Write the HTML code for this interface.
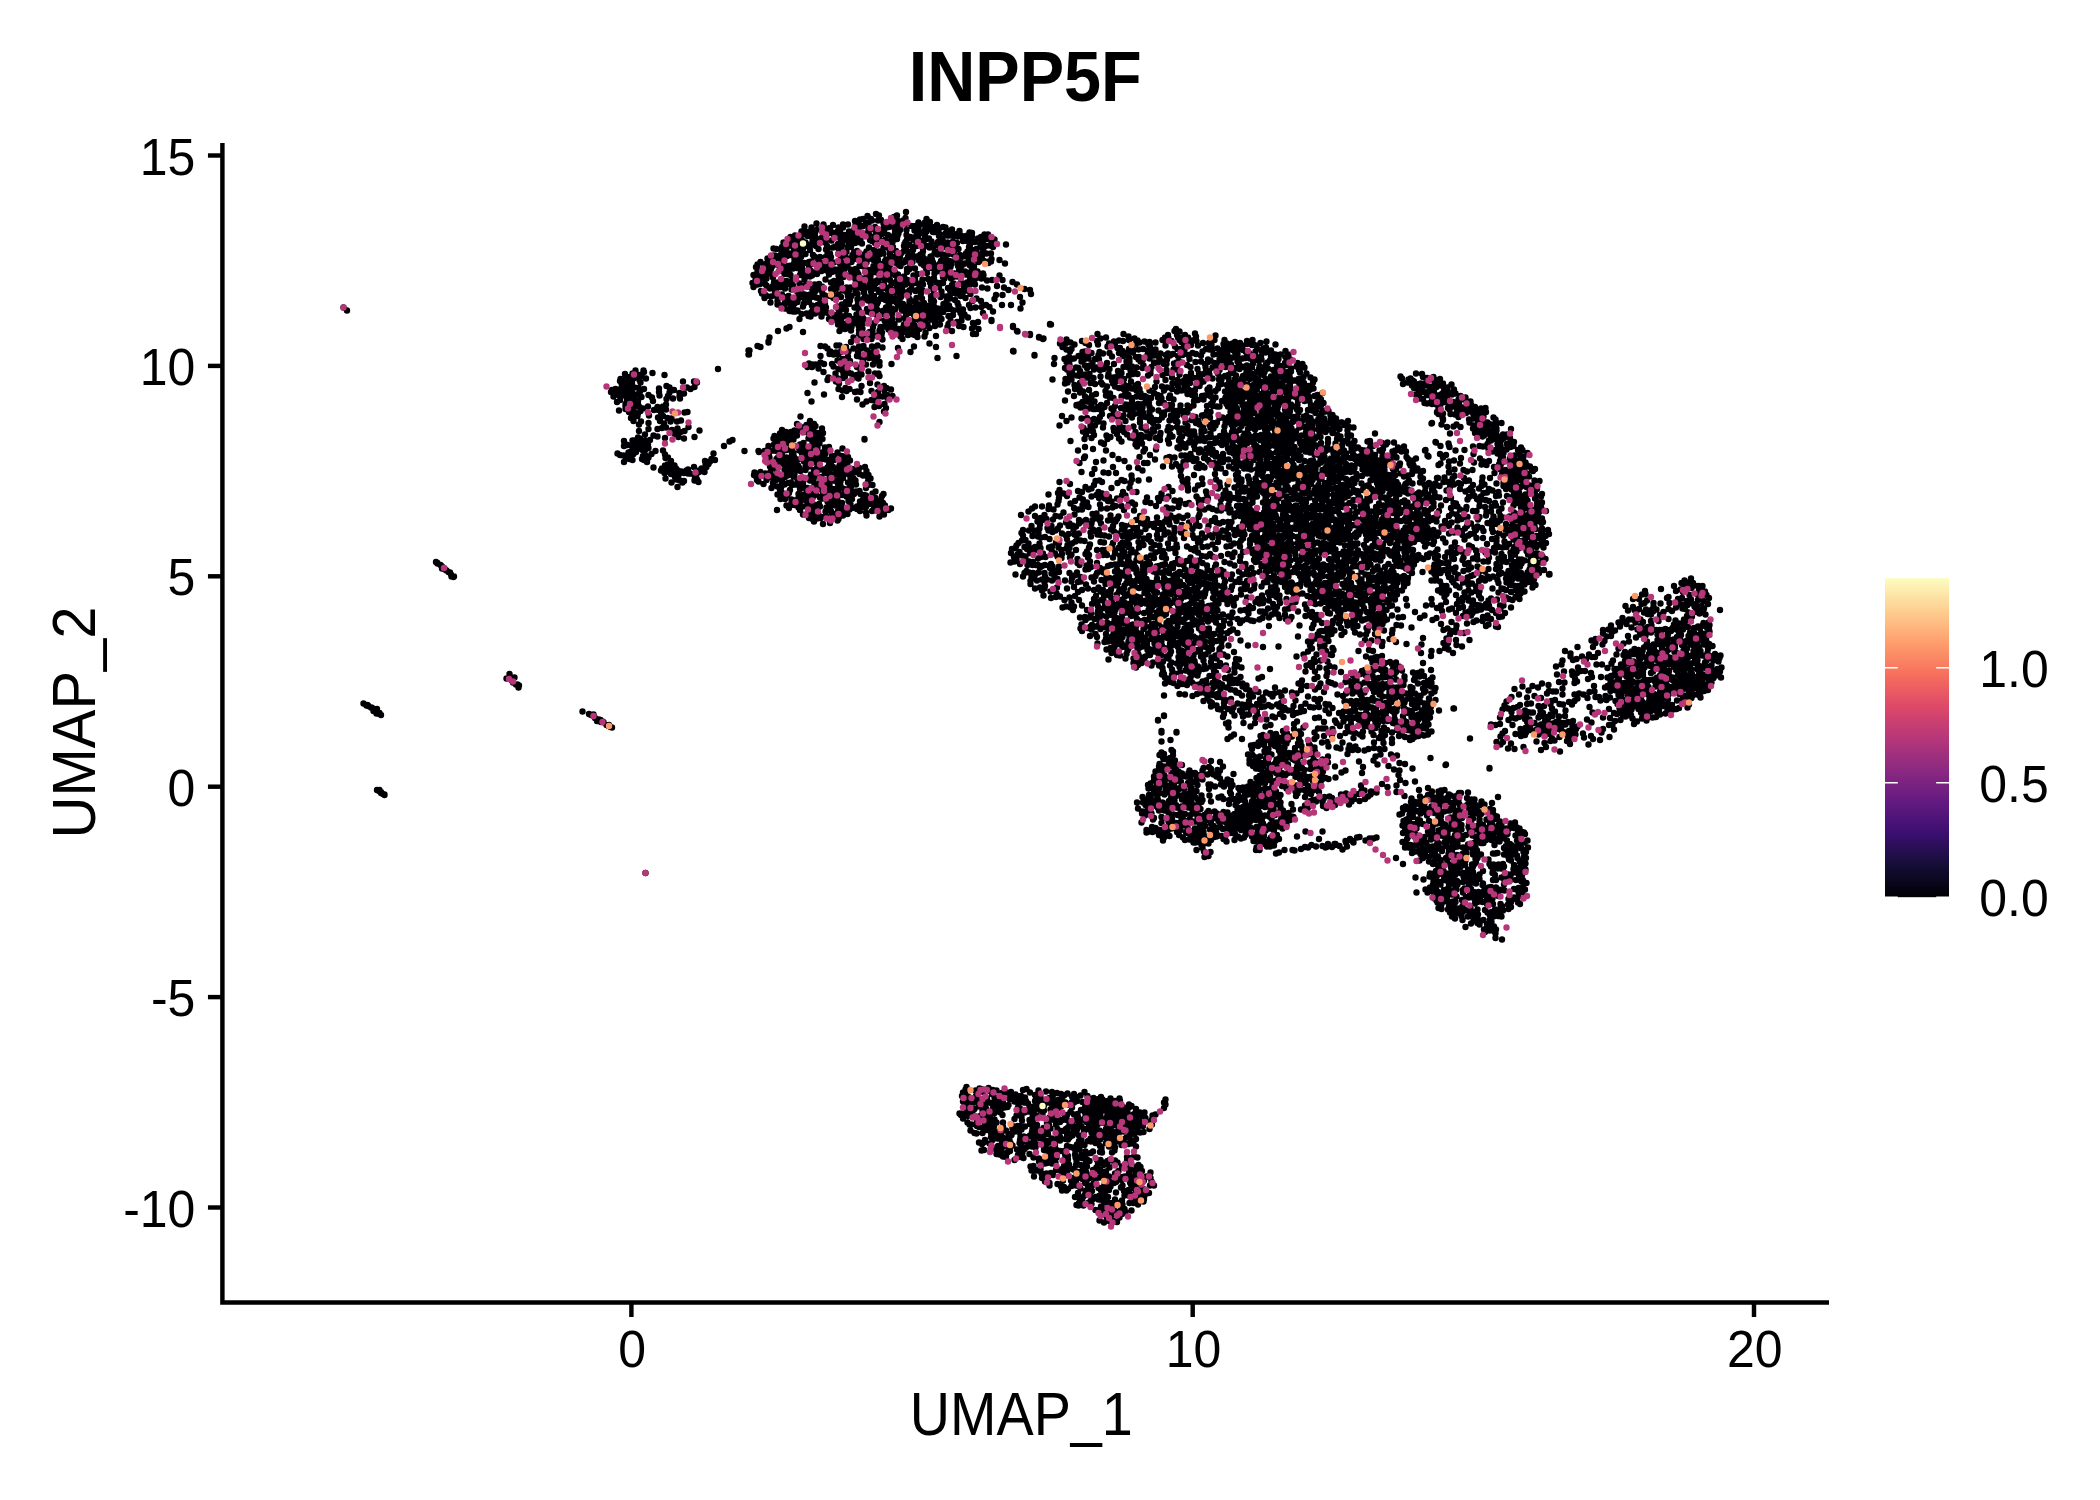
<!DOCTYPE html>
<html lang="en"><head><meta charset="utf-8"><title>INPP5F UMAP feature plot</title>
<style>html,body{margin:0;padding:0;background:#fff}svg{display:block}text{font-family:"Liberation Sans", Arial, Helvetica, sans-serif;fill:#000}</style></head><body>
<svg width="2100" height="1500" viewBox="0 0 2100 1500">
<rect width="2100" height="1500" fill="#fff"/>
<path transform="scale(.5)" fill="none" stroke="#000004" stroke-width="12.8" stroke-linecap="round" d="M687 615h0m7 6h0m72 967h0m-4-2h0m0-2h0m-4-2h0m1-2h0m-5 0h0m8-150h0m-3-2h0m-6-1h0m6-1h0m-8-4h0m-4 0h0m1-1h0m6-3h0m-8-1h0m-4-2h0m1 0h0m-7-3h0m0-1h0m-3 0h0m2-1h0m-8-3h0m42 182h0m0 1h0m103-466h0m2 1h0m1 2h0m6 3h0m2 2h0m2 2h0m4 3h0m-5 0h0m6 2h0m3 2h0m4 3h0m3 1h0m2 4h0m1 4h0m5 0h0m-1 1h0m130 221h0m1-4h0m-3-2h0m-3 0h0m-6-4h0m-2-4h0m-1-1h0m-3-2h0m-7-1h0m4 0h0m12-2h0m-10-7h0m146 75h0m13 5h0m9 1h0m-5 1h0m6 3h0m2 3h0m7 3h0m-3 3h0m30 13h0m-3-1h0m-4-2h0m-4-2h0m5 0h0m-11-6h0m-5 0h0m3-1h0m-4-3h0m46-529h0m-7-1h0m-5-3h0m13-15h0m0-10h0m-10-61h0m-4-17h0m6-4h0m1-7h0m-14 0h0m19-3h0m-9 0h0m9-3h0m-16-1h0m9 0h0m-17-2h0m8-1h0m6-2h0m-12-1h0m7-2h0m15-2h0m-3-1h0m0-9h0m-3-4h0m1-4h0m46-17h0m-16 0h0m17 3h0m-16 3h0m-7 0h0m-15 1h0m33 1h0m-4 2h0m2 2h0m-22 1h0m10 1h0m23 2h0m-25 0h0m-18 2h0m30 1h0m-23 1h0m-8 3h0m33 1h0m-17 1h0m-8 1h0m7 6h0m-13 1h0m19 1h0m8 1h0m-21 1h0m32 1h0m-24 1h0m16 4h0m-23 2h0m3 0h0m-7 1h0m12 2h0m-4 1h0m12 0h0m-21 1h0m12 2h0m4 0h0m-11 2h0m26 0h0m-30 0h0m16 1h0m-15 5h0m9 0h0m13 2h0m-10 2h0m-2 4h0m12 0h0m-25 0h0m19 2h0m-4 1h0m-15 1h0m45 1h0m-37 1h0m20 0h0m-15 2h0m22 1h0m-19 1h0m-16 0h0m9 2h0m21 2h0m-23 2h0m11 1h0m7 2h0m-11 3h0m10 2h0m-7 2h0m-6 2h0m5 6h0m15 1h0m-4 6h0m0 13h0m12 7h0m-14 6h0m4 2h0m-15 4h0m25 0h0m-14 0h0m-8 0h0m13 4h0m-5 0h0m-3 0h0m13 1h0m-37 1h0m47 1h0m-41 2h0m37 0h0m-27 2h0m8 0h0m5 1h0m12 2h0m-25 1h0m26 3h0m-18 1h0m12 0h0m4 2h0m-17 2h0m-6 0h0m-6 0h0m-3 1h0m10 3h0m-6 0h0m-5 2h0m8 0h0m27 1h0m-5 1h0m-35 1h0m38 3h0m-35 0h0m8 1h0m22 1h0m-25 0h0m6 2h0m23 0h0m6 2h0m0 2h0m-46 0h0m43 822h0m52-781h0m-12-8h0m11-9h0m-13-2h0m12-2h0m-6-1h0m-13-2h0m2-4h0m14-1h0m-31-1h0m23-4h0m12-2h0m-7 0h0m7-7h0m-11-6h0m-34-1h0m39 0h0m-6-6h0m-27-1h0m8-6h0m15-1h0m-29-5h0m3-16h0m30-4h0m-15-3h0m-8-2h0m37-11h0m-47-2h0m18 0h0m9-2h0m8-1h0m-4-8h0m-31-1h0m44-3h0m-21-1h0m23-5h0m-8-1h0m-19-1h0m10-3h0m-28-1h0m24-7h0m-5-4h0m-9 0h0m24-1h0m-17-5h0m11-1h0m6-4h0m-26-7h0m27-4h0m-29-3h0m32-3h0m-17-1h0m-22-1h0m42-5h0m-21-1h0m0-7h0m21-2h0m-6-3h0m-4-22h0m-24-4h0m61 17h0m22 0h0m1 11h0m-15 1h0m7 3h0m-33 2h0m11 6h0m9 1h0m-9 6h0m1 4h0m-14 0h0m29 27h0m-6 1h0m-7 16h0m-8 2h0m23 11h0m-22 3h0m14 5h0m-8 2h0m-11 4h0m39 6h0m-32 0h0m11 3h0m-19 54h0m39 3h0m-43 0h0m7 3h0m24 2h0m-3 2h0m-17 0h0m-9 1h0m16 1h0m-11 2h0m16 1h0m8 1h0m4 0h0m8 2h0m-31 1h0m-7 4h0m40 2h0m-37 3h0m7 2h0m29 0h0m-21 1h0m-3 3h0m-10 9h0m42-10h0m-3-5h0m-2-7h0m1-4h0m16-4h0m-11 0h0m0-3h0m11-1h0m-6-3h0m10-3h0m4-6h0m-6-1h0m9-4h0m-10-1h0m20-2h0m-7-2h0m4-11h0m-28-46h0m-5-96h0m42-27h0m29 142h0m-6 3h0m-11 9h0m79 76h0m-10-5h0m-3-3h0m19 0h0m-21-7h0m17-2h0m-21-1h0m17-2h0m6-1h0m-22-2h0m12-1h0m-3-40h0m-29-2h0m40 0h0m-12 0h0m19-3h0m-39-190h0m1 0h0m-1-8h0m2 0h0m22-7h0m0 0h0m-6-2h0m0 0h0m14-96h0m4-4h0m-3-3h0m-6-2h0m-2-5h0m14-7h0m-29-1h0m26-3h0m-18-2h0m5-1h0m10 0h0m-25-2h0m18-4h0m10-5h0m-22-1h0m8-1h0m10-3h0m-22-2h0m22-2h0m-11-1h0m4 0h0m-7-4h0m4 0h0m-3-3h0m19 0h0m-2-3h0m-21-3h0m3-5h0m13 0h0m7-4h0m-14-1h0m14-7h0m46-43h0m-4 7h0m-10 4h0m16 1h0m-2 5h0m-17 3h0m5 0h0m-22 3h0m6 1h0m20 3h0m-9 1h0m4 1h0m-6 6h0m19 1h0m-33 1h0m26 1h0m-22 0h0m-8 4h0m22 0h0m-10 2h0m0 5h0m-15 5h0m8 1h0m14 0h0m19 2h0m-6 1h0m-31 0h0m14 1h0m8 0h0m-25 5h0m35 0h0m-10 5h0m-28 0h0m38 1h0m-5 0h0m-32 3h0m29 1h0m6 0h0m6 2h0m-35 5h0m38 6h0m-11 1h0m-6 0h0m-12 3h0m-7 0h0m11 1h0m17 2h0m-10 2h0m-20 2h0m16 2h0m-4 0h0m-18 3h0m30 0h0m-18 2h0m31 0h0m-33 5h0m14 5h0m-15 2h0m28 1h0m-35 1h0m30 1h0m-12 0h0m8 1h0m12 4h0m-25 3h0m19 2h0m-33 1h0m29 0h0m10 1h0m-25 3h0m14 1h0m-7 1h0m20 4h0m-12 2h0m12 3h0m-3 2h0m0 32h0m-6 3h0m-17 5h0m-17 13h0m-2 8h0m0 2h0m27 175h0m3 4h0m15 0h0m-10 0h0m-12 3h0m23 1h0m-13 3h0m-21 1h0m29 3h0m-17 1h0m-14 1h0m7 0h0m21 4h0m-5 1h0m11 0h0m-4 4h0m5 1h0m-25 1h0m-9 1h0m5 0h0m30 2h0m-22 1h0m-24 0h0m25 4h0m17 3h0m-17 1h0m11 0h0m-26 1h0m21 0h0m-15 1h0m-15 5h0m26 3h0m-5 4h0m-20 1h0m17 0h0m17 0h0m-8 1h0m16 0h0m-28 2h0m23 1h0m-17 0h0m9 2h0m13 1h0m-40 1h0m15 2h0m27 1h0m-16 2h0m4 2h0m-31 3h0m10 1h0m24 0h0m-30 2h0m25 3h0m14 1h0m-29 1h0m23 2h0m-7 0h0m-29 1h0m38 5h0m-4 2h0m-31 1h0m9 0h0m6 2h0m11 0h0m-7 1h0m-20 0h0m9 5h0m12 4h0m18 1h0m-6 1h0m-30 0h0m23 3h0m15 1h0m-29 3h0m7 2h0m-19 1h0m17 3h0m20 1h0m-17 4h0m15 2h0m-23 3h0m20 1h0m-11 3h0m6 5h0m-9 0h0m22 1h0m0 6h0m-1 5h0m-9 1h0m5 5h0m-24 4h0m74 23h0m-3-5h0m-7-2h0m1-7h0m-13 0h0m21-1h0m-10-3h0m8-1h0m-25-4h0m30 0h0m-2-4h0m-31-1h0m5-1h0m4-1h0m20 0h0m-12-1h0m-25-2h0m5 0h0m6-1h0m26-1h0m-11-4h0m-29-2h0m18-2h0m-10-1h0m4 0h0m18-1h0m9-2h0m-20-3h0m16 0h0m7-2h0m-10-1h0m-12 0h0m26-1h0m-35-1h0m24-5h0m-8-3h0m-13-2h0m15-2h0m-5 0h0m-4-1h0m22-1h0m1-5h0m-38 0h0m5 0h0m4-1h0m6 0h0m21-6h0m-25 0h0m5-1h0m13 0h0m-25-2h0m32-1h0m-8-3h0m12-2h0m-44 0h0m35-4h0m-33-1h0m12-6h0m27-2h0m-33 0h0m16 0h0m-20-4h0m7-1h0m13-1h0m7-1h0m-33 0h0m11-2h0m-7 0h0m29-2h0m9-5h0m-6 0h0m-13-1h0m3 0h0m20-3h0m-36-1h0m11 0h0m-15 0h0m30-1h0m-33-4h0m26 0h0m-7-1h0m14-1h0m6-1h0m-13-2h0m-30-1h0m20-1h0m-17-1h0m28-1h0m10-4h0m-26 0h0m5-1h0m14-2h0m-17 0h0m-17-2h0m24 0h0m-12-2h0m31-2h0m3-3h0m-30 0h0m7-3h0m18-1h0m1-5h0m-39-1h0m30-2h0m-33-1h0m47-5h0m-37 0h0m21-6h0m-29 0h0m42-2h0m-6-1h0m-33-1h0m8 0h0m30-2h0m-22-4h0m26-3h0m-13-1h0m7 0h0m-12-1h0m15-2h0m-34 0h0m27 0h0m-1-6h0m-19-9h0m22-30h0m-8-17h0m14-21h0m-5-31h0m-9 0h0m10-5h0m6 0h0m-13-2h0m-12-63h0m-7-26h0m22-5h0m-4-1h0m-14-4h0m27-1h0m-17 0h0m10-3h0m-37-1h0m5 0h0m39-2h0m-35 0h0m-8-4h0m39-1h0m-20-3h0m25 0h0m-7-2h0m-35-4h0m19 0h0m10-3h0m-23 0h0m-8-4h0m23-1h0m6-2h0m-18-1h0m34-1h0m-9-1h0m-9-1h0m-2-3h0m-14 0h0m22-1h0m-12 0h0m-4-2h0m22-1h0m-31-2h0m35-1h0m-28-2h0m22-4h0m8-4h0m-15-1h0m-31-1h0m25-1h0m18-1h0m-30-2h0m10-8h0m11-6h0m-11-2h0m15 0h0m-24-1h0m5-1h0m5-3h0m20-1h0m-28-1h0m8-1h0m11-2h0m-17-1h0m-18-3h0m8-1h0m24-1h0m-14 0h0m19-7h0m-24 0h0m-11-1h0m21-1h0m-5 0h0m14-2h0m5-1h0m-24-1h0m-10-3h0m8-3h0m5-2h0m27-1h0m-3-3h0m-15-2h0m-13-1h0m-13-1h0m7-1h0m11-4h0m17-1h0m-14-2h0m-19-3h0m11-2h0m-4 0h0m15 0h0m11-1h0m-4-3h0m-5-4h0m15 0h0m-31-3h0m34 0h0m-25-1h0m-19-1h0m40-1h0m-33-1h0m10-2h0m29-1h0m-16-3h0m-25-1h0m30-1h0m-14-2h0m24-1h0m-4 0h0m-18-3h0m8 0h0m-13-1h0m20-2h0m0-6h0m-14-2h0m24-6h0m14 2h0m19 1h0m11 5h0m-27 1h0m10 0h0m-25 3h0m20 3h0m6 0h0m19 0h0m-5 1h0m-11 2h0m-5 1h0m20 0h0m-11 4h0m-24 5h0m36 1h0m-32 1h0m-14 1h0m4 1h0m14 2h0m11 0h0m-21 2h0m4 1h0m34 3h0m-4 1h0m-22 4h0m-22 0h0m48 1h0m-10 0h0m-4 2h0m11 2h0m-22 0h0m-18 1h0m15 1h0m26 5h0m-18 3h0m-5 1h0m-15 6h0m11 0h0m11 0h0m-8 3h0m3 5h0m-21 2h0m31 1h0m12 1h0m-36 0h0m-9 2h0m18 2h0m8 3h0m-5 0h0m-13 2h0m5 3h0m15 1h0m8 0h0m-4 0h0m-15 1h0m-12 0h0m16 0h0m25 1h0m-37 1h0m30 1h0m-16 1h0m7 0h0m-30 4h0m24 1h0m19 2h0m-26 8h0m25 2h0m-8 1h0m-6 3h0m9 1h0m6 2h0m-39 0h0m35 2h0m4 2h0m-33 1h0m23 0h0m5 4h0m-10 1h0m-23 1h0m28 0h0m-2 5h0m-20 3h0m32 2h0m-27 2h0m15 1h0m-5 0h0m7 4h0m-29 1h0m3 11h0m9 0h0m-5 0h0m-10 2h0m40 3h0m-23 2h0m-6 2h0m31 2h0m-37 6h0m16 1h0m-10 0h0m33 1h0m-10 3h0m-26 3h0m37 1h0m-22 4h0m9 0h0m5 2h0m-10 0h0m15 4h0m-1 5h0m3 13h0m-6 29h0m6 0h0m-38 1h0m9 1h0m5 4h0m6 6h0m11 2h0m-13 3h0m18 1h0m-10 0h0m-26 3h0m34 9h0m-34 4h0m7 3h0m16 0h0m3 5h0m-30 4h0m40 1h0m-30 6h0m24 3h0m-14 8h0m17 1h0m-19 4h0m17 3h0m6 4h0m-1 11h0m-29 11h0m-4 68h0m-9 9h0m11 0h0m-7 3h0m-4 3h0m-2 6h0m12 0h0m-7 4h0m1 5h0m19 7h0m-23 1h0m15 0h0m-15 3h0m20 3h0m-3 1h0m-5 2h0m28 1h0m-35 1h0m11 1h0m-7 2h0m25 3h0m-5 0h0m-27 2h0m11 4h0m4 1h0m5 1h0m11 0h0m-30 3h0m24 1h0m-28 2h0m24 4h0m21 1h0m-17 3h0m4 0h0m-11 1h0m-21 1h0m5 1h0m31 0h0m-24 2h0m-10 2h0m44 2h0m-31 0h0m10 0h0m-6 3h0m20 2h0m-6 1h0m-8 1h0m20 2h0m-14 1h0m-22 1h0m15 5h0m12 2h0m-5 0h0m-10 3h0m-15 1h0m35 0h0m-27 3h0m-13 1h0m24 1h0m-19 3h0m36 1h0m-16 2h0m4 2h0m6 0h0m-14 0h0m-14 1h0m35 1h0m-7 6h0m-12 1h0m6 0h0m-18 1h0m22 2h0m-24 2h0m7 0h0m-11 3h0m19 1h0m-14 1h0m24 1h0m6 2h0m-20 3h0m13 1h0m5 0h0m-14 3h0m18 1h0m-39 0h0m33 3h0m-38 0h0m7 2h0m20 1h0m-7 1h0m-17 2h0m43 1h0m-3 4h0m-14 0h0m-11 1h0m13 3h0m-27 3h0m28 1h0m-13 2h0m21 1h0m-30 1h0m-2 2h0m-7 1h0m43 1h0m-2 3h0m-15 5h0m-14 2h0m40-17h0m9-3h0m-4-4h0m-4-1h0m-3 0h0m36-1h0m-21-3h0m15-1h0m6-1h0m-16-1h0m-7-1h0m27-1h0m-10-1h0m-31-1h0m18-1h0m0-3h0m-17-2h0m36-3h0m-23-1h0m29-1h0m-22-3h0m-6-3h0m29 0h0m-34-2h0m4-1h0m3-1h0m-16-1h0m24-2h0m13 0h0m-29 0h0m-2-3h0m22-2h0m7-1h0m-16 0h0m-15-4h0m10-1h0m-17-5h0m22-1h0m9-2h0m-5-2h0m-11-2h0m-15-2h0m30-2h0m-29-2h0m25-2h0m-21-1h0m15 0h0m25-5h0m-41-3h0m34 0h0m-23 0h0m4-1h0m8-2h0m-24-3h0m30-1h0m-16-1h0m7-2h0m-25-2h0m39 0h0m-30-2h0m6-2h0m-4-4h0m-10-3h0m4-1h0m15-3h0m-11-1h0m1-5h0m6-1h0m-9-1h0m-4-1h0m2-15h0m40-88h0m-11-10h0m-30-5h0m26-10h0m11 0h0m-6-1h0m-22-1h0m-8-1h0m14-3h0m-8-2h0m32-4h0m-6-15h0m-31-1h0m22-1h0m-18-2h0m23-3h0m10-1h0m-36-1h0m15-1h0m-5-2h0m24-1h0m-36-3h0m3-7h0m26 0h0m-14-12h0m26-2h0m-40-2h0m10-5h0m24 0h0m-6-1h0m2-7h0m-35-1h0m16-1h0m10-6h0m15 0h0m-30-3h0m26-1h0m9-1h0m-25-8h0m25-6h0m-20-3h0m14-4h0m-3-4h0m-16-6h0m16-1h0m-28-2h0m8-1h0m27 0h0m-22-3h0m-6-2h0m-15 0h0m35-1h0m5 0h0m-36-1h0m15-1h0m4-1h0m-12-1h0m35-1h0m-47 0h0m34-1h0m-33-3h0m35-3h0m-12-1h0m18 0h0m3-2h0m-39-3h0m11-1h0m-6-1h0m28 0h0m-7-2h0m6-6h0m-27-3h0m-11-1h0m36-1h0m-8-3h0m-24 0h0m-4-1h0m8-2h0m-5-3h0m14-1h0m18-1h0m-24-3h0m8-3h0m23-2h0m-8 0h0m-33-5h0m14-1h0m7-1h0m12-4h0m-20-1h0m33-2h0m-17-1h0m-25-3h0m12 0h0m27-4h0m-14 0h0m-10-2h0m-20 0h0m36 0h0m-24 0h0m30-1h0m4-5h0m-45-3h0m36-1h0m-5-2h0m4-3h0m-6-1h0m15-2h0m-46-2h0m7-1h0m19-1h0m-4-4h0m-16 0h0m31 0h0m-2-4h0m-7-2h0m5-1h0m-25-2h0m13-1h0m10-1h0m-30-3h0m6-1h0m40-1h0m-32 0h0m24-1h0m-37-3h0m5-3h0m39 0h0m-30-2h0m7 0h0m-22-3h0m28-3h0m19 0h0m-13 0h0m-12-2h0m-12-4h0m-10-1h0m44-1h0m-20 0h0m9-2h0m-6-3h0m-15-2h0m21-1h0m-30-1h0m18-7h0m-6-1h0m-12-2h0m18-1h0m22-3h0m-14-1h0m-12-1h0m18-1h0m-32-1h0m5-2h0m25-1h0m7-1h0m-34-1h0m15-1h0m15-3h0m-25 0h0m17 0h0m-26-4h0m5 0h0m22-2h0m-7-1h0m-5-4h0m20-2h0m-11 0h0m8-3h0m-29-3h0m40-3h0m-15-2h0m-25-1h0m10 0h0m22-1h0m-1-5h0m-7-1h0m10-3h0m6-1h0m26-10h0m6 3h0m-23 1h0m7 6h0m20 2h0m-18 1h0m12 0h0m-24 4h0m5 0h0m30 2h0m5 4h0m-35 0h0m13 3h0m23 1h0m-7 3h0m-21 0h0m-8 2h0m31 2h0m-16 0h0m8 3h0m8 1h0m-16 0h0m12 2h0m-35 0h0m9 1h0m38 1h0m-26 2h0m8 6h0m12 2h0m-30 0h0m4 2h0m6 0h0m20 2h0m-20 2h0m17 9h0m7 0h0m-36 0h0m10 5h0m16 2h0m-31 1h0m25 0h0m-7 2h0m16 2h0m-8 2h0m-16 0h0m-14 0h0m19 3h0m4 0h0m-11 5h0m-7 1h0m38 1h0m-25 1h0m9 0h0m-4 2h0m18 0h0m-37 3h0m40 1h0m-11 2h0m-7 2h0m-8 2h0m25 2h0m-11 3h0m-10 0h0m-5 0h0m-8 3h0m10 4h0m18 1h0m-10 1h0m-23 0h0m38 3h0m-30 3h0m-6 2h0m24 2h0m-20 1h0m31 3h0m-16 1h0m-7 2h0m10 1h0m-17 2h0m11 1h0m17 2h0m-25 4h0m-10 2h0m39 1h0m-30 1h0m23 0h0m-16 0h0m11 2h0m-18 4h0m16 1h0m8 6h0m-18 2h0m-18 0h0m11 2h0m33 0h0m-12 2h0m-34 1h0m39 1h0m-14 2h0m18 0h0m-35 1h0m10 1h0m10 2h0m-2 4h0m-7 1h0m-4 1h0m29 5h0m-38 3h0m4 1h0m16 0h0m-8 2h0m25 0h0m-6 1h0m-32 1h0m40 2h0m-33 0h0m26 3h0m-14 1h0m5 8h0m-28 3h0m45 1h0m-5 0h0m-20 5h0m19 7h0m-7 1h0m-15 0h0m13 7h0m-14 1h0m-6 2h0m25 1h0m-5 0h0m-15 5h0m-8 0h0m12 1h0m15 0h0m-30 5h0m4 1h0m6 1h0m22 1h0m-10 12h0m-11 2h0m21 2h0m-17 4h0m-14 2h0m10 4h0m-10 5h0m21 3h0m-17 3h0m10 1h0m2 6h0m9 1h0m-27 5h0m14 0h0m13 2h0m-22 12h0m20 4h0m-7 0h0m9 5h0m-19 14h0m15 3h0m13 3h0m5 4h0m-4 5h0m-26 1h0m13 2h0m18 6h0m-17 2h0m8 1h0m10 3h0m-32 4h0m5 1h0m-15 2h0m36 5h0m-11 4h0m-9 2h0m23 2h0m-4 7h0m-9 21h0m-30 34h0m0 1h0m1 55h0m3 8h0m4 8h0m-2 3h0m6 4h0m-5 6h0m9 7h0m-9 0h0m-4 6h0m19 7h0m-6 4h0m22 1h0m-38 2h0m3 1h0m32 1h0m-18 4h0m5 0h0m11 4h0m-28 2h0m16 1h0m-6 0h0m-14 3h0m36 0h0m-32 0h0m23 1h0m-19 1h0m28 2h0m-12 1h0m16 0h0m-10 1h0m-3 0h0m-9 1h0m-16 1h0m21 1h0m10 5h0m-15 1h0m-4 1h0m-12 3h0m29 1h0m7 3h0m-35 2h0m26 2h0m18-13h0m5-3h0m3-225h0m-3-13h0m1-51h0m38-24h0m-25-8h0m9-18h0m-4-5h0m15-3h0m-14-1h0m19-1h0m-31-3h0m15 0h0m-12-2h0m5-1h0m-21-3h0m31 0h0m14-1h0m-25 0h0m16 0h0m-27-1h0m34-3h0m-13-1h0m-29-1h0m30-3h0m11 0h0m-30-1h0m31-3h0m-36-3h0m14-3h0m13-1h0m-26 0h0m15-2h0m12-6h0m-28-2h0m34-2h0m-42-4h0m46-1h0m-18 0h0m12 0h0m-26-2h0m-6-2h0m19 0h0m5-3h0m10-3h0m-16 0h0m-25-1h0m19 0h0m10-2h0m-27-2h0m14-1h0m26-1h0m-20-1h0m23-1h0m-38 0h0m12-2h0m23-2h0m-40-2h0m11 0h0m12-2h0m-26-3h0m28-2h0m-24 0h0m20-2h0m18-1h0m-41-1h0m35 0h0m-22-1h0m13-3h0m16 0h0m-43-1h0m15-1h0m8-1h0m24-1h0m-19-1h0m-24-2h0m23-2h0m-9-3h0m13 0h0m4 0h0m4-3h0m-27 0h0m34-1h0m-39 0h0m14 0h0m5-1h0m-8-3h0m-14-1h0m35 0h0m-4-1h0m-3-6h0m-18-3h0m-11-1h0m17 0h0m-5-3h0m-7-1h0m30-1h0m-36 0h0m-1-4h0m41-1h0m-4-1h0m-34-2h0m21-4h0m20-2h0m-24 0h0m10-5h0m-18 0h0m27-2h0m-4-3h0m-32-1h0m15 0h0m3 0h0m-22 0h0m9-1h0m15-4h0m16-1h0m-25 0h0m-11-4h0m41 0h0m-18-3h0m15-2h0m-38-2h0m12 0h0m16 0h0m4-1h0m-26-7h0m22-2h0m-29-1h0m40-1h0m-10-2h0m2-4h0m-26 0h0m-3-3h0m32-2h0m-20-1h0m27-4h0m-36-1h0m10-1h0m18-2h0m-16-3h0m-7-1h0m23-6h0m-23 0h0m10 0h0m0-4h0m-11-1h0m-11-1h0m45-2h0m-41 0h0m29-4h0m-17 0h0m-5 0h0m12-2h0m5-5h0m-18 0h0m6-1h0m17-4h0m-23-2h0m6-3h0m18-7h0m41 14h0m7 6h0m-23 1h0m13 0h0m5 2h0m-8 2h0m-12 1h0m-5 2h0m39 2h0m-36 0h0m21 1h0m10 1h0m-27 1h0m24 1h0m-11 2h0m-21 1h0m24 2h0m18 1h0m-35 0h0m30 0h0m-24 1h0m-3 2h0m-5 1h0m16 4h0m-18 1h0m4 3h0m22 1h0m-32 2h0m25 0h0m-5 2h0m-16 0h0m33 2h0m-15 6h0m-9 0h0m18 3h0m-24 0h0m-6 2h0m39 1h0m-7 0h0m-13 3h0m-20 2h0m44 3h0m-24 0h0m23 4h0m-28 2h0m4 2h0m-20 0h0m9 2h0m27 0h0m-31 1h0m-6 3h0m35 1h0m-10 0h0m-9 0h0m24 1h0m-26 2h0m12 1h0m-25 2h0m31 0h0m10 1h0m-24 2h0m12 1h0m-6 3h0m21 0h0m-6 5h0m-33 1h0m22 0h0m20 6h0m-18 3h0m15 1h0m-34 1h0m-8 3h0m41 5h0m-12 2h0m-26 0h0m15 1h0m14 0h0m7 2h0m-36 1h0m30 3h0m-32 1h0m8 1h0m10 2h0m-6 1h0m22 3h0m-20 1h0m-6 5h0m31 2h0m-22 0h0m-14 1h0m11 5h0m20 5h0m-22 2h0m26 0h0m-33 2h0m11 1h0m18 3h0m6 3h0m-20 3h0m-16 1h0m6 2h0m25 1h0m-4 1h0m-28 2h0m37 0h0m-3 0h0m-18 1h0m-22 1h0m28 2h0m-11 1h0m22 0h0m-15 2h0m-17 0h0m7 0h0m8 5h0m15 0h0m-10 0h0m-18 4h0m37 0h0m-43 1h0m34 2h0m-23 3h0m17 1h0m14 1h0m-37 1h0m30 1h0m-25 1h0m9 1h0m-22 1h0m26 5h0m19 0h0m-15 2h0m-26 2h0m41 1h0m-23 2h0m-14 1h0m26 1h0m-32 2h0m12 0h0m-7 2h0m19 6h0m-17 1h0m-5 3h0m20 3h0m-14 1h0m24 13h0m-31 6h0m44 1h0m47 1533h0m-44-1511h0m38-4h0m-41-40h0m32-10h0m-9-8h0m23-2h0m-38-3h0m17-1h0m-21-1h0m38-3h0m-13-3h0m-18-3h0m-4-4h0m18-2h0m9-2h0m-28-4h0m8-2h0m21-3h0m-34 0h0m45-1h0m-37-2h0m13 0h0m7 0h0m-26-1h0m10 0h0m4 0h0m28-5h0m-19-1h0m-7-2h0m-4-1h0m28-2h0m-22-3h0m17-3h0m-10-3h0m-19-3h0m12-1h0m-10-4h0m18-1h0m11-1h0m-7-3h0m-22-1h0m37-1h0m-20-1h0m13-2h0m-4 0h0m-13-3h0m-18-2h0m26-4h0m3-3h0m-27-1h0m6 0h0m-13-1h0m16-8h0m13 0h0m-16-3h0m20 0h0m8-1h0m-25 0h0m12-1h0m-8-3h0m4-1h0m12-1h0m-30-5h0m12 0h0m27-1h0m-35-1h0m11-1h0m-18 0h0m21-2h0m4-3h0m-10 0h0m25-2h0m-13-4h0m13 0h0m-37 0h0m20-2h0m-7-1h0m25-2h0m-35-1h0m17 0h0m12-3h0m-19 0h0m-6-5h0m30-1h0m-9-4h0m-32 0h0m11 0h0m11-1h0m4-3h0m-21-4h0m29 0h0m8-3h0m-13-2h0m-19-1h0m11-1h0m15-1h0m-20-1h0m-18-2h0m7 0h0m19-3h0m-14-1h0m29 0h0m-19-1h0m-19-1h0m30-1h0m-25-4h0m4-1h0m31-5h0m-38-1h0m29 0h0m-12-1h0m4 0h0m15-3h0m-35 0h0m23 0h0m-11-1h0m3-5h0m25 0h0m-42-2h0m27-1h0m-13-4h0m-5-1h0m-12-4h0m65 15h0m5 1h0m-22 5h0m10 1h0m12 1h0m18 1h0m-24 2h0m-12 0h0m30 1h0m9 0h0m-4 1h0m-19 1h0m26 1h0m-34 2h0m-8 0h0m24 2h0m13 1h0m-24 1h0m22 4h0m-21 0h0m-2 4h0m24 1h0m5 1h0m-14 2h0m-9 2h0m-6 0h0m-3 3h0m31 2h0m-34 2h0m27 2h0m-39 1h0m44 2h0m-23 0h0m-15 1h0m9 0h0m14 1h0m-12 3h0m20 2h0m-5 1h0m16 2h0m-25 2h0m14 0h0m-36 1h0m9 2h0m8 0h0m-12 2h0m14 2h0m-18 2h0m26 0h0m-1 4h0m-25 3h0m22 1h0m11 2h0m-25 0h0m-8 1h0m12 1h0m32 2h0m-8 1h0m-19 1h0m-7 0h0m35 1h0m-27 4h0m18 1h0m5 2h0m-13 1h0m-9 2h0m5 1h0m-8 3h0m-4 1h0m-12 0h0m19 3h0m9 1h0m-23 2h0m37 4h0m-30 0h0m-1 6h0m-9 2h0m17 5h0m-16 1h0m-4 3h0m10 4h0m22 1h0m-8 5h0m17 0h0m-24 8h0m25 4h0m-12 1h0m-10 1h0m-15 3h0m40 7h0m-45 0h0m8 3h0m-5 4h0m12 2h0m-13 6h0m33 3h0m-10 2h0m2 6h0m-21 2h0m17 3h0m13 1h0m-5 10h0m-6 0h0m-13 1506h0m26 3h0m-28 2h0m34 0h0m-14 2h0m7 2h0m8 1h0m-40 1h0m5 4h0m-7 3h0m28 0h0m-16 1h0m11 3h0m-14 1h0m19 2h0m8 0h0m-1 4h0m-33 0h0m17 1h0m-9 1h0m14 0h0m9 2h0m-28 5h0m4 1h0m26 0h0m-10 5h0m-15 0h0m31 3h0m-24 1h0m-6 2h0m10 1h0m-20 2h0m-3 3h0m40 1h0m-26 1h0m-10 5h0m34 4h0m-6 1h0m-19 3h0m4 4h0m4 0h0m11 3h0m4 2h0m9 2h0m-26 5h0m24 5h0m-16 0h0m4 1h0m5 18h0m9 0h0m-3 3h0m4 12h0m-5 1h0m49 13h0m-6-1h0m-7-4h0m-6-1h0m22-3h0m-12-3h0m-15-5h0m12 0h0m-7-1h0m13-3h0m-10-1h0m6-1h0m-23-4h0m25-5h0m11 0h0m-45-2h0m15 0h0m28-3h0m-18 0h0m10-2h0m-23-1h0m16-3h0m-7-2h0m-9-3h0m5-1h0m16 0h0m-10-2h0m19-2h0m-43 0h0m8-1h0m4-4h0m25-3h0m-18-1h0m-18-2h0m15-2h0m8-3h0m13 0h0m-32 0h0m6-4h0m9-2h0m-20-5h0m11-3h0m25-1h0m-32-1h0m16-3h0m12-1h0m-29-2h0m0-6h0m25-1h0m12-1h0m-23 0h0m29-1h0m-23-2h0m13 0h0m-34-3h0m11-3h0m20 0h0m-14-1h0m18 0h0m-10-1h0m-21-1h0m28-5h0m-29-1h0m15-2h0m-5-7h0m20-2h0m9-1h0m-36-4h0m16 0h0m-8-1h0m-8-4h0m6-1534h0m0-2h0m3-17h0m-7-9h0m-7-4h0m32 0h0m-15-12h0m3-8h0m13 0h0m-30-13h0m33-2h0m-14-3h0m-20-11h0m10-1h0m21 0h0m-6-9h0m11-24h0m-33-1h0m5-3h0m-4 0h0m21-3h0m-16-2h0m-1-11h0m-9 0h0m13-13h0m-15-2h0m8-1h0m33-2h0m-25 0h0m2-5h0m-6-2h0m6-3h0m-16-1h0m5-4h0m-2-5h0m-7 0h0m56 95h0m9 5h0m15 9h0m-32 2h0m43 0h0m2 8h0m-22 6h0m5 11h0m-23 5h0m19 7h0m-15 35h0m0 2h0m8 8h0m1 1h0m25 5h0m0 2h0m-33 32h0m-1 0h0m1 1h0m37 314h0m-7 6h0m-15 7h0m21 22h0m-17 8h0m12 1h0m-15 5h0m3 5h0m5 9h0m-7 1h0m-7 5h0m20 1h0m-24 4h0m16 3h0m-18 2h0m33 1h0m-10 1h0m-30 0h0m15 6h0m-17 2h0m38 0h0m-25 3h0m9 2h0m7 2h0m-23 1h0m5 5h0m25 4h0m-29 0h0m-8 2h0m19 3h0m15 2h0m-2 12h0m5 3h0m-9 1h0m-18 3h0m15 4h0m17 2h0m-2 7h0m0 6h0m-8 1010h0m-7 2h0m-24 4h0m38 1h0m-29 4h0m3 3h0m8 0h0m-21 1h0m29 2h0m-20 1h0m-11 2h0m20 4h0m13 0h0m-23 1h0m14 1h0m5 1h0m8 2h0m-19 2h0m-20 1h0m42 3h0m-23 2h0m5 3h0m16 5h0m-16 0h0m8 2h0m-13 5h0m-3 1h0m10 3h0m-14 4h0m30 2h0m-15 1h0m16 7h0m-36 3h0m11 1h0m5 0h0m10 1h0m-25 4h0m18 2h0m-8 1h0m-9 1h0m4 2h0m34 0h0m-26 1h0m-21 4h0m6 2h0m37 1h0m-12 2h0m-7 0h0m14 1h0m-36 5h0m21 1h0m6 1h0m6 2h0m-31 3h0m18 0h0m20 1h0m-3 2h0m-14 0h0m-17 2h0m34 1h0m5 1h0m-12 2h0m-35 1h0m32 2h0m-15 1h0m5 1h0m-19 2h0m21 3h0m4 0h0m14 3h0m-23 2h0m5 4h0m6 2h0m-18 4h0m32 13h0m2 8h0m36 30h0m0-5h0m-9-3h0m-6-7h0m-16-3h0m18-2h0m20-1h0m-23-3h0m10 0h0m9-1h0m-28-5h0m7-1h0m-13 0h0m13-5h0m-14-3h0m23-5h0m14 0h0m-10-1h0m17-1h0m-33-2h0m14 0h0m3-3h0m10-1h0m-15-1h0m-12-1h0m-11-2h0m31-5h0m11 0h0m-14-2h0m10-4h0m-17-4h0m9-1h0m6-1h0m-32-3h0m17 0h0m-20-3h0m42-1h0m-35-2h0m12-2h0m7 0h0m5-2h0m-30 0h0m43-3h0m-17 0h0m13-1h0m-22-3h0m-19-1h0m36 0h0m-24-1h0m-15-3h0m23-1h0m9-4h0m-21 0h0m7-1h0m10-3h0m-6-4h0m-10 0h0m-11-2h0m36-1h0m-14-1h0m-17-2h0m4-4h0m24 0h0m-32-1h0m28-3h0m18-1h0m-46-3h0m39-3h0m-9-1h0m3-3h0m-34-1h0m8-3h0m37-2h0m-25-1h0m-20-2h0m23-5h0m-7-1h0m20-1h0m-31 0h0m39-1h0m-5-2h0m-26-2h0m-13 0h0m8 0h0m9-3h0m6 0h0m14-4h0m9 0h0m-21 0h0m-18 0h0m12-1h0m11-4h0m-25 0h0m19-1h0m-11-1h0m-6-2h0m33-1h0m-6-1h0m-18-2h0m-3-3h0m-8-1h0m36 0h0m-2-6h0m-12-1h0m-15-2h0m25-985h0m-15-5h0m14-8h0m-17-2h0m-14-4h0m19 0h0m-9-2h0m10-3h0m-1-8h0m15-3h0m-30 0h0m20-2h0m-10 0h0m-16-3h0m22-3h0m19-2h0m-38-3h0m32-1h0m-37-1h0m23 0h0m-12-1h0m33-4h0m-10-5h0m-20-1h0m25-2h0m-21-1h0m6-2h0m-14 0h0m-11 0h0m6 0h0m31-2h0m-36-4h0m10-7h0m6-3h0m9 0h0m19-7h0m-24 0h0m-16-7h0m33-1h0m-22-3h0m17-1h0m-28-1h0m34-1h0m-25-6h0m33-2h0m-13-7h0m-17-3h0m8-1h0m-14-1h0m-11-1h0m12-7h0m28-1h0m-36-3h0m28 0h0m14 0h0m-32-4h0m16-1h0m8-4h0m-23-3h0m-5-6h0m11-3h0m20-1h0m-13-1h0m-12-2h0m-11-4h0m41 0h0m-22-2h0m18-11h0m-10-1h0m-27-5h0m14 0h0m14-2h0m-1-22h0m8-230h0m3-31h0m1-12h0m-40-5h0m0-1h0m0 0h0m17-32h0m1-1h0m-9-2h0m0-1h0m24-25h0m-2 0h0m0-1h0m33 31h0m8 6h0m-9 1h0m-12 1h0m29 2h0m-24 5h0m18 4h0m-10 1h0m7 4h0m17 9h0m-19 2h0m-4 3h0m14 0h0m-19 1h0m11 2h0m-7 4h0m6 6h0m13 5h0m5 1h0m-27 0h0m4 3h0m26 3h0m-16 1h0m-5 3h0m6 4h0m9 1h0m-14 0h0m-9 7h0m12 1h0m-8 6h0m25 1h0m-30 1h0m19 3h0m10 6h0m-9 2h0m-14 5h0m24 2h0m-12 7h0m-18 9h0m28 8h0m-5 1h0m0 1h0m-29 21h0m19 3h0m-10 7h0m-14 9h0m22 31h0m15 19h0m3 25h0m-40 38h0m21 4h0m-21 12h0m37 2h0m-40 4h0m11 1h0m7 5h0m25 3h0m-41 1h0m-1 6h0m33 0h0m-9 5h0m-26 2h0m33 7h0m9 3h0m-30 6h0m22 4h0m-29 4h0m38 7h0m-26 5h0m26 2h0m-19 0h0m6 4h0m-25 0h0m17 1h0m15 1h0m-36 4h0m31 2h0m-23 8h0m34 0h0m-21 1h0m12 1h0m-17 2h0m21 1h0m-19 6h0m17 5h0m-33 3h0m26 1h0m-9 3h0m-18 5h0m22 1h0m-6 1h0m19 3h0m-29 0h0m14 5h0m-13 3h0m19 1h0m-28 4h0m25 2h0m-17 1h0m32 2h0m0 8h0m4 4h0m-41 3h0m0 11h0m36 1h0m-15 1h0m10 5h0m-5 5h0m-29 2h0m15 3h0m13 2h0m13 1h0m-8 10h0m-34 1h0m20 2h0m22 7h0m-43 3h0m37 5h0m-30 1h0m-8 1h0m27 1h0m-10 5h0m29 0h0m-15 5h0m5 8h0m-16 0h0m-7 2h0m16 0h0m5 5h0m14 15h0m-46 951h0m21 1h0m-13 1h0m26 0h0m-20 3h0m16 2h0m9 1h0m-5 1h0m-24 2h0m-8 3h0m33 0h0m5 2h0m-10 2h0m4 1h0m-17 0h0m-8 1h0m4 0h0m9 3h0m-14 4h0m-8 1h0m30 1h0m-26 1h0m23 8h0m14 4h0m-7 1h0m-19 1h0m5 0h0m22 4h0m-40 3h0m18 3h0m-9 0h0m28 0h0m-14 2h0m19 1h0m-38 1h0m-4 1h0m28 3h0m-5 1h0m-27 0h0m43 3h0m-19 3h0m-21 3h0m17 0h0m16 1h0m6 0h0m-30 3h0m-7 4h0m34 0h0m-11 1h0m-6 2h0m24 2h0m-13 0h0m-25 3h0m-5 1h0m24 0h0m-8 3h0m5 1h0m-16 2h0m38 1h0m0 6h0m-4 1h0m-20 3h0m6 2h0m16 1h0m-10 0h0m3 3h0m10 0h0m-5 1h0m-41 1h0m15 2h0m-8 0h0m10 6h0m20 1h0m-14 3h0m-4 1h0m-19 2h0m46 0h0m-8 0h0m-21 2h0m6 2h0m17 3h0m-23 3h0m8 4h0m14 1h0m-24 2h0m9 1h0m4 4h0m6 2h0m-19 0h0m-7 0h0m-9 1h0m39 2h0m8 2h0m-36 0h0m11 1h0m-4 6h0m30 0h0m-11 4h0m5 2h0m-12 4h0m-16 0h0m26 3h0m-37 4h0m32 1h0m5 2h0m-9 1h0m-21 1h0m6 1h0m8 4h0m-3 3h0m-9 0h0m32 5h0m-6 8h0m9 2h0m-1 10h0m-5 4h0m4 1h0m51 34h0m-9-4h0m5-17h0m-5-4h0m-8 0h0m16-3h0m-5-4h0m-35-2h0m16-3h0m-7-2h0m5-4h0m-17-2h0m40 0h0m-7-1h0m-11-1h0m10-3h0m-30-1h0m25 0h0m7-2h0m-29-1h0m11-3h0m-9-2h0m13-4h0m18-1h0m-29 0h0m3-3h0m-15-1h0m36-1h0m5 0h0m-26-3h0m8-2h0m3-4h0m-17-1h0m3-3h0m18-4h0m-26-1h0m14-2h0m20-1h0m5-3h0m-22-2h0m26-2h0m-41-3h0m5-1h0m31-1h0m-7-1h0m4-2h0m-14 0h0m7-5h0m-28-2h0m9 0h0m33-3h0m-46 0h0m35-2h0m10-3h0m-34-1h0m7-2h0m15-2h0m-19 0h0m26 0h0m-37-4h0m3-2h0m-4-5h0m6-1h0m6-1h0m7-1h0m22-1h0m-4-1h0m-29-1h0m15 0h0m17-3h0m0-5h0m-3-3h0m-31-2h0m22-4h0m5-3h0m-14 0h0m-6-1h0m-13-2h0m37-1h0m-19-2h0m10-1h0m5-2h0m-8-1h0m19-2h0m-12-2h0m9 0h0m-13-3h0m8 0h0m-16-1h0m21 0h0m-36-1h0m25-2h0m-9-1h0m15 0h0m-12-3h0m-11 0h0m-9-1h0m15-1h0m-4-2h0m4-1h0m-20-1h0m26 0h0m6-2h0m-16-1h0m23-3h0m-28-2h0m11 0h0m9-2h0m-4-2h0m-26 0h0m20 0h0m24-1h0m-39-1h0m24 0h0m1-3h0m5-1h0m-18 0h0m21-2h0m-5-1h0m-6 0h0m-19-1h0m29-2h0m-6 0h0m-7-1h0m-14-2h0m28 0h0m-23-1h0m-9-1h0m15 0h0m13-2h0m-22 0h0m-13-1h0m6-1h0m40-1h0m-12-2h0m-8-1h0m4 0h0m-22 0h0m7-1h0m22-4h0m-19-1h0m-5-1h0m9 0h0m3-1h0m20-2h0m-15 0h0m-11-1h0m-16 0h0m35-1h0m-15-2h0m20-2h0m-14 0h0m6-1h0m-10-2h0m15-2h0m-27-2h0m-14-1h0m8-7h0m26-897h0m-1-13h0m-14-2h0m11-4h0m-27-6h0m19-3h0m18-1h0m-40-1h0m14-1h0m5-2h0m12-1h0m13 0h0m-7-3h0m-14 0h0m-21-1h0m36-7h0m-28-2h0m18-2h0m8-1h0m-19-2h0m-8-1h0m29-2h0m5-1h0m-22-4h0m13 0h0m1-5h0m4-1h0m-26-1h0m22-7h0m-32-2h0m20-3h0m11-4h0m12-3h0m-4-1h0m-15-2h0m4-6h0m9-9h0m-37-3h0m24 0h0m18 0h0m-7-1h0m-23-2h0m21-2h0m-25-6h0m16-6h0m-27 0h0m42-3h0m-20-5h0m-22-1h0m30-2h0m3-6h0m13-1h0m-4-2h0m-32-4h0m37 0h0m-31-1h0m23-2h0m-18-2h0m-9-3h0m21-5h0m-14-3h0m-4-8h0m30-5h0m-28 0h0m-7-2h0m3-5h0m31-3h0m-11 0h0m-16-5h0m2-6h0m21-5h0m-32-2h0m-8-1h0m21-8h0m20-3h0m-7-1h0m-14-4h0m11-2h0m6-3h0m-12-1h0m-5-6h0m2-6h0m19 0h0m-39-4h0m36-3h0m-14 0h0m-13 0h0m19-4h0m10-1h0m-16-7h0m8-1h0m-29-8h0m38-2h0m-25-3h0m-6-2h0m-6-2h0m35-1h0m-26-4h0m-8-6h0m32-3h0m-15-3h0m10-3h0m11-3h0m-7-3h0m-33 0h0m13-5h0m6-2h0m-12-3h0m17-4h0m16-6h0m-13-2h0m8-1h0m-15-13h0m23-3h0m-44-1h0m26-6h0m3-14h0m15-3h0m-39-5h0m2-3h0m16-15h0m-16-4h0m38-6h0m-6-3h0m-33-7h0m14-2h0m5-6h0m-16-1h0m14-6h0m-20 0h0m12-2h0m-11-5h0m39-1h0m-16-4h0m-9 0h0m26-4h0m-10-4h0m-16-2h0m7-3h0m-25-1h0m11-1h0m26-2h0m4-6h0m-1-8h0m-17-2h0m11 0h0m-6 0h0m-13-1h0m-8-1h0m-9-1h0m35-1h0m-31-2h0m37-2h0m-19 0h0m-18-6h0m24-1h0m-8 0h0m-7 0h0m1-6h0m-5-4h0m14-2h0m8-3h0m-26-5h0m12-3h0m27-11h0m-15-1h0m-9-2h0m21-1h0m-15-9h0m-17-1h0m5 0h0m-13-2h0m39 0h0m-35-4h0m6 0h0m7-1h0m21-8h0m-12-1h0m19-1h0m-33-2h0m19-1h0m-7-1h0m-6-3h0m-10 0h0m15-5h0m-22-3h0m35-4h0m-29-1h0m21 0h0m-13-1h0m-14-4h0m10-3h0m24 0h0m9-3h0m-23-1h0m-18-2h0m34 0h0m-29-1h0m8-13h0m18-1h0m-25-3h0m-7-4h0m30 0h0m7-5h0m-6-9h0m52 0h0m-35 7h0m26 6h0m8 1h0m-18 1h0m-10 4h0m12 3h0m-15 3h0m25 3h0m-5 0h0m10 6h0m-7 4h0m-19 0h0m33 0h0m-6 6h0m-22 1h0m29 10h0m-39 3h0m14 2h0m26 2h0m-45 3h0m38 1h0m8 0h0m-36 4h0m17 4h0m7 4h0m-26 2h0m23 3h0m-6 2h0m-18 0h0m11 2h0m13 1h0m8 2h0m-24 3h0m9 1h0m-7 5h0m22 2h0m-34 4h0m16 0h0m8 3h0m16 2h0m-7 0h0m-36 4h0m9 5h0m30 1h0m-38 3h0m31 2h0m11 0h0m-34 2h0m7 1h0m-13 10h0m37 3h0m5 1h0m-26 2h0m-21 2h0m33 2h0m-19 1h0m27 2h0m-23 2h0m20 10h0m-27 1h0m6 1h0m17 1h0m-7 0h0m15 8h0m-12 7h0m-12 7h0m20 0h0m-8 1h0m5 3h0m-8 1h0m-8 1h0m20 2h0m-14 4h0m20 1h0m-41 2h0m8 3h0m17 3h0m-23 1h0m28 5h0m-31 18h0m13 9h0m12 8h0m12 4h0m-23 12h0m-9 12h0m15 0h0m11 14h0m6 2h0m-14 4h0m-12 10h0m23 8h0m5 7h0m-7 0h0m-26 3h0m16 3h0m-24 0h0m6 5h0m7 1h0m8 9h0m12 0h0m-18 3h0m-11 2h0m34 3h0m-27 11h0m16 2h0m-3 5h0m-10 2h0m-8 1h0m15 2h0m13 7h0m7 2h0m-25 0h0m18 7h0m-22 0h0m6 4h0m23 1h0m-16 3h0m-26 4h0m36 1h0m-27 1h0m35 0h0m2 9h0m-10 3h0m-37 0h0m18 1h0m15 3h0m10 1h0m-27 2h0m13 4h0m-25 4h0m33 1h0m-15 0h0m19 4h0m-19 2h0m-16 3h0m26 1h0m6 2h0m-20 2h0m15 4h0m15 2h0m-11 7h0m-15 1h0m5 0h0m-13 1h0m-6 2h0m38 1h0m-20 6h0m18 1h0m-22 3h0m4 0h0m7 2h0m8 1h0m-4 1h0m-7 3h0m9 1h0m-34 3h0m17 2h0m-11 0h0m36 1h0m-42 2h0m25 0h0m-14 1h0m-16 1h0m9 3h0m10 1h0m9 1h0m17 0h0m-21 1h0m-21 1h0m16 3h0m22 0h0m-15 0h0m14 6h0m-6 2h0m-20 0h0m16 4h0m-20 1h0m29 1h0m-34 0h0m8 2h0m13 2h0m19 2h0m-33 1h0m-12 0h0m42 1h0m-27 4h0m22 2h0m-7 2h0m-14 3h0m18 2h0m8 0h0m-40 1h0m21 3h0m-5 1h0m-7 0h0m23 3h0m-13 1h0m-21 1h0m45 0h0m-30 2h0m8 1h0m-15 3h0m37 3h0m-24 0h0m15 1h0m4 0h0m-20 4h0m-5 0h0m-10 3h0m31 1h0m-11 2h0m8 4h0m-12 1h0m8 1h0m8 2h0m-31 1h0m36 2h0m5 1h0m-31 0h0m15 1h0m-29 0h0m26 3h0m-24 3h0m6 2h0m26 2h0m7 1h0m-23 0h0m9 1h0m5 5h0m13 0h0m-5 0h0m-23 2h0m-15 0h0m24 1h0m-12 4h0m8 1h0m13 0h0m-18 2h0m-15 1h0m29 2h0m-8 2h0m-17 2h0m-7 1h0m18 0h0m16 2h0m-7 2h0m15 3h0m-22 2h0m16 1h0m-24 2h0m-8 3h0m16 2h0m26 0h0m-32 5h0m30 2h0m-19 2h0m6 1h0m11 6h0m-34 2h0m22 878h0m-18 0h0m19 4h0m-10 1h0m-15 0h0m18 2h0m-7 2h0m-7 1h0m-4 4h0m21 1h0m-13 1h0m-14 0h0m37 1h0m-34 0h0m22 1h0m-18 3h0m36 1h0m-10 0h0m-12 0h0m-20 2h0m10 0h0m18 1h0m10 2h0m-7 0h0m14 1h0m-36 1h0m14 0h0m-6 1h0m-12 3h0m11 0h0m18 1h0m-7 1h0m-13 2h0m-10 0h0m19 0h0m17 1h0m6 1h0m-15 1h0m4 1h0m7 1h0m-16 2h0m-12 0h0m24 1h0m6 0h0m-23 1h0m-17 2h0m11 0h0m-16 1h0m26 2h0m-8 1h0m21 1h0m-27 0h0m11 1h0m12 2h0m-22 1h0m24 2h0m-34 2h0m27 0h0m5 2h0m-30 1h0m41 0h0m-34 2h0m26 0h0m-31 0h0m-6 0h0m24 1h0m-8 0h0m-14 2h0m25 1h0m-9 1h0m5 0h0m-4 4h0m-15 1h0m5 1h0m34 1h0m-41 1h0m23 1h0m-6 1h0m14 0h0m4 1h0m-33 0h0m25 3h0m-8 2h0m-6 1h0m-13 1h0m37 1h0m-22 3h0m16 0h0m-25 3h0m12 2h0m-1 6h0m-5 4h0m30 9h0m-35 6h0m35 1h0m-24 0h0m-15 1h0m20 3h0m-6 2h0m-14 1h0m38 3h0m-9 2h0m-25 2h0m18 7h0m-25 1h0m18 4h0m25 5h0m-6 1h0m-31 0h0m23 1h0m-4 4h0m-26 1h0m21 1h0m11 0h0m-23 4h0m12 0h0m-4 2h0m-19 2h0m10 1h0m26 2h0m-29 1h0m5 1h0m-10 0h0m31 2h0m-31 4h0m7 1h0m30 2h0m6 1h0m-22 2h0m-23 2h0m40 4h0m-33 3h0m-8 4h0m22 1h0m14 2h0m-36 3h0m33 1h0m-13 0h0m-9 1h0m-4 0h0m30 3h0m-24 0h0m22 3h0m-18 1h0m24 5h0m-7 0h0m-23 1h0m9 2h0m-20 3h0m43 0h0m-17 0h0m-10 2h0m20 2h0m-17 0h0m-10 1h0m5 1h0m-9 3h0m26 2h0m-13 6h0m-8 1h0m16 2h0m29-23h0m13-12h0m0-2h0m-9-1h0m-8 0h0m28-3h0m1-4h0m-14-2h0m-8-4h0m11 0h0m-20-2h0m32 0h0m-4-2h0m-25-1h0m32-1h0m-14-1h0m20 0h0m-26 0h0m17-1h0m-32-5h0m32-1h0m-6-2h0m-18-1h0m35-5h0m-26-1h0m-7 0h0m-5-1h0m-2-4h0m43-2h0m-33-1h0m18-1h0m-6 0h0m-22-3h0m41-2h0m-23 0h0m15-3h0m-25-1h0m5 0h0m3-2h0m-18-4h0m43-1h0m-27-1h0m10-2h0m-14-1h0m10-1h0m-19-1h0m20-5h0m-8-1h0m4-3h0m-19-7h0m5-7h0m12-1h0m-7-2h0m4-20h0m-15-5h0m5-1h0m5-1h0m-3-5h0m8-3h0m-13-2h0m1-7h0m9-1h0m11-3h0m7-1h0m-24-1h0m36-5h0m-37 0h0m13-1h0m-18 0h0m10-2h0m-8-1h0m27-2h0m-10-1h0m3-2h0m-8 0h0m15-2h0m-20 0h0m34-3h0m-40-1h0m14 0h0m-9-3h0m-6-1h0m19-1h0m13-2h0m-22 0h0m4-2h0m15-2h0m-21-3h0m10-1h0m3-3h0m9 0h0m-18 0h0m1-7h0m-14-3h0m5-3h0m-5-3h0m35-544h0m8-2h0m-8-3h0m-10-15h0m7-14h0m-6-4h0m19 0h0m-19-4h0m6 0h0m6-1h0m4-1h0m-24-4h0m20-3h0m-5-4h0m7-4h0m-12-1h0m-12 0h0m19-6h0m4 0h0m-12-5h0m16-1h0m-3-3h0m-1-13h0m-1-7h0m5-3h0m-29-232h0m31-4h0m-27-1h0m-9-4h0m16 0h0m6-3h0m-11-2h0m-11-4h0m15-2h0m9-2h0m9-3h0m-23-1h0m21-4h0m-23-3h0m20-2h0m4-1h0m-42-2h0m21-1h0m17-1h0m-10-2h0m-12-1h0m4 0h0m-19-2h0m36-3h0m-6-1h0m-21-3h0m7 0h0m-17 0h0m36-2h0m-10-1h0m-9-1h0m29-1h0m-13-3h0m-31 0h0m17-1h0m28-3h0m-33-2h0m-6-1h0m31-1h0m-14 0h0m-9-3h0m-13-4h0m43 0h0m-32-1h0m16-1h0m-19-3h0m21 0h0m11-1h0m-28-1h0m-12-3h0m6-1h0m23-1h0m-9-6h0m9-2h0m8-1h0m-23-1h0m-12-6h0m9 0h0m29-2h0m-29-2h0m17-2h0m-23-1h0m11-1h0m-6-3h0m27-1h0m6 0h0m-47 0h0m43-5h0m-38 0h0m13-5h0m26 0h0m-19-2h0m11-1h0m-31 0h0m40-3h0m-34-1h0m25-2h0m-11-2h0m-6-2h0m-6 0h0m-5 0h0m16-2h0m19-1h0m-26-1h0m-6-3h0m29 0h0m-37-3h0m30-1h0m-28-6h0m36-1h0m-5 0h0m-26 0h0m12-3h0m22-1h0m-17 0h0m-12-1h0m-6-2h0m30-1h0m-11-3h0m-21-1h0m40-1h0m-35 0h0m28-2h0m-33-2h0m16 0h0m5-1h0m-11 0h0m15-2h0m5-1h0m-17-4h0m-18-1h0m30-2h0m-10-3h0m-5-2h0m16 0h0m-3-6h0m-13-1h0m21-1h0m-28-1h0m5-2h0m-13-1h0m38-1h0m-10-1h0m14-3h0m-32-1h0m-11 0h0m6 0h0m30-1h0m5-3h0m-39 0h0m22-2h0m-8-2h0m20-5h0m-36-1h0m45-3h0m-27 0h0m-13-6h0m9 0h0m-8-6h0m40-2h0m-25-2h0m-21-1h0m30-4h0m-29-1h0m26-4h0m18-1h0m-25 0h0m20-5h0m-9-2h0m-28-2h0m38-3h0m-31 0h0m10 0h0m4-7h0m-7 0h0m-13-1h0m30-6h0m-24-2h0m7 0h0m22-5h0m-34-2h0m26-1h0m13 0h0m-19-2h0m4-6h0m-14 0h0m22-2h0m-14-6h0m-12-11h0m2-12h0m-12-2h0m43-1h0m-37-1h0m27-1h0m3-9h0m-21-11h0m-14-8h0m2-10h0m16-5h0m21-2h0m-34 0h0m-1-8h0m22-10h0m-9-5h0m-18-1h0m37-9h0m-7 0h0m-9-12h0m21-4h0m-13-7h0m3-5h0m-16-5h0m-3-4h0m13-2h0m-7-3h0m5-5h0m-14-2h0m31-1h0m-39-1h0m31-2h0m-17-1h0m8-2h0m19-2h0m-30-4h0m22-4h0m-5-4h0m-5-1h0m-16-2h0m13-8h0m20-3h0m-20-4h0m22-3h0m-38 0h0m28-1h0m-5-1h0m-27-2h0m39-3h0m-31 0h0m10-1h0m-17-2h0m25 0h0m13-2h0m5-4h0m-48-3h0m21 0h0m-9 0h0m17-1h0m14-2h0m-33-3h0m15-1h0m-5-1h0m12-1h0m10-3h0m-34-2h0m28-1h0m10-5h0m-39 0h0m32-1h0m-13-1h0m-9-1h0m16-1h0m-32-2h0m24-4h0m-8-5h0m26 0h0m-20-3h0m-11-1h0m-5 0h0m-5-5h0m13-1h0m5-3h0m-14-5h0m-4-12h0m38 0h0m-30-3h0m9 0h0m26-1h0m-31-1h0m31-5h0m-40-1h0m24-4h0m-12-1h0m30-1h0m-39-1h0m23-2h0m-6-8h0m-22 0h0m18-4h0m9 0h0m-27-2h0m40 0h0m-21-3h0m-6 0h0m30-2h0m-46-1h0m39-1h0m-29-5h0m-8-2h0m44-2h0m-7 0h0m-18-2h0m9-1h0m-28 0h0m7-1h0m35-4h0m-3-4h0m-25-2h0m7-2h0m20-1h0m-10-1h0m-14-2h0m-17-1h0m11-3h0m-12-4h0m95-15h0m-3 4h0m-13 8h0m-6 5h0m7 1h0m-12 4h0m5 2h0m13 0h0m-32 3h0m20 6h0m19 2h0m-39 6h0m25 8h0m-15 0h0m25 1h0m-14 2h0m8 1h0m-27 0h0m-6 0h0m12 6h0m15 2h0m-9 4h0m-8 1h0m-9 1h0m5 1h0m35 1h0m-15 1h0m-5 0h0m19 11h0m-14 1h0m1 6h0m-9 4h0m19 5h0m-13 5h0m-18 3h0m32 4h0m-21 6h0m-14 1h0m24 1h0m10 3h0m-16 3h0m-20 5h0m7 4h0m25 1h0m-19 1h0m-5 3h0m22 1h0m-15 1h0m24 2h0m-23 6h0m4 1h0m-10 0h0m26 4h0m-5 0h0m-3 8h0m11 3h0m-30 0h0m11 4h0m23 2h0m-27 0h0m4 3h0m14 1h0m-18 4h0m23 3h0m-36 2h0m7 0h0m21 1h0m12 1h0m-45 4h0m10 7h0m21 1h0m5 2h0m-36 2h0m29 3h0m-27 2h0m13 3h0m19 2h0m-20 3h0m25 2h0m-6 1h0m-27 2h0m8 4h0m16 0h0m2 7h0m-26 12h0m27 15h0m10 1h0m-16 1h0m-23 3h0m29 3h0m-13 11h0m18 0h0m-7 41h0m8 8h0m-22 5h0m14 6h0m-21 3h0m10 0h0m23 5h0m-31 1h0m-6 10h0m21 3h0m12 2h0m-7 0h0m3 14h0m-7 4h0m-20 0h0m36 1h0m-12 6h0m-8 1h0m-11 3h0m-9 1h0m29 2h0m-15 3h0m-16 2h0m41 2h0m-22 3h0m-11 1h0m33 3h0m-13 2h0m-7 4h0m18 0h0m-33 1h0m27 7h0m-26 0h0m34 1h0m-28 0h0m15 9h0m-27 3h0m10 1h0m29 6h0m-10 0h0m-12 5h0m-7 0h0m-8 3h0m40 1h0m-22 3h0m-5 5h0m-16 2h0m24 1h0m18 9h0m-6 2h0m-14 0h0m-6 2h0m-6 2h0m-5 1h0m27 1h0m6 2h0m-32 1h0m17 4h0m-24 2h0m14 2h0m17 1h0m-12 0h0m-13 0h0m38 3h0m-4 3h0m4 3h0m-23 1h0m-14 1h0m16 2h0m15 2h0m-6 1h0m-28 3h0m19 0h0m-9 1h0m30 1h0m-10 0h0m-24 0h0m-7 2h0m19 3h0m22 2h0m-10 1h0m-12 1h0m-19 1h0m21 4h0m-23 2h0m33 1h0m7 0h0m-34 1h0m24 1h0m4 2h0m-16 1h0m5 3h0m-21 0h0m15 2h0m-20 2h0m23 1h0m21 2h0m-13 1h0m-20 0h0m12 3h0m-7 2h0m30 0h0m-9 1h0m-29 0h0m18 0h0m-25 0h0m3 4h0m24 0h0m-28 3h0m16 1h0m4 0h0m14 4h0m-21 3h0m9 2h0m5 1h0m-9 1h0m-9 0h0m35 1h0m-17 2h0m19 1h0m-23 2h0m-18 2h0m7 0h0m-11 1h0m46 1h0m-6 0h0m-30 6h0m21 1h0m8 1h0m-12 3h0m-23 1h0m7 0h0m-13 2h0m35 1h0m-32 3h0m27 0h0m-10 2h0m18 1h0m-31 2h0m28 1h0m7 1h0m-30 2h0m26 0h0m-14 4h0m24 1h0m-16 3h0m-5 2h0m-4 1h0m16 1h0m-28 0h0m-7 1h0m39 1h0m-12 0h0m-19 5h0m-7 0h0m14 1h0m19 1h0m5 3h0m-38 1h0m31 0h0m-16 4h0m20 0h0m-6 4h0m-10 1h0m-17 0h0m12 3h0m-17 0h0m8 1h0m28 3h0m-33 0h0m7 3h0m24 2h0m-18 2h0m11 3h0m4 4h0m-11 6h0m-9 0h0m26 2h0m-37 0h0m17 3h0m-5 3h0m22 0h0m-15 5h0m19 3h0m-18 4h0m23 4h0m-21 1h0m16 1h0m-20 0h0m6 6h0m8 2h0m3 7h0m6 2h0m-17 1h0m-2 24h0m0 0h0m0 40h0m0 1h0m-12 8h0m0 1h0m7 21h0m0 3h0m18 15h0m-18 3h0m20 17h0m3 3h0m-23 2h0m5 3h0m-9 2h0m27 0h0m-20 5h0m14 1h0m-9 2h0m-4 0h0m9 2h0m8 1h0m6 0h0m-11 4h0m-20 3h0m18 2h0m5 2h0m-16 1h0m-8 0h0m12 1h0m22 3h0m-25 2h0m23 1h0m-39 3h0m7 0h0m34 1h0m-27 1h0m18 1h0m-22 0h0m8 5h0m16 2h0m-37 0h0m43 1h0m-32 2h0m17 1h0m-11 0h0m-11 2h0m29 1h0m-35 0h0m18 3h0m25 0h0m-6 2h0m-31 1h0m15 1h0m16 2h0m-24 1h0m17 1h0m-24 0h0m35 3h0m-17 1h0m-14 1h0m-11 1h0m31 3h0m14 0h0m-21 0h0m-23 0h0m34 3h0m-4 2h0m-19 1h0m33 0h0m-45 1h0m22 2h0m19 1h0m-33 2h0m28 0h0m7 2h0m-35 2h0m27 0h0m3 2h0m-29 2h0m-4 0h0m37 1h0m-43 1h0m32 0h0m-13 3h0m-13 0h0m23 2h0m-8 2h0m25 1h0m-14 1h0m-32 1h0m40 0h0m-5 2h0m-16 0h0m7 0h0m-16 2h0m4 1h0m6 2h0m3 2h0m-11 0h0m19 4h0m10 4h0m-8 0h0m-16 5h0m-15 2h0m17 1h0m19 1h0m-38 1h0m31 4h0m-14 3h0m29 0h0m-6 0h0m-9 6h0m-33 2h0m35 1h0m-28 1h0m32 1h0m-29 2h0m11 1h0m-6 0h0m11 0h0m5 2h0m-20 1h0m-10 1h0m27 3h0m-7 2h0m-7 1h0m21 2h0m-10 2h0m-4 0h0m1 7h0m5 518h0m-3 6h0m3 4h0m-3 7h0m-17 13h0m-6 2h0m-1 8h0m0 10h0m4 122h0m85-671h0m7-15h0m-9 0h0m-4 0h0m8-2h0m-25-3h0m9-1h0m15-3h0m-28-1h0m16 0h0m6-1h0m-5-3h0m-25-1h0m19-3h0m21-2h0m-12 0h0m-14-1h0m-18 0h0m28-2h0m-21-2h0m29-3h0m8-1h0m-23-1h0m-15-3h0m15-2h0m-6 0h0m-12-4h0m29-3h0m5 0h0m-24-3h0m-4-1h0m16 0h0m16-6h0m3-2h0m-37-1h0m-6 0h0m26 0h0m-11-2h0m15-1h0m7-3h0m-6-1h0m-25-4h0m22-2h0m-30-2h0m23 0h0m13 0h0m-26-2h0m31-3h0m-23-1h0m27-2h0m-22-1h0m7-2h0m-19-5h0m32 0h0m-16-1h0m-7 0h0m17-4h0m-16-1h0m5-1h0m-20-1h0m8-1h0m7-1h0m6-3h0m7-2h0m6-2h0m-12-2h0m-13-2h0m-10 0h0m-4-1h0m29-1h0m-17-1h0m-4-1h0m33-4h0m-16 0h0m-3-4h0m9-2h0m-23 0h0m31-2h0m-33-3h0m33-3h0m-13-1h0m-8-2h0m-14 0h0m11-1h0m26-2h0m-31-3h0m22 0h0m4-1h0m-13 0h0m-20-3h0m22-2h0m-27-9h0m12-2h0m-11-65h0m0-1h0m32-72h0m-15-3h0m24-1h0m-35 0h0m-4-16h0m19-2h0m24-1h0m-9 0h0m-24-1h0m19-3h0m-24-2h0m16-3h0m5-5h0m14-4h0m-11-1h0m-24-5h0m19-1h0m18 0h0m-10-3h0m-16 0h0m26-2h0m-38-5h0m15 0h0m22-1h0m-34-5h0m28-1h0m-36 0h0m16-2h0m12-2h0m7-1h0m-14-1h0m-17-1h0m22 0h0m5-2h0m-12-3h0m-16-1h0m8 0h0m-4-2h0m26-1h0m-17 0h0m-6-3h0m31-5h0m-37 0h0m15 0h0m-10-2h0m28-1h0m-12-1h0m-3-5h0m-20 0h0m28 0h0m-10-2h0m-17-2h0m12-2h0m16-1h0m-29-1h0m34-1h0m-27-1h0m33-5h0m-21 0h0m-9-1h0m12 0h0m13-2h0m-33-3h0m29 0h0m-11-2h0m-5-1h0m-11-4h0m4-2h0m10-1h0m8-1h0m-15 0h0m-14 0h0m45-5h0m-29 0h0m11-1h0m-7 0h0m-18-3h0m44-3h0m-24 0h0m7-1h0m6 0h0m4-2h0m-34-3h0m9 0h0m31-1h0m-45 0h0m11-2h0m26 0h0m-31 0h0m26-3h0m-14-2h0m3-2h0m9-1h0m-26 0h0m41-3h0m-19-1h0m-8-3h0m21-1h0m5 0h0m-37 0h0m26-1h0m-18 0h0m-15-1h0m28-3h0m9-1h0m-21-3h0m-10 0h0m34-1h0m6-1h0m-34 0h0m-9-3h0m17 0h0m19-1h0m-30 0h0m18-2h0m4-6h0m-30-1h0m8-3h0m27-1h0m4 0h0m-23-4h0m10 0h0m19-1h0m-46-4h0m39 0h0m-31 0h0m8 0h0m8-4h0m-12 0h0m25-1h0m-6-2h0m-4-1h0m14-1h0m-37-1h0m32-3h0m-16 0h0m24-2h0m-41-2h0m10-1h0m-8-4h0m21 0h0m19-1h0m-13-1h0m-25-1h0m34-1h0m-18-2h0m22-1h0m-11-1h0m-33 0h0m40-2h0m-25-4h0m4 0h0m15 0h0m-11-3h0m7 0h0m-24-1h0m-5-1h0m23-2h0m-19-1h0m37-1h0m-26-4h0m13-1h0m10-6h0m-9 0h0m-17-2h0m-9-2h0m24-5h0m-9-1h0m25-1h0m-42-3h0m25-3h0m15-10h0m-7-4h0m-7-3h0m9-2h0m-37-1h0m20-2h0m-21-4h0m43-4h0m1-8h0m-9-1h0m-20 0h0m17-6h0m-23-5h0m7-2h0m16-5h0m14-6h0m-20 0h0m13-1h0m-28-1h0m14-5h0m14-1h0m-39-2h0m13-6h0m31-2h0m-39-1h0m17-2h0m24-2h0m0-11h0m-42-4h0m1-6h0m13 0h0m27-2h0m-20 0h0m-18-5h0m37-2h0m-4-6h0m-17-12h0m14-2h0m-14-4h0m20-4h0m-29-3h0m8-1h0m-10-6h0m10-3h0m-13-6h0m26-2h0m-27-9h0m2-5h0m35 0h0m-5-1h0m-35-2h0m9-4h0m-15-1h0m46 0h0m-31-4h0m20-2h0m-14-2h0m20-2h0m-14 0h0m5-3h0m-7-2h0m-7-2h0m-7 0h0m18-3h0m17-3h0m2-6h0m-10-1h0m-31-1h0m12-2h0m-16 0h0m6-4h0m27 0h0m-21-3h0m11-3h0m6 0h0m7-1h0m-29 0h0m-4-3h0m23-3h0m13-1h0m-34 0h0m4-4h0m25-4h0m-11-1h0m-5-2h0m-14-1h0m29-2h0m-6 0h0m-11-2h0m-13-2h0m6-2h0m-10-3h0m21-2h0m24-3h0m-7-3h0m-21-1h0m-16-1h0m42-2h0m-14-2h0m8-6h0m-37-2h0m13-2h0m8-5h0m-13-3h0m8 0h0m-13-1h0m22-5h0m-18-5h0m26 0h0m-12 0h0m13-9h0m8-2h0m-6-10h0m-6 0h0m-9-2h0m-21-5h0m30 0h0m-21-2h0m8 0h0m7-1h0m12 0h0m-16-4h0m-5-4h0m-13 0h0m43 0h0m-6-1h0m-38-3h0m25-2h0m-6 0h0m-14-2h0m8-3h0m26 0h0m-39-1h0m23-3h0m11-1h0m11-1h0m-28-1h0m-13-5h0m39-2h0m-16-1h0m-28-7h0m41-1h0m-14-4h0m-7-4h0m-21-5h0m38-1h0m-33-2h0m21-4h0m-23-6h0m21-2h0m-12 0h0m27-2h0m-7-2h0m-16-6h0m-9-2h0m-5 0h0m13-6h0m28-1h0m-14-1h0m-19-6h0m30-2h0m-16 0h0m8-1h0m-26-1h0m-3-5h0m9 0h0m11 0h0m16-2h0m-22-3h0m-16 0h0m36-3h0m-31-4h0m72 8h0m-2 9h0m-23 6h0m12 0h0m29 2h0m-24 2h0m-4 4h0m29 2h0m-13 1h0m-10 1h0m-13 0h0m7 1h0m25 2h0m-39 2h0m43 1h0m-11 5h0m-10 0h0m-25 2h0m43 3h0m-29 5h0m23 0h0m-18 2h0m23 0h0m-42 2h0m14 1h0m13 2h0m5 1h0m-24 1h0m27 6h0m-26 0h0m19 0h0m-5 1h0m14 5h0m-27 1h0m6 2h0m18 4h0m-28 1h0m11 2h0m20 4h0m-14 3h0m13 2h0m5 0h0m-36 4h0m-6 3h0m42 2h0m-5 2h0m-19 5h0m17 2h0m-21 2h0m16 3h0m-11 2h0m-5 6h0m-5 1h0m-6 1h0m18 1h0m9 2h0m-24 4h0m19 2h0m18 1h0m-22 6h0m-8 4h0m12 0h0m8 1h0m5 0h0m-25 10h0m7 1h0m-12 6h0m-5 1h0m41 4h0m-25 0h0m19 1h0m-29 2h0m24 7h0m-8 1h0m-7 4h0m12 1h0m-25 4h0m15 0h0m6 2h0m-24 4h0m6 1h0m-6 5h0m18 0h0m19 5h0m-18 2h0m-17 1h0m11 0h0m29 2h0m-13 0h0m-32 4h0m9 1h0m39 3h0m-8 1h0m-11 0h0m-9 2h0m24 2h0m-24 4h0m-7 3h0m12 2h0m-7 1h0m-15 3h0m15 2h0m14 1h0m14 2h0m-21 1h0m-15 1h0m21 3h0m10 1h0m5 0h0m-38 2h0m8 4h0m24 3h0m6 1h0m-27 0h0m9 2h0m9 1h0m-32 5h0m4 3h0m28 1h0m5 1h0m-10 0h0m-2 11h0m-26 9h0m28 2h0m7 6h0m-34 3h0m35 5h0m-4 4h0m-24 6h0m35 6h0m-33 0h0m2 8h0m26 2h0m-35 1h0m34 10h0m-23 5h0m7 3h0m-16 1h0m33 2h0m-8 0h0m-4 15h0m-7 6h0m23 2h0m-13 1h0m6 2h0m-22 5h0m28 9h0m-14 5h0m8 1h0m-35 0h0m15 3h0m-9 5h0m15 0h0m13 0h0m-37 7h0m35 2h0m-11 5h0m-10 4h0m-10 1h0m26 4h0m-11 10h0m22 4h0m-38 0h0m9 1h0m12 0h0m-20 13h0m27 3h0m-18 2h0m16 3h0m-15 6h0m27 0h0m-20 2h0m25 1h0m-45 2h0m7 3h0m-8 1h0m36 0h0m-12 2h0m23 3h0m-32 0h0m14 0h0m-20 1h0m11 1h0m9 6h0m-21 3h0m4 2h0m-10 1h0m17 1h0m15 2h0m-7 1h0m16 1h0m-31 2h0m5 0h0m13 3h0m-5 1h0m-15 3h0m16 2h0m21 2h0m-5 0h0m-6 1h0m-34 0h0m28 0h0m-21 1h0m29 4h0m-31 1h0m18 3h0m13 1h0m6 1h0m-14 4h0m-28 3h0m34 2h0m-14 4h0m-6 1h0m16 0h0m-27 1h0m19 2h0m-16 4h0m26 2h0m-11 1h0m-12 1h0m-8 1h0m5 2h0m19 0h0m18 3h0m-31 3h0m20 2h0m4 0h0m-14 1h0m-15 2h0m21 0h0m-12 1h0m-14 1h0m20 0h0m-9 4h0m16 2h0m-28 5h0m35 2h0m7 0h0m-28 5h0m-7 1h0m26 2h0m-34 2h0m15 1h0m-8 1h0m33 0h0m-15 4h0m-16 2h0m-4 0h0m32 1h0m-21 1h0m-16 2h0m38 3h0m7 0h0m-24 2h0m9 3h0m-29 0h0m17 1h0m22 0h0m-33 0h0m14 4h0m-17 1h0m0 4h0m36 1h0m-31 1h0m-11 3h0m17 0h0m21 1h0m-15 0h0m-7 5h0m22 1h0m-39 0h0m47 5h0m-36 0h0m-6 1h0m26 1h0m-29 2h0m21 2h0m10 2h0m-26 4h0m15 3h0m18 2h0m-31 5h0m31 1h0m-8 0h0m-10 1h0m-10 4h0m-5 1h0m21 3h0m4 4h0m-4 3h0m-9 4h0m11 6h0m-18 3h0m-7 2h0m32 2h0m-12 1h0m19 3h0m-31 1h0m23 1h0m-8 3h0m-21 2h0m34 3h0m-17 0h0m16 6h0m-38 0h0m17 1h0m-7 1h0m23 1h0m-9 2h0m8 4h0m6 0h0m-25 2h0m-8 6h0m13 1h0m4 3h0m9 5h0m-11 2h0m14 5h0m5 1h0m5 15h0m-24 88h0m18 2h0m6 9h0m-28 1h0m-11 2h0m15 2h0m13 2h0m5 1h0m-35 0h0m17 2h0m15 3h0m-33 2h0m23 1h0m-12 0h0m18 4h0m7 4h0m-35 2h0m12 10h0m25 0h0m-21 0h0m9 4h0m-12 5h0m1 13h0m-16 0h0m40 2h0m-6 2h0m10 3h0m-42 2h0m17 3h0m-19 1h0m-2 14h0m16 4h0m12 1h0m18 1h0m-15 2h0m-18 0h0m4 0h0m21 3h0m-30 1h0m25 2h0m-29 1h0m-4 1h0m37 2h0m-8 0h0m-16 0h0m9 3h0m-12 2h0m36 1h0m-10 0h0m-15 5h0m-14 1h0m-8 1h0m10 3h0m17 0h0m13 1h0m-36 2h0m30 1h0m-4 0h0m16 2h0m-26 1h0m10 1h0m-28 3h0m5 0h0m18 1h0m4 1h0m4 2h0m-29 1h0m-4 3h0m43 1h0m-31 1h0m21 0h0m-4 1h0m-4 1h0m22 3h0m-42 2h0m17 0h0m-3 1h0m-4 1h0m-4 3h0m-3 2h0m9 0h0m-14 3h0m2 6h0m3 7h0m13 1h0m-8 5h0m4 3h0m-8 2h0m44-31h0m16-3h0m13-3h0m-32-1h0m38-1h0m-12-2h0m15-3h0m-21-2h0m-9-2h0m32-4h0m-32-2h0m21 0h0m-12-1h0m-19-2h0m26-1h0m-13 0h0m30 0h0m-4-2h0m-35 0h0m39-2h0m-35-3h0m24-1h0m-10-1h0m-11 0h0m31-1h0m-42-2h0m27-1h0m14-1h0m-35-2h0m26-2h0m-6 0h0m11-1h0m-14-1h0m-7 0h0m-10-1h0m4-1h0m10-1h0m-6-2h0m-12-1h0m42 0h0m-18-2h0m-8 0h0m12 0h0m5-3h0m-31 0h0m38-6h0m-18 0h0m6-3h0m5-2h0m5-2h0m-20-2h0m-13-2h0m16-4h0m16-1h0m-31-3h0m20 0h0m-7-2h0m-6 0h0m14-3h0m9 0h0m-12-4h0m-15-3h0m28-1h0m-30-3h0m20-4h0m-3-4h0m9-1h0m5 0h0m-29-1h0m34-1h0m-48 0h0m17-3h0m-5-1h0m-11-4h0m13-3h0m-7-3h0m12-11h0m17-70h0m-29 0h0m7-5h0m6-4h0m-11-14h0m-5-8h0m35-1h0m-30-1h0m29-12h0m-17-2h0m24-2h0m-45-1h0m36-2h0m-20-3h0m16-2h0m-24-3h0m35-3h0m-24 0h0m-19-2h0m42-3h0m-6-1h0m-9-2h0m-27-1h0m8-5h0m6-3h0m-14 0h0m36-7h0m-6-5h0m-5-1h0m-3-4h0m-9-2h0m31-1h0m-39-3h0m32-2h0m8-2h0m-8-4h0m-25-1h0m7 0h0m8 0h0m0-7h0m-10 0h0m-8-1h0m-7-2h0m31-2h0m-21-1h0m9-8h0m-13-5h0m13-4h0m14-1h0m-8-3h0m-23-1h0m18-3h0m8-9h0m-6-1h0m-17-5h0m13-9h0m-11-13h0m24-10h0m-6-15h0m-20 0h0m5-4h0m6-3h0m-6-12h0m20-1h0m-32-4h0m37-1h0m-10-3h0m19 0h0m-31-3h0m-6-2h0m8-8h0m16-4h0m9-1h0m-22-9h0m-13-3h0m12-4h0m-14-4h0m10-2h0m9-2h0m22-1h0m-34-1h0m-8-4h0m30-1h0m-20-9h0m20-1h0m8-1h0m-41-2h0m15-3h0m-16-3h0m46 0h0m-5-2h0m-18-4h0m8 0h0m-29-1h0m44-1h0m-32-4h0m17 0h0m6-9h0m-21 0h0m30-1h0m-16-5h0m16-3h0m-4-6h0m-21-3h0m22-3h0m-31-1h0m-11-3h0m31-2h0m-15-8h0m16-1h0m-16-4h0m-9-1h0m13-3h0m17-1h0m-33-11h0m27 0h0m-19-1h0m7-5h0m11-1h0m3-5h0m-24-2h0m28-2h0m-37-2h0m21-5h0m-13 0h0m32-1h0m-9-1h0m-5-6h0m-23 0h0m35 0h0m-19-2h0m-11-5h0m21 0h0m10-4h0m-28-1h0m32-2h0m-6-1h0m-23-3h0m-7 0h0m32-3h0m-19-8h0m11-1h0m12-1h0m-21-4h0m17 0h0m-29-2h0m18-2h0m8-2h0m-24-2h0m-8-2h0m27-1h0m12 0h0m-3-3h0m-8-1h0m-7 0h0m-17-2h0m34-7h0m-32-2h0m19-2h0m9-1h0m-34-2h0m17 0h0m-7-1h0m14-3h0m-18-4h0m17-3h0m6-2h0m7 0h0m7-1h0m-45-1h0m33-1h0m7-4h0m-5-1h0m-17 0h0m8-4h0m-22-2h0m24-4h0m4-2h0m-4-2h0m-6-2h0m10 0h0m-6-4h0m19-2h0m-24-3h0m-21-4h0m25-1h0m18-8h0m-27 0h0m21 0h0m-16-2h0m-14-2h0m36 0h0m-10-1h0m-10 0h0m15-2h0m-8-3h0m5 0h0m4-2h0m-22-1h0m7-3h0m18-1h0m-36-1h0m14-6h0m6-1h0m12-4h0m-15-1h0m-7 0h0m-8-3h0m17-1h0m-9-1h0m26-1h0m-17-3h0m-20-1h0m29-2h0m-13 0h0m-5 0h0m22 0h0m-8-2h0m-16-4h0m-13-2h0m35 0h0m8-1h0m-15-2h0m-16-3h0m6-1h0m-12-1h0m34 0h0m-8-1h0m-31-3h0m38 0h0m-18-1h0m14-2h0m-26-1h0m4 0h0m4-1h0m-18 0h0m39-3h0m-22-1h0m-4-2h0m8 0h0m-24-1h0m31-3h0m17-2h0m-30-2h0m-17-3h0m34-1h0m-20-3h0m7 0h0m24-2h0m-13 0h0m-30-1h0m18-5h0m21-1h0m-12 0h0m-27 0h0m8-1h0m10-3h0m-12-2h0m28-2h0m-15-2h0m-4 0h0m16 0h0m13-1h0m-2-4h0m-6 0h0m-26-1h0m4-1h0m10-1h0m-1-4h0m20-2h0m-26 0h0m20 0h0m-16-1h0m-16-2h0m5-1h0m24-2h0m9 0h0m-4-1h0m-37-1h0m18-3h0m10-2h0m-25-1h0m19-1h0m-14 0h0m5-3h0m19-1h0m-34-2h0m27-1h0m14-1h0m-34-1h0m5 0h0m4-2h0m19-1h0m6-1h0m-19-1h0m-10-1h0m28-2h0m-41-1h0m31-1h0m-21-1h0m12-2h0m-16-1h0m11-6h0m-7 0h0m14 0h0m22-2h0m-42 0h0m34-1h0m-30-4h0m10-1h0m8-2h0m13-4h0m-19 0h0m14-1h0m-27-1h0m-7-4h0m36 0h0m-14-1h0m-15-1h0m38 0h0m-28-4h0m26-2h0m-31-3h0m5-1h0m12-2h0m-8-2h0m17-2h0m-37 0h0m32-1h0m-24-1h0m35-1h0m-32-2h0m16-1h0m-25-3h0m22-2h0m-20-5h0m5 0h0m25-1h0m6-1h0m-26-1h0m8 0h0m-24-3h0m47-1h0m-41-1h0m20-2h0m17-4h0m-22 0h0m-15-4h0m10 0h0m21 0h0m-9-1h0m-5 0h0m-14-4h0m15-1h0m12-3h0m9-3h0m-40-1h0m20 0h0m-9 0h0m15-1h0m-10-2h0m24-2h0m-45-2h0m56 0h0m28 3h0m-28 2h0m16 1h0m-17 4h0m8 1h0m20 4h0m-18 2h0m12 1h0m16 3h0m-8 1h0m-23 1h0m13 0h0m7 2h0m-33 1h0m46 1h0m-34 1h0m32 4h0m-20 1h0m-6 3h0m26 0h0m-42 1h0m7 0h0m16 2h0m-4 1h0m-5 0h0m26 1h0m-5 4h0m-29 2h0m26 2h0m-13 3h0m13 2h0m-28 1h0m19 0h0m13 2h0m-18 1h0m-19 1h0m20 4h0m10 1h0m-15 0h0m7 4h0m-13 0h0m19 2h0m-26 1h0m41 2h0m-32 3h0m21 2h0m-32 0h0m18 2h0m25 3h0m-16 1h0m12 0h0m-27 0h0m19 2h0m5 1h0m-22 1h0m-5 1h0m33 2h0m-20 0h0m13 5h0m-20 2h0m-11 0h0m-4 3h0m29 1h0m-22 0h0m-6 2h0m33 3h0m-10 1h0m-24 0h0m13 2h0m19 3h0m12 0h0m-35 2h0m12 0h0m-21 0h0m14 1h0m16 1h0m6 0h0m-35 3h0m10 1h0m8 1h0m25 1h0m-44 3h0m22 0h0m9 2h0m7 1h0m-29 1h0m20 2h0m-20 3h0m-8 2h0m23 0h0m15 2h0m-5 2h0m-10 1h0m5 0h0m-19 4h0m14 1h0m15 1h0m5 0h0m-42 0h0m27 4h0m-6 1h0m-6 1h0m20 2h0m-9 2h0m15 1h0m-28 0h0m-11 0h0m-5 1h0m9 2h0m31 1h0m-17 0h0m23 3h0m-43 0h0m7 2h0m22 1h0m-14 0h0m6 3h0m-15 1h0m11 1h0m-16 1h0m36 1h0m-4 0h0m-4 3h0m-20 0h0m24 3h0m-2 3h0m4 4h0m-39 0h0m25 1h0m-11 1h0m7 1h0m10 1h0m12 2h0m-36 0h0m9 1h0m19 2h0m-32 0h0m20 2h0m-13 0h0m31 2h0m-40 1h0m7 1h0m3 3h0m20 0h0m-15 5h0m26 0h0m-9 1h0m-8 3h0m-15 1h0m27 1h0m-19 3h0m-6 0h0m17 2h0m-24 1h0m36 0h0m-30 2h0m35 2h0m-13 1h0m-15 0h0m6 5h0m21 0h0m-46 1h0m14 1h0m24 2h0m-13 1h0m-14 1h0m27 3h0m-14 1h0m2 3h0m12 1h0m9 0h0m-42 0h0m16 1h0m21 2h0m-14 1h0m6 1h0m12 2h0m-7 1h0m-21 2h0m-12 1h0m16 0h0m8 4h0m-4 2h0m-7 4h0m10 3h0m11 2h0m6 1h0m-31 2h0m-13 2h0m42 1h0m-28 1h0m16 1h0m7 1h0m-17 3h0m-19 0h0m10 1h0m18 0h0m-6 3h0m15 0h0m8 2h0m-39 2h0m21 2h0m-10 1h0m21 0h0m-26 2h0m20 2h0m-16 1h0m-16 2h0m27 1h0m15 0h0m-34 1h0m22 2h0m7 1h0m-28 2h0m25 2h0m-34 0h0m15 0h0m-10 1h0m27 4h0m-26 2h0m33 4h0m-33 1h0m21 0h0m6 4h0m-33 1h0m37 1h0m4 0h0m-41 5h0m31 0h0m2 4h0m8 0h0m-39 1h0m10 1h0m17 3h0m9 2h0m-41 0h0m11 2h0m11 1h0m7 4h0m-24 1h0m-4 1h0m11 1h0m34 0h0m-10 0h0m-5 1h0m12 0h0m-41 3h0m18 1h0m5 0h0m-17 1h0m36 1h0m-26 3h0m-8 0h0m12 0h0m11 0h0m9 2h0m-36 3h0m29 1h0m-25 1h0m37 0h0m-34 2h0m16 2h0m-25 0h0m5 1h0m10 3h0m21 1h0m-24 2h0m30 2h0m-11 0h0m5 2h0m-22 2h0m16 0h0m-26 1h0m5 2h0m16 2h0m-11 0h0m28 0h0m-42 4h0m39 0h0m-28 0h0m19 1h0m-6 0h0m-5 1h0m-4 4h0m-15 2h0m24 1h0m6 2h0m12 1h0m-6 2h0m-37 4h0m27 0h0m-17 1h0m27 1h0m-29 3h0m16 2h0m-18 1h0m33 1h0m-22 0h0m0 6h0m-6 0h0m29 1h0m-16 0h0m10 3h0m8 1h0m-33 2h0m7 3h0m-4 1h0m19 3h0m-5 1h0m12 1h0m-4 3h0m-10 1h0m14 1h0m-34 2h0m38 5h0m-5 1h0m-4 1h0m-13 1h0m-12 2h0m-7 4h0m34 4h0m-30 0h0m38 2h0m-7 8h0m-7 1h0m-19 4h0m14 4h0m19 2h0m-34 2h0m-7 4h0m35 4h0m3 6h0m-15 0h0m-8 7h0m10 0h0m12 3h0m-27 3h0m15 2h0m-7 1h0m-21 5h0m8 4h0m30 1h0m-39 4h0m23 2h0m5 0h0m6 3h0m-34 1h0m41 8h0m-13 1h0m-6 3h0m-17 2h0m5 1h0m31 10h0m-42 39h0m30 3h0m14 44h0m-16 16h0m-7 3h0m-18 24h0m18 3h0m15 1h0m-27 1h0m35 2h0m-42 3h0m8 2h0m19 2h0m-5 4h0m7 1h0m-29 2h0m16 6h0m5 1h0m18 1h0m-36 2h0m42 1h0m-14 0h0m-6 1h0m-13 0h0m-8 6h0m12 4h0m-16 5h0m18 4h0m-5 2h0m22 4h0m-23 7h0m31 4h0m-10 3h0m-30 0h0m40 13h0m-15 4h0m17 1h0m-4 1h0m-18 0h0m4 7h0m10 1h0m6 1h0m-20 1h0m-4 3h0m25 3h0m-14 2h0m-20 0h0m-6 1h0m14 1h0m-12 6h0m33 0h0m-8 4h0m1 3h0m8 2h0m5 2h0m-47 0h0m9 1h0m15 3h0m-8 2h0m20 2h0m4 3h0m-37 0h0m17 1h0m15 3h0m-28 0h0m10 0h0m23 2h0m-14 0h0m-23 1h0m15 5h0m13 0h0m-21 0h0m34 1h0m-28 4h0m7 1h0m17 3h0m-11 3h0m13 2h0m-7 5h0m-12 1h0m21 1h0m-27 3h0m23 1h0m-10 2h0m13 1h0m-18 0h0m-20 4h0m22 1h0m7 1h0m-16 1h0m-8 1h0m10 4h0m28 3h0m-33 0h0m7 3h0m11 0h0m5 0h0m-29 0h0m5 2h0m-12 2h0m34 1h0m-27 0h0m13 3h0m13 1h0m-29 1h0m41 0h0m-47 1h0m14 1h0m19 3h0m-9 2h0m8 3h0m-21 0h0m25 0h0m10 1h0m-23 3h0m-15 1h0m5 1h0m31 2h0m-10 2h0m-10 0h0m-4 1h0m-20 2h0m27 1h0m-23 1h0m34 0h0m-29 1h0m25 0h0m-18 3h0m-8 2h0m38 1h0m-26 1h0m-6 1h0m-6 3h0m15 1h0m21 0h0m-41 2h0m6 3h0m25 0h0m8 2h0m-13 0h0m-11 0h0m4 2h0m25 2h0m-46 0h0m27 1h0m-18 1h0m6 1h0m-11 2h0m22 4h0m3 1h0m15 2h0m-3 3h0m-18 0h0m-7 2h0m-13 0h0m34 1h0m5 2h0m-36 0h0m13 4h0m15 0h0m-35 4h0m10 4h0m22 2h0m-16 1h0m-8 1h0m14 0h0m24 2h0m-31 3h0m28 1h0m-18 1h0m6 1h0m-20 1h0m5 0h0m26 5h0m-9 1h0m-10 0h0m21 5h0m-6 0h0m-21 2h0m-1 5h0m7 0h0m33 7h0m6-2h0m31-4h0m-4-1h0m-16 0h0m-21-9h0m2-9h0m8-4h0m-6-2h0m-3-5h0m5-1h0m-6-9h0m17-4h0m-7-4h0m-9-1h0m16 0h0m8-2h0m-29 0h0m5-4h0m4-1h0m27-5h0m-4 0h0m-10-1h0m-4 0h0m11-4h0m-4 0h0m18-1h0m-4-1h0m-5-2h0m-28-1h0m12 0h0m8-3h0m7-1h0m-28 0h0m10-2h0m7-3h0m20-2h0m-39-1h0m14-4h0m-1-5h0m23-1h0m-28 0h0m-5-1h0m11-2h0m-15-6h0m12-4h0m-13-3h0m16-2h0m-8-1h0m-3-2h0m41-4h0m-39 0h0m-4-3h0m31-3h0m-6 0h0m-9-5h0m24-1h0m-43-1h0m24 0h0m14-1h0m-33-7h0m13-4h0m-6-2h0m34-2h0m-20-4h0m-19-4h0m34 0h0m-10 0h0m-12 0h0m-7-2h0m32-1h0m-44-1h0m44-2h0m-30-5h0m-13-5h0m30-1h0m-27-1h0m23 0h0m-20-4h0m14-1h0m-9-1h0m14 0h0m19-1h0m-37-2h0m32-1h0m-27-1h0m21-3h0m-17-1h0m5-2h0m-6-3h0m17-2h0m10-1h0m-21 0h0m-9-4h0m10 0h0m22-5h0m-26 0h0m5-1h0m-14-1h0m-5-2h0m1-5h0m22 0h0m-16 0h0m12-3h0m-9-2h0m16-2h0m-6-2h0m-25-1h0m6-2h0m6 0h0m27-2h0m-16-1h0m-16-4h0m22-1h0m-8-5h0m22-4h0m0-10h0m-38-13h0m17-1h0m-22-1h0m41-3h0m-26-2h0m24-7h0m-19 0h0m11 0h0m-7-5h0m-11-3h0m29-1h0m-33-3h0m8-3h0m29-5h0m-28-8h0m-18 0h0m3-6h0m11-2h0m25 0h0m-14-4h0m-20-6h0m7-82h0m23-54h0m-8-1h0m-13-2h0m24-2h0m-39-5h0m12 0h0m14 0h0m-19-6h0m19-4h0m8-2h0m-30-1h0m6-2h0m28-3h0m-36-3h0m14-2h0m31-2h0m-32-4h0m14-2h0m-20-4h0m35-2h0m-29-1h0m-13-1h0m44-2h0m-42-4h0m36 0h0m-9-1h0m-21-3h0m36-4h0m-20-2h0m15-1h0m-10 0h0m-24-2h0m20-2h0m14-1h0m-6-1h0m4-2h0m-20-1h0m5 0h0m-13-2h0m-7-1h0m23-2h0m-5-1h0m-10 0h0m21-5h0m-9 0h0m-20-2h0m26-2h0m-14-4h0m20 0h0m-15-1h0m21 0h0m-27-3h0m15-1h0m-21-1h0m-4-2h0m13-1h0m28 0h0m-33-1h0m13 0h0m-17-3h0m25-1h0m-33-5h0m28 0h0m-17-1h0m21-2h0m-27 0h0m31-2h0m-26 0h0m7 0h0m6 0h0m-23-2h0m10-3h0m23-4h0m13-2h0m-18-1h0m-14 0h0m-7-1h0m38-3h0m-45-1h0m9 0h0m8-1h0m18-1h0m-23-1h0m17-1h0m-7-1h0m24-1h0m-11-3h0m-30-1h0m13-1h0m14-1h0m-21-1h0m-6-1h0m-5-1h0m26 0h0m-5 0h0m17-1h0m-7-2h0m-14-2h0m-9-1h0m27-2h0m-16-3h0m-8-1h0m-4-1h0m16-1h0m5-3h0m-16 0h0m8 0h0m20 0h0m-17-2h0m5-2h0m-27 0h0m34 0h0m-9-3h0m-27-3h0m37-1h0m-6-1h0m-21-1h0m5 0h0m-9 0h0m13-1h0m8 0h0m11-2h0m6-1h0m-34 0h0m21-3h0m-5 0h0m-11-2h0m-13-2h0m28-2h0m-13-3h0m16-3h0m-21 0h0m5-1h0m24-1h0m-16-2h0m8 0h0m-29-1h0m4-2h0m21 0h0m14-1h0m-36-2h0m15-1h0m5 0h0m-24-1h0m21-3h0m6-4h0m17 0h0m-9 0h0m-32-1h0m11-2h0m16 0h0m-20-1h0m23-1h0m-30 0h0m15 0h0m21-2h0m-26 0h0m9-2h0m9-2h0m-25-3h0m-8-2h0m23 0h0m7-2h0m-29-4h0m36-1h0m4 0h0m-29-1h0m33-4h0m-17 0h0m-10-2h0m-14-1h0m40-3h0m-44 0h0m38-2h0m-18-1h0m-4-2h0m18-2h0m-9 0h0m1-4h0m-14-1h0m33 0h0m-39-1h0m24 0h0m-19-5h0m16-1h0m-6-3h0m-13 0h0m23-4h0m-13 0h0m5-1h0m16-3h0m3 0h0m-11-2h0m-18 0h0m27-2h0m-31-1h0m26 0h0m-5-1h0m-17-1h0m10-1h0m-22-1h0m7-4h0m32-1h0m-16-1h0m-24 0h0m13-1h0m21-1h0m5-2h0m-15-1h0m-17-1h0m17-4h0m-13 0h0m31-2h0m-39-1h0m17-1h0m3-2h0m-18-2h0m7-1h0m27-1h0m-15-2h0m-18-2h0m24 0h0m-10 0h0m23-2h0m-33 0h0m14-1h0m-12-7h0m21-1h0m-7-1h0m18 0h0m-27-1h0m-9-1h0m4-1h0m17-1h0m12-1h0m-9 0h0m-8-2h0m-5 0h0m-9 0h0m28-1h0m6-4h0m-21-2h0m4 0h0m-24-1h0m4-1h0m11-1h0m9-3h0m7 0h0m4-1h0m-33-2h0m7-2h0m4-2h0m5-1h0m14-1h0m9 0h0m-45-2h0m32 0h0m-24-2h0m5-2h0m-9 0h0m34-1h0m-18-3h0m7 0h0m17-2h0m-13-1h0m-16 0h0m33-1h0m-42-2h0m11 0h0m18-1h0m-10 0h0m14-3h0m-6-2h0m-33 0h0m14-2h0m7-1h0m-21-1h0m37-2h0m-28-2h0m20-2h0m12-1h0m-19 0h0m-19-1h0m13 0h0m12-3h0m-5-1h0m1-4h0m20-1h0m-28-1h0m-5 0h0m25-1h0m-12-2h0m-17-1h0m6-1h0m22-1h0m-25-2h0m20-1h0m6-2h0m-36-3h0m26 0h0m4-2h0m-19 0h0m-5-2h0m42-1h0m-7-1h0m-6-1h0m-22-1h0m25-2h0m-32 0h0m20-1h0m-12-2h0m-6-2h0m14-1h0m10-2h0m-14-1h0m-18-1h0m26-1h0m-11-1h0m18-1h0m-27 0h0m41-2h0m-8-2h0m4-2h0m-26-1h0m13-1h0m8-1h0m-38-1h0m6-3h0m-4-2h0m20 0h0m17-1h0m-7-1h0m-22-2h0m-8 0h0m26-1h0m-9-1h0m13-1h0m-16-1h0m20 0h0m-29-4h0m14-1h0m15 0h0m-19-1h0m-5-1h0m26-3h0m-5-1h0m-28 0h0m4-1h0m36 0h0m-22-1h0m14-2h0m-34-3h0m27-1h0m-15-1h0m7-1h0m13 0h0m-29-4h0m20-1h0m6-3h0m6-1h0m-36-3h0m19-1h0m-9-1h0m26-1h0m-28-4h0m6-1h0m13-2h0m-3-4h0m-15-3h0m-7-1h0m29-1h0m4-2h0m-24-1h0m14-4h0m-18 0h0m24-5h0m-16 0h0m-10 0h0m20-7h0m-20-13h0m44 37h0m10 2h0m-12 5h0m11 1h0m5 1h0m-11 5h0m2 5h0m13 2h0m-6 7h0m14 1h0m-24 3h0m8 0h0m24 1h0m-32 5h0m29 1h0m-18 1h0m9 6h0m-18 1h0m7 2h0m21 2h0m-7 2h0m-9 2h0m6 1h0m-18 2h0m14 1h0m-9 1h0m-9 1h0m40 3h0m-6 2h0m8 1h0m-19 1h0m-7 1h0m-9 0h0m37 0h0m-2 6h0m-18 1h0m-10 0h0m-13 0h0m38 4h0m-12 4h0m-27 0h0m36 3h0m7 0h0m-12 0h0m4 4h0m-36 2h0m22 1h0m-16 0h0m32 0h0m-8 1h0m4 0h0m-31 4h0m34 1h0m-18 5h0m-5 2h0m-13 1h0m26 2h0m-26 2h0m14 0h0m28 0h0m-15 2h0m-27 2h0m9 0h0m29 1h0m-16 3h0m20 4h0m-13 1h0m-9 3h0m23 0h0m-29 0h0m-10 1h0m27 4h0m12 1h0m-19 1h0m-7 3h0m27 1h0m-14 5h0m-7 1h0m-15 0h0m34 2h0m-24 1h0m-17 1h0m29 2h0m5 0h0m-31 1h0m24 5h0m-16 1h0m6 0h0m-13 1h0m27 2h0m-25 1h0m18 1h0m18 2h0m-7 0h0m-21 1h0m12 2h0m-18 1h0m33 0h0m-23 1h0m-15 5h0m25 0h0m-13 2h0m5 0h0m4 2h0m-27 4h0m36 0h0m8 1h0m-36 3h0m-9 2h0m6 5h0m28 1h0m-5 1h0m-12 0h0m10 4h0m13 1h0m4 2h0m-12 1h0m-21 3h0m12 2h0m10 1h0m-32 1h0m38 1h0m-22 2h0m4 0h0m-10 0h0m24 1h0m-5 2h0m-20 1h0m-9 2h0m38 1h0m-21 1h0m-5 1h0m30 0h0m-14 4h0m6 3h0m-12 0h0m-20 1h0m13 0h0m31 2h0m-14 1h0m-10 5h0m-18 1h0m9 1h0m16 1h0m-12 1h0m27 1h0m-34 1h0m-4 2h0m33 2h0m-16 0h0m-22 2h0m39 2h0m4 0h0m-8 1h0m-17 1h0m-7 2h0m11 0h0m18 0h0m-24 3h0m18 1h0m-8 0h0m-24 4h0m39 3h0m-16 1h0m-18 0h0m-5 3h0m13 1h0m-9 0h0m30 2h0m-27 3h0m9 1h0m20 5h0m-40 1h0m17 0h0m16 1h0m11 3h0m-23 0h0m-10 1h0m-5 0h0m23 0h0m-9 4h0m17 1h0m-34 0h0m4 2h0m2 4h0m13 1h0m8 0h0m4 2h0m6 1h0m-29 1h0m37 0h0m-44 0h0m19 1h0m5 2h0m10 0h0m8 2h0m-24 0h0m-17 2h0m15 4h0m-6 0h0m28 0h0m-3 3h0m-5 1h0m-33 0h0m11 0h0m9 1h0m24 1h0m-39 1h0m25 1h0m-8 0h0m-11 1h0m19 3h0m-23 1h0m14 1h0m16 0h0m-21 1h0m-17 0h0m45 1h0m-7 3h0m-25 0h0m10 1h0m6 2h0m-15 2h0m32 0h0m-36 0h0m24 0h0m-2 3h0m-5 1h0m18 0h0m-22 2h0m-21 1h0m18 4h0m-14 0h0m26 1h0m-9 0h0m-8 1h0m-8 3h0m36 2h0m-40 1h0m31 4h0m-28 1h0m6 1h0m8 1h0m3 1h0m-18 2h0m13 1h0m24 4h0m-8 1h0m-5 2h0m9 3h0m-6 1h0m-8 1h0m-12 2h0m20 3h0m-9 0h0m23 3h0m-30 0h0m-16 1h0m34 2h0m-25 0h0m17 1h0m5 1h0m-8 2h0m20 2h0m-40 4h0m37 0h0m-21 1h0m28 2h0m-37 0h0m24 0h0m-28 1h0m32 0h0m-14 3h0m24 0h0m-32 3h0m19 5h0m-31 1h0m16 1h0m-6 1h0m11 0h0m12 2h0m4 1h0m-33 1h0m39 5h0m-24 0h0m18 1h0m-30 1h0m4 1h0m29 1h0m-20 1h0m16 2h0m-2 3h0m-29 1h0m38 0h0m-18 1h0m-7 0h0m21 0h0m-38 1h0m3 3h0m25 6h0m-4 1h0m18 1h0m-11 2h0m6 2h0m-29 2h0m-9 2h0m36 0h0m-17 3h0m19 1h0m-11 1h0m5 5h0m-6 3h0m4 4h0m5 2h0m-21 1h0m3 9h0m-17 5h0m28 1h0m10 6h0m-16 0h0m-7 2h0m13 2h0m13 5h0m-7 1h0m-3 9h0m-28 2h0m25 5h0m15 7h0m-4 6h0m-39 4h0m43 2h0m-7 2h0m-9 6h0m-7 0h0m24 7h0m-20 1h0m4 6h0m-8 6h0m-9 6h0m26 0h0m-40 4h0m35 5h0m2 6h0m-9 2h0m-8 5h0m11 3h0m15 1h0m-28 8h0m19 0h0m5 11h0m-6 4h0m-25 3h0m-7 6h0m6 4h0m11 1h0m24 2h0m-8 5h0m-28 1h0m-9 7h0m23 6h0m13 5h0m7 6h0m-25 3h0m9 7h0m-18 0h0m36 0h0m-11 1h0m-19 7h0m-8 2h0m-7 2h0m45 9h0m-8 1h0m-36 7h0m13 12h0m29 2h0m-38 6h0m31 2h0m-27 3h0m31 5h0m-35 4h0m31 1h0m-28 6h0m-5 3h0m22 1h0m-20 2h0m22 1h0m-17 1h0m26 3h0m-24 6h0m25 2h0m-37 3h0m32 3h0m-10 0h0m-13 3h0m25 7h0m-32 1h0m39 4h0m-14 1h0m-25 0h0m27 3h0m17 2h0m-37 1h0m-8 3h0m10 2h0m29 1h0m-36 0h0m24 1h0m-12 2h0m-14 2h0m44 1h0m-32 6h0m-9 1h0m37 2h0m-6 0h0m-6 1h0m-9 1h0m-16 0h0m30 2h0m-28 2h0m23 0h0m-11 2h0m-4 2h0m18 0h0m-23 2h0m8 2h0m-9 2h0m37 1h0m-45 2h0m22 1h0m20 3h0m-42 2h0m21 1h0m16 1h0m-22 1h0m-10 0h0m27 1h0m-4 1h0m16 2h0m-25 3h0m-18 0h0m27 1h0m-30 4h0m18 2h0m23 5h0m-7 1h0m-5 2h0m11 1h0m-6 1h0m-16 7h0m6 4h0m-14 4h0m12 0h0m-3 44h0m-17 10h0m44 5h0m-15 12h0m9 3h0m-22 1h0m6 1h0m-14 3h0m83 1h0m-34-4h0m2-1h0m11 0h0m-19-2h0m34 0h0m-9-2h0m-1-2h0m-13 0h0m15 0h0m-26-25h0m8-47h0m-7-4h0m24-2h0m-6-4h0m-19-2h0m19-4h0m19 0h0m3-2h0m-39 0h0m17-2h0m-15-2h0m10-1h0m23-4h0m-41-23h0m3-7h0m13-1h0m-6-2h0m20-1h0m-27-4h0m39-6h0m-37-2h0m-6-7h0m3-3h0m27 0h0m-14-8h0m-11-6h0m11-6h0m25-16h0m-8-2h0m-16-2h0m28-8h0m-41 0h0m11-1h0m-7-12h0m32 0h0m-16-1h0m1-13h0m-14-1h0m-7 0h0m36-5h0m-7-6h0m-25-2h0m39-1h0m-17-2h0m15-8h0m-27-6h0m20-1h0m9-3h0m-36-3h0m14-4h0m-7-7h0m-7-1h0m-11-10h0m46-6h0m-11-3h0m-27-5h0m22-15h0m-29-2h0m22-1h0m-6-2h0m-4-12h0m2-7h0m27-1h0m-29-7h0m16-2h0m-10-3h0m-4-9h0m-14-2h0m23-11h0m-4-1h0m-9-2h0m1-5h0m15-2h0m-26-3h0m24-1h0m-16-5h0m8-9h0m-7-5h0m-5 0h0m9-1h0m2-5h0m27-1h0m-20-2h0m-6-3h0m-9-3h0m-5 0h0m26-1h0m-4-2h0m-11-2h0m5 0h0m23-1h0m-17-9h0m13 0h0m-34-1h0m36-3h0m-14-1h0m16-4h0m-4-1h0m-5-2h0m7-3h0m-20-5h0m-4-1h0m25-1h0m-5-2h0m-21-1h0m-4-4h0m27 0h0m-9-1h0m8-4h0m-19-1h0m-1-3h0m12-1h0m-28-1h0m46-2h0m-9 0h0m-19-1h0m-12 0h0m20-3h0m-14-1h0m-5-1h0m13 0h0m17-1h0m-34-2h0m13-1h0m22-1h0m-31-1h0m37-1h0m-11-3h0m-8-1h0m19 0h0m-32-1h0m-11-1h0m36-3h0m-20-1h0m13-1h0m-17-6h0m-10 0h0m5-1h0m8-1h0m8-1h0m20-4h0m-30-2h0m-5 0h0m11-2h0m9-3h0m4-1h0m-5-3h0m-7-1h0m-5-3h0m26 0h0m-37-1h0m21-1h0m8-2h0m11 0h0m-44 0h0m35-3h0m-14 0h0m-21-2h0m5-3h0m37 0h0m-25 0h0m4-3h0m-14-2h0m23-1h0m-5-1h0m-11-2h0m22 0h0m-31-3h0m37 0h0m-21-3h0m14-1h0m11-3h0m-13-1h0m-13-1h0m-4-2h0m16-1h0m-6 0h0m5-3h0m-4-2h0m12-4h0m-8-1h0m-24-2h0m-6 0h0m11-1h0m10-1h0m23 0h0m-35-3h0m19-1h0m-12-1h0m-16-4h0m10-1h0m13 0h0m-9-3h0m8-1h0m-24-1h0m9-1h0m-4-1h0m34-1h0m-8-1h0m-9 0h0m6-4h0m15-1h0m-24-2h0m14-1h0m-10-2h0m-15 0h0m-7-1h0m30-1h0m8-3h0m-32 0h0m9-1h0m9 0h0m18-2h0m-34-4h0m23-1h0m-13-2h0m4-2h0m-16-1h0m21-1h0m-17 0h0m30-1h0m-25-3h0m20 0h0m-26 0h0m-4-2h0m35-1h0m-4-1h0m-6-2h0m13-1h0m-9-1h0m-27-3h0m4 0h0m9 0h0m7-1h0m-26-1h0m43-1h0m-5-3h0m-18-1h0m-12-3h0m28-2h0m-23-1h0m5-1h0m15-3h0m-10 0h0m-8-2h0m-18-2h0m9 0h0m24-1h0m-28-1h0m40-3h0m-29-1h0m5 0h0m17-1h0m5-4h0m-39 0h0m27-2h0m-7-2h0m-5 0h0m24-2h0m-29-1h0m22-1h0m-34-1h0m26-2h0m14-1h0m-6-2h0m-36-1h0m8-2h0m7-1h0m12-1h0m15 0h0m5-1h0m-35-2h0m-6-2h0m30 0h0m-17-6h0m22-1h0m6 0h0m-23 0h0m13-1h0m-34 0h0m10 0h0m18 0h0m11-4h0m-24-2h0m28 0h0m-36-3h0m4-1h0m13-2h0m9-1h0m-4-2h0m3-2h0m-16 0h0m-16-1h0m23-2h0m17-1h0m-12-2h0m-8 0h0m18-3h0m-26-2h0m9-1h0m-16 0h0m31-5h0m-27-1h0m19-1h0m-10 0h0m-16 0h0m36-4h0m-30 0h0m24-2h0m-11-1h0m-10-1h0m25-4h0m-18-2h0m-19-1h0m40-1h0m-16 0h0m21-1h0m-10-1h0m-30-1h0m25 0h0m-18 0h0m-13-1h0m28-2h0m17-1h0m-24 0h0m-13-3h0m25-1h0m13-3h0m-16-2h0m-30-1h0m26-1h0m-17-3h0m31 0h0m-24-4h0m11-2h0m-21 0h0m8-3h0m29-3h0m-13-4h0m-29-1h0m14-1h0m29-3h0m-11-4h0m-18 0h0m-15-4h0m40-1h0m-7-4h0m-9-3h0m-14-2h0m7-5h0m9 0h0m-20-1h0m32 0h0m-27-7h0m18-1h0m-4-1h0m-24-1h0m34-1h0m-25-1h0m10 0h0m23-1h0m-2 0h0m-17-6h0m-4 0h0m11-2h0m-24 0h0m-7-5h0m20-1h0m4-1h0m-21-5h0m8-2h0m5-1h0m-11-1h0m-3-12h0m4-3h0m-5-7h0m3-13h0m51 56h0m-7 8h0m9 4h0m9 1h0m-12 6h0m0 9h0m7 1h0m-7 8h0m14 3h0m-19 0h0m45 1h0m-28 3h0m-10 1h0m19 8h0m-13 0h0m7 2h0m13 3h0m6 1h0m-41 0h0m15 1h0m-11 5h0m14 1h0m19 2h0m7 0h0m-23 2h0m10 1h0m-7 1h0m13 0h0m-35 2h0m11 0h0m30 2h0m-21 0h0m5 0h0m8 1h0m12 3h0m-21 5h0m-22 1h0m37 2h0m-5 0h0m-21 1h0m30 3h0m-34 1h0m10 1h0m20 2h0m-39 0h0m4 0h0m31 1h0m-24 1h0m5 2h0m-10 1h0m5 1h0m-13 1h0m42 0h0m4 2h0m-21 1h0m11 4h0m-32 6h0m21 0h0m-7 0h0m-10 3h0m13 5h0m-13 0h0m27 1h0m-19 3h0m31 1h0m-38 0h0m30 2h0m-20 7h0m18 0h0m-31 1h0m20 1h0m-4 2h0m5 2h0m-15 1h0m-9 2h0m26 2h0m-21 1h0m-6 3h0m30 0h0m15 0h0m-28 5h0m25 2h0m-8 1h0m4 2h0m-29 1h0m34 3h0m-41 2h0m29 1h0m-13 1h0m16 2h0m10 1h0m-1 5h0m-34 1h0m14 1h0m7 0h0m-9 4h0m-13 1h0m-8 3h0m9 2h0m36 1h0m-39 1h0m30 0h0m-17 1h0m-17 1h0m23 2h0m20 1h0m-8 0h0m-29 0h0m-2 7h0m33 2h0m-21 1h0m9 1h0m-13 0h0m9 0h0m12 3h0m-30 1h0m25 0h0m-21 2h0m35 1h0m-6 1h0m-39 1h0m5 0h0m42 2h0m-19 1h0m3 0h0m-7 2h0m-17 0h0m-4 2h0m18 1h0m22 1h0m-15 0h0m-13 3h0m32 0h0m-47 1h0m23 1h0m-16 2h0m-6 2h0m10 1h0m33 1h0m-32 5h0m14 2h0m-5 0h0m-8 2h0m26 1h0m-17 1h0m-21 0h0m9 2h0m5 1h0m27 2h0m-15 5h0m-21 3h0m5 1h0m3 1h0m30 0h0m-25 1h0m9 0h0m5 1h0m-23 1h0m34 4h0m-20 1h0m14 0h0m-38 0h0m23 4h0m-4 1h0m-11 1h0m32 0h0m-26 2h0m31 2h0m-41 1h0m16 0h0m13 3h0m-30 2h0m20 2h0m9 0h0m-4 1h0m-11 0h0m28 2h0m-40 3h0m5 1h0m-10 2h0m34 2h0m-24 3h0m5 1h0m27 2h0m-16 3h0m-15 1h0m16 6h0m7 0h0m-26 0h0m-4 2h0m26 3h0m-17 2h0m24 2h0m-36 0h0m43 1h0m-14 5h0m13 0h0m-6 0h0m-20 1h0m-17 0h0m8 1h0m15 1h0m-9 1h0m-1 6h0m15 0h0m-19 0h0m27 2h0m8 0h0m-36 2h0m9 1h0m8 1h0m-23 1h0m30 3h0m9 1h0m-33 1h0m5 2h0m26 0h0m6 2h0m-43 3h0m27 2h0m-8 0h0m-10 1h0m25 3h0m-33 0h0m21 5h0m-10 0h0m4 1h0m21 1h0m-28 1h0m-10 1h0m17 3h0m9 2h0m-6 1h0m24 0h0m-13 0h0m-2 10h0m-6 2h0m-21 1h0m43 0h0m-28 0h0m22 2h0m-5 2h0m-14 0h0m-16 3h0m14 0h0m-8 2h0m-5 5h0m20 1h0m-8 4h0m26 0h0m2 6h0m-46 2h0m21 1h0m10 4h0m12 0h0m-2 11h0m-13 22h0m15 11h0m-2 27h0m-6 2h0m-3 6h0m-16 2h0m27 1h0m-23 3h0m4 6h0m-15 2h0m-7 2h0m16 0h0m-5 1h0m27 0h0m-8 4h0m-18 0h0m0 6h0m16 3h0m-19 2h0m7 3h0m7 0h0m15 2h0m-5 1h0m-19 1h0m-13 0h0m29 2h0m3 8h0m10 3h0m-21 2h0m-11 0h0m-9 1h0m-4 0h0m7 4h0m30 0h0m-20 1h0m12 1h0m-10 3h0m19 2h0m-5 1h0m11 4h0m-23 1h0m-6 2h0m-7 1h0m5 2h0m30 1h0m-17 3h0m21 1h0m-14 0h0m-21 3h0m6 3h0m-12 0h0m22 3h0m-15 1h0m26 1h0m6 3h0m-13 0h0m-19 4h0m27 4h0m-34 2h0m7 9h0m24 0h0m-35 3h0m19 0h0m10 3h0m5 4h0m-18 3h0m-8 15h0m12 2h0m-14 5h0m19 2h0m-11 0h0m24 1h0m-34 7h0m23 15h0m8 11h0m-35 7h0m33 5h0m-2 25h0m7 10h0m-6 1h0m-31 5h0m25 1h0m-8 0h0m-19 5h0m11 2h0m7 3h0m22 0h0m-11 4h0m-16 1h0m-5 6h0m21 65h0m-5 1h0m-14 3h0m1 2h0m30 1h0m-40 1h0m14 0h0m2 3h0m-15 0h0m2 8h0m45-16h0m8 0h0m-4 0h0m10-2h0m-17-82h0m5-4h0m12-4h0m-6-1h0m-5-1h0m33-9h0m-11-6h0m13-36h0m-22-3h0m-8-8h0m4-8h0m10-4h0m21 0h0m-13-11h0m-32 0h0m22 0h0m-11-2h0m36-10h0m-17 0h0m-19-1h0m17-8h0m-7-1h0m4-4h0m8-2h0m-23 0h0m37-5h0m-41-2h0m20-1h0m7-1h0m4-1h0m-23-4h0m17-1h0m-31-2h0m18-2h0m-4-5h0m5 0h0m11-4h0m8 0h0m-25-2h0m7-1h0m-18-2h0m7-3h0m26-1h0m-17-1h0m13 0h0m-8-6h0m-12 0h0m24-1h0m-7-2h0m19-1h0m-37-3h0m5-2h0m28 0h0m-36-2h0m26-2h0m-34-1h0m41-1h0m-16-3h0m15-2h0m-5 0h0m12-2h0m-23-1h0m-8-1h0m-6-1h0m-5-1h0m38-4h0m-34 0h0m20-3h0m11 0h0m-17-4h0m20-4h0m-18-1h0m-13 0h0m7-1h0m5-3h0m4-2h0m-14-1h0m-5 0h0m30-2h0m-34-3h0m17-3h0m17-1h0m-10 0h0m-26 0h0m9-1h0m1-6h0m31-3h0m-23-2h0m-10 0h0m18-1h0m6-1h0m-26-3h0m34-2h0m-13-2h0m-18-7h0m23 0h0m-9 0h0m-21-2h0m17 0h0m9-2h0m17-8h0m-14-2h0m-25-1h0m10-1h0m25 0h0m-38-7h0m8-2h0m4-1h0m10-2h0m-18-10h0m-8-2h0m26-8h0m1-8h0m-22-3h0m36-3h0m-23-2h0m-6-8h0m18-7h0m-32-5h0m14 0h0m6-2h0m-10-3h0m19-3h0m-8-1h0m-7 0h0m12-3h0m-17-1h0m23-1h0m6-3h0m-22 0h0m15-1h0m-20-2h0m-7-1h0m18-2h0m10-1h0m-23 0h0m39-1h0m-38-3h0m11-1h0m-18-1h0m25-3h0m9-3h0m-6-1h0m-21-1h0m-3-4h0m10-1h0m26-1h0m5-1h0m-19 0h0m-18-3h0m10 0h0m-15-1h0m33-3h0m-16-2h0m20-3h0m-32 0h0m-5-1h0m26 0h0m-10-1h0m-8-6h0m30-2h0m-27-1h0m12 0h0m-24-3h0m27-2h0m-12-1h0m17-2h0m-37-1h0m28 0h0m7-3h0m-16 0h0m27 0h0m-15-1h0m-23-2h0m25-5h0m-14-2h0m-17-2h0m26-1h0m-10-1h0m16-1h0m10 0h0m-36-1h0m31-2h0m-37-1h0m20-1h0m24 0h0m-36-1h0m22 0h0m-11-3h0m16-1h0m-36-1h0m28-1h0m13-1h0m-5-3h0m-27-3h0m37-1h0m-23 0h0m-7-2h0m-4-2h0m21-3h0m-15-1h0m-14-4h0m36-1h0m-16-7h0m-23-1h0m13-1h0m-4-3h0m18-3h0m-13 0h0m-7-1h0m37-1h0m-27-2h0m10-1h0m14 0h0m-19 0h0m-11-1h0m14-3h0m21-1h0m-41 0h0m27-1h0m5-2h0m-7-1h0m-29-2h0m17-3h0m-7-2h0m-4 0h0m21-3h0m-8 0h0m-4-2h0m26-1h0m-30-1h0m4-3h0m19-2h0m9-1h0m-30 0h0m25 0h0m-36-3h0m39-2h0m-12 0h0m-25-3h0m32 0h0m-27-1h0m17-2h0m-15-2h0m6 0h0m-14-1h0m23-2h0m-4-1h0m-21-2h0m38-2h0m-6-1h0m-6 0h0m-8-3h0m-9 0h0m31 0h0m-8-3h0m12-1h0m-27-1h0m-5 0h0m-11 0h0m20-2h0m-25-1h0m40-1h0m7-3h0m-14 0h0m-28-1h0m10-2h0m13 0h0m-21-3h0m24-1h0m9-2h0m-24-1h0m19-4h0m-32-2h0m14-1h0m6-1h0m-16-1h0m25-1h0m4-1h0m-20-7h0m27-2h0m5-1h0m-24 0h0m7 0h0m-9-4h0m18-3h0m3-3h0m-39 0h0m34-2h0m-12-4h0m6 0h0m-22-3h0m33-3h0m-19-3h0m-13-1h0m18-3h0m16-1h0m-29 0h0m4-1h0m-13-2h0m34-1h0m-17-2h0m11-1h0m-6-1h0m-27 0h0m18-2h0m13-1h0m-15-4h0m22-1h0m-12-1h0m17 0h0m-21-3h0m-19 0h0m29-2h0m-25 0h0m33 0h0m-26-1h0m-1-5h0m21-2h0m-11-1h0m16 0h0m-33-1h0m12-1h0m-11-5h0m7-1h0m17-1h0m-3 0h0m-30-2h0m23-3h0m-10-1h0m20-1h0m-29-3h0m20 0h0m-15-1h0m19-2h0m-13-2h0m19 0h0m-6-3h0m18 0h0m-40 0h0m14-2h0m-10-1h0m27-2h0m-34-2h0m26-3h0m-15-3h0m-6 0h0m-3-6h0m23 0h0m-5-3h0m7-3h0m-27 0h0m2-5h0m5-1h0m26-3h0m-8-3h0m11-1h0m-35-3h0m10-15h0m51-114h0m3 4h0m17 0h0m-4 2h0m8 2h0m3 2h0m-13 2h0m7 1h0m-16 2h0m22 1h0m-4 2h0m4 5h0m4 13h0m-44 96h0m20 8h0m-12 2h0m-2 5h0m-4 1h0m22 2h0m-27 0h0m18 0h0m-14 8h0m-4 0h0m28 3h0m-20 1h0m23 3h0m10 3h0m-7 6h0m-19 0h0m-12 3h0m39 1h0m-6 0h0m-22 0h0m28 4h0m-35 3h0m-6 0h0m39 4h0m-23 5h0m22 1h0m-37 0h0m4 2h0m25 1h0m-8 2h0m-21 5h0m31 3h0m-25 3h0m-8 0h0m29 2h0m11 1h0m-14 1h0m-15 1h0m13 3h0m-17 0h0m-7 3h0m6 1h0m13 1h0m12 2h0m-21 1h0m9 1h0m7 3h0m5 3h0m-28 0h0m11 1h0m-7 2h0m35 2h0m-35 5h0m17 4h0m-24 2h0m46 0h0m-27 1h0m11 1h0m-22 0h0m-2 5h0m21 2h0m13 1h0m4 1h0m-36 0h0m4 1h0m22 2h0m-12 3h0m6 0h0m-22 2h0m30 4h0m-21 0h0m-14 0h0m39 3h0m-12 2h0m-19 0h0m37 0h0m-8 1h0m5 3h0m-18 3h0m6 0h0m-22 1h0m8 3h0m10 0h0m-24 0h0m30 1h0m-27 1h0m31 6h0m4 1h0m5 1h0m-13 2h0m-32 0h0m25 1h0m-18 3h0m25 0h0m-11 3h0m11 1h0m4 1h0m-34 2h0m39 1h0m-25 0h0m8 1h0m-25 2h0m10 2h0m33 2h0m-23 0h0m-4 1h0m-15 1h0m28 0h0m-17 2h0m5 3h0m12 2h0m-18 1h0m32 1h0m-7 2h0m-12 0h0m-14 1h0m17 0h0m-20 2h0m24 2h0m-4 2h0m-17 1h0m13 2h0m-10 1h0m-8 1h0m31 1h0m5 1h0m-12 3h0m-20 1h0m15 0h0m3 4h0m14 2h0m-35 0h0m5 3h0m13 1h0m12 1h0m-25 3h0m-6 2h0m24 0h0m16 1h0m-29 1h0m22 4h0m-30 0h0m23 1h0m-16 0h0m28 2h0m-19 2h0m-12 1h0m25 0h0m-17 1h0m-19 1h0m34 2h0m4 0h0m-12 1h0m6 4h0m-31 4h0m37 1h0m-31 6h0m15 0h0m-6 3h0m-14 1h0m28 0h0m-4 2h0m-19 0h0m14 2h0m-20 1h0m28 0h0m-5 3h0m-15 1h0m20 1h0m-24 1h0m17 1h0m-21 3h0m5 1h0m16 1h0m-13 8h0m9 0h0m-18 4h0m8 4h0m-8 2h0m26 7h0m-22 1h0m24 12h0m-19 8h0m35 5h0m-24 10h0m-9 1h0m-4 15h0m9 1h0m21 4h0m-38 5h0m-1 7h0m8 17h0m21 4h0m-21 37h0m6 8h0m-11 0h0m-2 7h0m19 1h0m-12 3h0m34 1h0m-37 3h0m20 5h0m21 3h0m-38 3h0m17 1h0m19 0h0m-21 10h0m-7 4h0m21 0h0m-35 1h0m8 0h0m31 1h0m-3 4h0m-27 0h0m35 7h0m-18 0h0m-9 0h0m-9 0h0m27 3h0m-36 0h0m17 4h0m15 3h0m-27 1h0m35 2h0m-15 1h0m-1 4h0m22 1h0m-27 0h0m20 2h0m6 4h0m-35 2h0m13 2h0m23 0h0m-40 1h0m20 2h0m6 2h0m6 1h0m-30 0h0m24 4h0m-28 1h0m36 1h0m-19 4h0m17 2h0m-34 3h0m41 0h0m-22 4h0m-12 3h0m17 0h0m-27 2h0m4 1h0m41 1h0m-37 0h0m11 2h0m19 3h0m-10 1h0m13 6h0m-13 0h0m-20 0h0m27 1h0m-17 5h0m23 1h0m-29 5h0m12 2h0m19 0h0m-8 1h0m-37 3h0m41 0h0m-5 2h0m-26 31h0m5 15h0m11 2h0m15 9h0m-37 2h0m11 2h0m-2 9h0m3 10h0m30 3h0m-19 3h0m-18 5h0m0 13h0m16 8h0m14 5h0m-1 7h0m8 0h0m-2 6h0m-6 3h0m-11 0h0m16 2h0m-21 1h0m9 2h0m-4 0h0m-4 2h0m16 4h0m5 0h0m-24 3h0m-5 2h0m20 1h0m7 4h0m-9 3h0m-4 2h0m-6 3h0m11 1h0m-5 1h0m17 4h0m-8 0h0m-6 0h0m-11 3h0m10 2h0m-5 3h0m12 5h0m-10 1h0m-6 4h0m10 2h0m15 1h0m-1 5h0m-14 0h0m-2 4h0m-9 6h0m26 6h0m-10 0h0m-5 0h0m-6 5h0m7 0h0m9 6h0m5 2h0m-7 3h0m-32 10h0m14 12h0m25 27h0m46 61h0m-2-11h0m2-3h0m-4-1h0m-4-4h0m9-6h0m-10-5h0m-35-1h0m22 0h0m21-1h0m-12-2h0m-13-3h0m21-2h0m-12-2h0m5-2h0m1-4h0m8-1h0m-2-6h0m-5 0h0m-20-3h0m25-2h0m-13-4h0m11 0h0m5-3h0m-15-3h0m8 0h0m4-5h0m4-11h0m-10-3h0m-8-5h0m-19-2h0m31-1h0m3-2h0m-27-2h0m12-2h0m18-1h0m-6-1h0m-6-3h0m-23-1h0m9 0h0m-5-1h0m1-4h0m4-1h0m20 0h0m-31-2h0m19 0h0m-14-1h0m10 0h0m-4-2h0m29 0h0m-15-1h0m6-2h0m-5-1h0m-10-1h0m18-2h0m-39-1h0m8-2h0m35 0h0m-25-2h0m23-1h0m-40-1h0m9 0h0m18-4h0m-16 0h0m20-3h0m-27 0h0m10-2h0m12-4h0m11 0h0m-6-1h0m-4-4h0m18 0h0m-24-2h0m21-2h0m-13-1h0m-31-3h0m32-3h0m-30-5h0m11-1h0m28-1h0m-36 0h0m28-1h0m-8-4h0m-18-1h0m38 0h0m-42-2h0m41-4h0m-23-4h0m23-2h0m-36-2h0m28-1h0m-17-1h0m-5-3h0m-12 0h0m27-1h0m-20 0h0m36-1h0m-27-3h0m-8-3h0m20-1h0m-16-1h0m32 0h0m-41-4h0m11-1h0m24-2h0m5 0h0m-32-1h0m-5-4h0m37 0h0m-15-1h0m-16-1h0m6-2h0m20-1h0m-5 0h0m-28-2h0m21-2h0m-5-1h0m21-7h0m-13 0h0m-26-3h0m18-4h0m5-60h0m-24-44h0m11-1h0m8-2h0m-14 0h0m21-6h0m-11-6h0m-6-1h0m-5-1h0m-5-3h0m12-2h0m9-1h0m-21-9h0m19-1h0m-6 0h0m-10-4h0m21 0h0m-9-1h0m-8-3h0m-6-2h0m17-4h0m8-1h0m-18-3h0m34 0h0m-25 0h0m-4-4h0m6-1h0m-20-2h0m27-1h0m-1-6h0m-12 0h0m5 0h0m-13-3h0m30-4h0m-36-1h0m23-2h0m-17-5h0m-6-1h0m28-4h0m-15-2h0m21-2h0m-18-1h0m-5-5h0m25-1h0m-9-3h0m-9-3h0m-17-3h0m22 0h0m5-1h0m-15 0h0m8-4h0m6-3h0m3-4h0m-26-2h0m9-1h0m-12-6h0m7-3h0m19-3h0m-16-14h0m16-14h0m-20-6h0m21-4h0m16 0h0m-36-13h0m3-13h0m19-36h0m-25-4h0m33 0h0m-24-5h0m25-15h0m-22-5h0m12-2h0m-1-11h0m13-17h0m4-18h0m-17-2h0m7 0h0m2-7h0m-3-6h0m6-3h0m-30-1h0m19-1h0m-1 0h0m14-6h0m-10-2h0m9-4h0m-7-2h0m8-5h0m-44-4h0m14-2h0m-5-2h0m28 0h0m-14-2h0m20-2h0m-39-2h0m17 0h0m6-3h0m11-2h0m4-6h0m-25-6h0m16-5h0m-12-1h0m14-4h0m-21-1h0m-5-4h0m-7 0h0m22-2h0m-8-1h0m-14-2h0m8-1h0m31 0h0m-15 0h0m6-1h0m-32-2h0m14 0h0m-7-1h0m37-3h0m-20 0h0m10-5h0m-19-1h0m-5-1h0m12-2h0m-20-2h0m12-1h0m4 0h0m-18-7h0m11 0h0m13-3h0m16 0h0m-25-1h0m-7-2h0m21 0h0m-25-2h0m30-2h0m-27-4h0m35 0h0m-19 0h0m-18-4h0m12-1h0m-16-3h0m22-2h0m22 0h0m-29-2h0m14-3h0m-27 0h0m4-4h0m27 0h0m-26-5h0m26-2h0m-24-2h0m15-2h0m-9-1h0m6-4h0m9-1h0m15-1h0m-6-1h0m-35 0h0m15-1h0m4 0h0m-17-3h0m16-1h0m-4 0h0m-18-1h0m35-3h0m-31 0h0m12-2h0m14-4h0m3-4h0m-16-1h0m28-2h0m-30-3h0m13 0h0m9-2h0m-13-1h0m-18-1h0m6-8h0m30-1h0m-2 0h0m-33-3h0m0-9h0m5-2h0m-14-1h0m3-4h0m42-7h0m-45-13h0m25-4h0m-2-2h0m25-3h0m-30-7h0m1-1h0m21-15h0m-1-1h0m-8-37h0m1-1h0m13-18h0m-3-3h0m0-1h0m3-8h0m-1-6h0m-6-2h0m-6 0h0m-10-1h0m6-1h0m-11 0h0m19-2h0m-4-3h0m13-1h0m-3-2h0m-28 0h0m18 0h0m-24-1h0m21-6h0m14 0h0m-37-1h0m16 0h0m14-3h0m-31-2h0m25 0h0m-14-1h0m-8 0h0m18-1h0m10-2h0m-9-1h0m5-1h0m-19-3h0m-13-2h0m41 0h0m-36 0h0m27-1h0m15-3h0m-26 0h0m-21-2h0m18-1h0m20 0h0m-29 0h0m38-5h0m-6-2h0m-8-1h0m-11-3h0m-8-2h0m21 0h0m-23-6h0m-12-1h0m48 11h0m6 9h0m17 2h0m-21 2h0m13 4h0m-7 1h0m20 3h0m-4 6h0m-18 1h0m10 0h0m11 1h0m4 0h0m-18 1h0m-11 1h0m22 0h0m17 3h0m-33 2h0m-6 1h0m12 2h0m34 2h0m-11 0h0m3 1h0m-26 1h0m-5 3h0m17 0h0m12 4h0m-37 1h0m17 1h0m4 1h0m5 2h0m8 1h0m11 1h0m-30 1h0m3 3h0m22 2h0m-7 2h0m1 4h0m-29 0h0m35 0h0m-20 1h0m9 1h0m7 5h0m-32 1h0m1 3h0m0 2h0m27 9h0m-30 0h0m24 4h0m-13 1h0m27 0h0m-21 13h0m-3 20h0m1 4h0m-17 1h0m18 2h0m12 7h0m-19 9h0m-6 5h0m36 1h0m-14 5h0m-10 2h0m-17 4h0m39 0h0m-23 6h0m12 6h0m18 1h0m-29 4h0m0 1h0m11 7h0m-20 3h0m16 2h0m-1 5h0m-8 2h0m-9 0h0m30 2h0m5 2h0m-14 1h0m-8 5h0m20 4h0m-27 3h0m9 15h0m-10 4h0m15 6h0m5 1h0m-30 4h0m27 1h0m6 1h0m-13 3h0m18 3h0m-16 8h0m9 2h0m-15 3h0m18 1h0m12 1h0m-5 4h0m-8 3h0m-25 1h0m13 3h0m-9 3h0m4 4h0m-15 1h0m32 2h0m-1 5h0m10 2h0m-16 3h0m-10 2h0m27 3h0m-39 7h0m24 8h0m-19 0h0m12 10h0m12 1h0m7 7h0m-27 2h0m33 0h0m-24 0h0m8 1h0m-22 8h0m14 0h0m23 1h0m-19 3h0m17 2h0m-28 5h0m-15 1h0m9 0h0m6 9h0m14 0h0m-8 3h0m-15 2h0m39 2h0m-18 2h0m-28 2h0m15 2h0m20 2h0m-18 4h0m5 2h0m13 0h0m-12 5h0m22 4h0m-19 0h0m-23 6h0m28 0h0m-19 1h0m26 3h0m-37 4h0m16 2h0m-10 2h0m-5 2h0m10 3h0m19 2h0m-23 4h0m36 2h0m-7 5h0m6 2h0m-32 1h0m22 4h0m-32 3h0m44 3h0m-8 2h0m-14 1h0m-6 2h0m-14 3h0m28 4h0m14 6h0m-23 12h0m-21 4h0m31 3h0m-18 6h0m17 2h0m-25 1h0m15 2h0m9 2h0m-11 5h0m-7 8h0m19 3h0m-25 6h0m9 0h0m17 4h0m-20 1h0m31 2h0m-34 3h0m7 3h0m9 7h0m2 111h0m0 0h0m-1 0h0m-15 112h0m-1 1h0m-2 50h0m-7 1h0m0 4h0m36 1h0m4 0h0m-24 3h0m18 1h0m-15 1h0m8 2h0m-13 1h0m-14 1h0m10 2h0m-8 2h0m28 1h0m5 1h0m-29 0h0m-5 2h0m15 1h0m10 1h0m11 4h0m-13 4h0m-5 4h0m20 0h0m-27 4h0m25 0h0m-20 0h0m12 0h0m-23 2h0m-7 0h0m36 5h0m-6 0h0m-29 4h0m33 3h0m-14 0h0m10 0h0m13 1h0m-7 6h0m-35 0h0m27 2h0m-6 2h0m10 1h0m-29 0h0m34 0h0m-28 2h0m33 1h0m-9 2h0m8 2h0m-25 2h0m6 1h0m-12 0h0m-7 1h0m26 1h0m13 0h0m-26 1h0m18 6h0m-30 3h0m10 0h0m15 1h0m-30 1h0m42 1h0m-34 1h0m30 1h0m-4 1h0m-18 1h0m10 1h0m19 1h0m-25 0h0m14 3h0m-16 1h0m6 0h0m-15 3h0m17 1h0m9 1h0m-23 5h0m23 1h0m-5 1h0m-10 1h0m26 0h0m-43 2h0m15 3h0m4 0h0m-18 2h0m20 1h0m21 5h0m-28 0h0m10 2h0m7 0h0m-17 5h0m-5 1h0m30 3h0m-41 1h0m39 3h0m-25 2h0m13 3h0m13 0h0m-36 1h0m16 1h0m9 2h0m-29 0h0m40 2h0m-19 1h0m15 0h0m-36 2h0m24 2h0m9 2h0m-27 1h0m16 1h0m11 3h0m13 0h0m-34 1h0m30 0h0m-37 2h0m25 0h0m-8 1h0m-15 2h0m39 1h0m-20 2h0m-10 3h0m-9 2h0m5 1h0m21 1h0m-4 1h0m16 1h0m-22 0h0m-24 0h0m28 4h0m7 1h0m-34 0h0m17 1h0m13 1h0m0 4h0m-16 3h0m18 1h0m13 1h0m-38 0h0m13 1h0m25 4h0m-22 4h0m-7 0h0m-13 1h0m7 2h0m22 1h0m-27 1h0m8 3h0m30 3h0m-36 3h0m18 0h0m5 1h0m-14 0h0m11 3h0m-25 1h0m42 4h0m-27 1h0m18 4h0m-9 1h0m-24 0h0m13 1h0m18 1h0m12 3h0m-15 2h0m-11 0h0m16 1h0m7 6h0m-19 1h0m6 4h0m15 3h0m45 24h0m-2-5h0m6-2h0m-43-3h0m28-5h0m15-1h0m-32-1h0m13-1h0m5-3h0m-13-2h0m5 0h0m15-1h0m-11-1h0m-10-6h0m-10 0h0m7-4h0m13 0h0m-16-2h0m6-1h0m29-1h0m-23-2h0m-19-3h0m37 0h0m-15-1h0m-14-2h0m33-9h0m-24-1h0m15-3h0m-10 0h0m19 0h0m-22-1h0m22-4h0m-25-1h0m3-2h0m-14-1h0m10-1h0m-16 0h0m29-1h0m7-3h0m-13-1h0m5-2h0m-20-1h0m5-1h0m3-1h0m9 0h0m15-1h0m-4-1h0m-26-4h0m27-1h0m-40 0h0m9-5h0m27-2h0m-13-3h0m14 0h0m-19-2h0m-11-1h0m4-3h0m-10-1h0m17-2h0m12 0h0m-22-1h0m5-1h0m9-3h0m8-4h0m-17-2h0m-5-1h0m9-2h0m-7-2h0m27 0h0m-23-1h0m-7-2h0m10-6h0m-16-3h0m14-1h0m5-1h0m3-3h0m-21-4h0m20-3h0m4-2h0m-5-5h0m12-2h0m-16 0h0m9-2h0m-22-1h0m13-2h0m-16-1h0m24-2h0m-7-5h0m-16-1h0m10 0h0m10-1h0m-11-3h0m-4-2h0m31-3h0m-5 0h0m-14 0h0m7-4h0m8-1h0m9-1h0m-19-2h0m1-5h0m6 0h0m10-1h0m-25-1h0m-13-1h0m40-5h0m-13-1h0m-19-2h0m7-2h0m-8-2h0m20 0h0m-6 0h0m18-2h0m-34-2h0m24-1h0m-6-1h0m11-2h0m-28-4h0m4-3h0m17-1h0m14-3h0m-14-1h0m-13-1h0m-6 0h0m18-8h0m-12 0h0m16-1h0m-19-3h0m22 0h0m-29-1h0m20-1h0m-17-4h0m7-1h0m7 0h0m0-6h0m5-1h0m-25 0h0m33 0h0m3-2h0m-20-1h0m-4 0h0m-8-2h0m26-3h0m-20-4h0m6 0h0m-15-3h0m2-11h0m4-108h0m0 0h0m-1-197h0m-11-14h0m44-14h0m-38-5h0m13-3h0m18-2h0m-12-1h0m21-5h0m-8-2h0m-24-3h0m33 0h0m-30-5h0m-14-1h0m7-2h0m16-2h0m8-2h0m-19-3h0m29-1h0m-12-4h0m-6-1h0m-9-2h0m27 0h0m-35-7h0m9 0h0m16-4h0m-26-2h0m22-4h0m-15-6h0m-14 0h0m30-3h0m-7 0h0m-15-1h0m15-8h0m-15-3h0m7-3h0m14-5h0m12-1h0m-35-1h0m28-4h0m-28-1h0m40-2h0m-33-1h0m5-2h0m11-6h0m12-1h0m-33-4h0m23-2h0m-18-2h0m13-2h0m-25-5h0m7-2h0m30-3h0m9 0h0m-21-4h0m-9-2h0m8-7h0m17-5h0m-19-4h0m-8-7h0m-6-3h0m36-3h0m-45-9h0m37-3h0m-13 0h0m-16-5h0m4-3h0m7-1h0m19-5h0m-15-2h0m-22-3h0m19-1h0m15 0h0m-9-3h0m-21-1h0m8-5h0m33-1h0m-19-7h0m3-5h0m-24 0h0m37-3h0m1-7h0m-20-2h0m-7 0h0m-14-3h0m1-5h0m37 0h0m-11-2h0m0-9h0m12-3h0m-36-1h0m19-1h0m-16-4h0m24-1h0m-13-1h0m18-6h0m7-1h0m-43-2h0m14 0h0m-7-3h0m20-3h0m-16-1h0m21-4h0m-17-2h0m23-1h0m-5-6h0m-32-1h0m6-1h0m-10-5h0m37-1h0m-31-12h0m11-3h0m28-10h0m-10-1h0m-15-4h0m19-2h0m-7-6h0m-13-9h0m-18-8h0m17-7h0m20 0h0m-7-1h0m16-4h0m-10-15h0m3-2h0m6-4h0m-18-1h0m-6 0h0m15-2h0m-5-2h0m15-2h0m-25-1h0m11-1h0m-15-1h0m8-2h0m6-1h0m9 0h0m5-1h0m-27-2h0m28-2h0m-13-2h0m-6-2h0m-17 0h0m36 0h0m-6-1h0m-31-5h0m9-2h0m5-1h0m15-3h0m-7 0h0m-12-1h0m-1-3h0m13-1h0m-28-2h0m31 0h0m9-2h0m-43-1h0m27 0h0m-15 0h0m10-3h0m-6-2h0m-15 0h0m32-1h0m-25-1h0m34 0h0m-21-2h0m-16-2h0m8-3h0m-1-6h0m-10-8h0m56 40h0m4 4h0m1 5h0m11 2h0m-21 3h0m10 0h0m1 8h0m29 1h0m-35 1h0m6 2h0m-15 1h0m14 4h0m-8 2h0m30 1h0m-8 0h0m-19 1h0m22 2h0m-27 1h0m20 0h0m-9 1h0m8 2h0m7 0h0m12 0h0m-32 1h0m3 1h0m12 2h0m-21 1h0m-4 0h0m43 3h0m-22 1h0m15 3h0m-19 0h0m26 1h0m-20 2h0m20 3h0m-25 0h0m5 2h0m-24 2h0m36 1h0m-7 0h0m-15 1h0m-6 3h0m22 3h0m-9 0h0m-3 1h0m8 1h0m3 7h0m-4 0h0m18 2h0m-15 2h0m-5 3h0m-22 0h0m28 2h0m17 1h0m-4 0h0m-17 3h0m-4 1h0m25 2h0m-22 0h0m-13 3h0m36 2h0m-23 3h0m10 1h0m-3 2h0m13 1h0m-7 0h0m-25 3h0m20 1h0m-5 2h0m15 3h0m-39 4h0m43 4h0m-8 3h0m5 2h0m-13 1h0m6 1h0m-20 0h0m29 1h0m-8 4h0m-7 0h0m11 4h0m-6 2h0m-34 0h0m45 1h0m-38 2h0m12 3h0m1 7h0m16 1h0m-22 0h0m27 4h0m-41 6h0m28 3h0m-16 1h0m2 5h0m-9 3h0m20 3h0m-21 6h0m16 0h0m3 9h0m-14 1h0m32 0h0m-13 2h0m-15 6h0m-7 0h0m16 0h0m-12 7h0m6 0h0m18 0h0m-29 1h0m41 3h0m-40 6h0m26 0h0m7 1h0m-31 5h0m36 1h0m-6 1h0m-18 0h0m9 5h0m-14 5h0m-9 2h0m9 4h0m16 1h0m9 5h0m-25 1h0m20 5h0m-16 0h0m8 1h0m-17 1h0m-9 8h0m11 1h0m31 0h0m-18 3h0m19 2h0m-14 4h0m-30 1h0m19 2h0m25 1h0m-17 5h0m8 1h0m-20 4h0m7 6h0m-8 4h0m-15 0h0m40 4h0m-14 4h0m10 3h0m-15 0h0m24 1h0m-36 3h0m33 3h0m-40 1h0m33 0h0m-17 3h0m25 1h0m-7 4h0m-16 1h0m23 4h0m-17 7h0m-18 0h0m22 1h0m5 2h0m10 4h0m-25 1h0m15 10h0m-30 2h0m36 1h0m-24 1h0m-17 2h0m23 10h0m-22 0h0m29 0h0m15 4h0m-43 1h0m22 1h0m-17 3h0m8 6h0m18 0h0m-6 7h0m-5 1h0m-1 0h0m-16 4h0m-5 11h0m15 4h0m3 0h0m1 1h0m27 140h0m-10 9h0m-4 8h0m7 6h0m-11 2h0m18 5h0m-23 11h0m24 0h0m-7 5h0m-17 8h0m-18 1h0m9 1h0m19 12h0m-5 5h0m-4 6h0m5 11h0m-13 0h0m29 3h0m-21 2h0m15 8h0m-37 39h0m0 1h0m17 57h0m-12 12h0m-4 12h0m6 2h0m-6 8h0m7 1h0m7 4h0m-4 5h0m-7 0h0m17 5h0m-20 2h0m41 2h0m-23 2h0m-13 1h0m37 1h0m-19 0h0m-24 2h0m9 1h0m32 2h0m-7 1h0m-26 2h0m29 1h0m-18 0h0m5 1h0m-19 3h0m14 1h0m10 1h0m-4 2h0m11 0h0m-15 2h0m-13 0h0m-4 2h0m25 1h0m-29 0h0m25 4h0m-10 1h0m-11 2h0m31 1h0m-15 2h0m21 5h0m-31 2h0m35 1h0m-12 1h0m-4 4h0m14 2h0m-9 5h0m-18 3h0m-4 1h0m30 0h0m-35 0h0m22 2h0m9 5h0m4 1h0m-3 4h0m-41 0h0m45 2h0m-16 7h0m-27 0h0m8 1h0m10 0h0m11 4h0m-26 0h0m20 4h0m-7 0h0m11 0h0m-20 4h0m-1 5h0m32 3h0m-27 1h0m19 1h0m12 0h0m-18 4h0m10 2h0m9 2h0m-5 0h0m-31 1h0m6 0h0m17 1h0m-1 8h0m-26 5h0m10 1h0m-15 0h0m21 4h0m6 1h0m-12 1h0m17 0h0m-23 3h0m9 1h0m-11 4h0m-6 2h0m19 1h0m-12 5h0m32 1h0m4 2h0m-42 3h0m43 1h0m-21 4h0m-15 0h0m30 1h0m-12 3h0m18 2h0m-5 4h0m-19 1h0m-8 0h0m16 2h0m-10 2h0m-13 1h0m18 1h0m-10 1h0m-12 3h0m17 3h0m7 1h0m-16 0h0m-4 0h0m-3 6h0m3 5h0m-3 3h0m8 6h0m-8 2h0m12 4h0m-13 2h0m6 0h0m6 6h0m0 9h0m13 3h0m36-71h0m-4-3h0m-4-7h0m-4-3h0m8-1h0m9-9h0m-8-1h0m6-2h0m7-3h0m-22-1h0m5 0h0m4-2h0m10-6h0m6-4h0m-10-3h0m-11-3h0m14 0h0m-8-1h0m0-4h0m6-5h0m-9-4h0m-8-1h0m19-2h0m-15-4h0m20 0h0m-24-1h0m17-3h0m-5 0h0m3-4h0m-14-1h0m20 0h0m3-3h0m-11-3h0m5-2h0m-6-1h0m-4-5h0m17 0h0m-4-2h0m-14-3h0m-4-3h0m-5 0h0m22-4h0m5 0h0m-21-4h0m15-1h0m-3-2h0m13-2h0m-23 0h0m8-4h0m-5 0h0m3-4h0m10-2h0m-11-3h0m-4-1h0m21 0h0m-24-10h0m19-3h0m-9-1h0m7-2h0m-4-1h0m-8-2h0m4-1h0m-1-4h0m-11-1h0m6-1h0m-6-6h0m2-4h0m-1-147h0m18-4h0m-5-22h0m8-2h0m-19-2h0m21-3h0m-10-3h0m19-2h0m11 0h0m-22 0h0m-9-2h0m10-2h0m9-3h0m-35-3h0m31 0h0m13-4h0m-15-2h0m5-5h0m-9-1h0m-19-1h0m7-3h0m10-2h0m4-3h0m9-4h0m5 0h0m-20 0h0m9-1h0m-5-3h0m-23-5h0m8-2h0m5-4h0m14-2h0m8-1h0m-8-12h0m15-3h0m-31-3h0m19-8h0m-28-3h0m16-5h0m20-1h0m-40-172h0m14-2h0m-8-4h0m4-4h0m6-3h0m8-4h0m-17-3h0m10-2h0m23-3h0m-29-3h0m-9-1h0m44-1h0m-22-1h0m-4-3h0m19-2h0m-7 0h0m-9 0h0m3-1h0m-27-4h0m44 0h0m-32-2h0m24-1h0m-6-2h0m11 0h0m-24-1h0m-7-2h0m27 0h0m-14 0h0m23-3h0m-9-2h0m-19 0h0m13-1h0m9-1h0m-35-2h0m4-1h0m-6-2h0m32 0h0m-28-2h0m39-1h0m-30-3h0m-9-1h0m30-1h0m-37 0h0m43-3h0m-24-1h0m-15-3h0m12-1h0m20-1h0m11-1h0m-22 0h0m-6-2h0m19 0h0m-24 0h0m27-3h0m3-5h0m-12-2h0m-26 0h0m41-2h0m-12 0h0m-32-2h0m6-2h0m20-1h0m-26-3h0m28 0h0m7-2h0m-25 0h0m22-2h0m-30-1h0m11-2h0m24 0h0m-16-2h0m11-2h0m10-2h0m-36-2h0m16-1h0m-13 0h0m7-1h0m24 0h0m-3-2h0m-37-1h0m39-2h0m4 0h0m-19 0h0m-21-1h0m28-2h0m-24-1h0m22-3h0m5-2h0m-11 0h0m4-1h0m-11 0h0m-16-1h0m35-1h0m-28-1h0m10-1h0m-7-3h0m34-2h0m-14 0h0m-27-1h0m7-1h0m-4-1h0m-3-2h0m34-3h0m5 0h0m-21-1h0m7-1h0m14-3h0m-28 0h0m6-1h0m-22-1h0m44-1h0m-17 0h0m-19-2h0m33-1h0m-5 0h0m-14-1h0m-10-1h0m21-1h0m4-1h0m-27-1h0m9-1h0m-18-1h0m46 0h0m-24-1h0m8-1h0m-23-2h0m33-1h0m-38-2h0m17-4h0m14-1h0m8 0h0m-15-4h0m-10-1h0m3-1h0m11-1h0m-9-2h0m-20 0h0m9-5h0m15-1h0m-11-1h0m-7 0h0m15-1h0m7-2h0m-28-1h0m-3-2h0m46-1h0m-45-3h0m6 0h0m8 0h0m13-1h0m-4-1h0m-21-1h0m6-2h0m18 0h0m15-2h0m-38-3h0m10 0h0m32-1h0m-38-2h0m-3-1h0m30-1h0m10-4h0m-12 0h0m-16-1h0m12 0h0m-28-3h0m35 0h0m-14 0h0m8 0h0m17-1h0m-39-4h0m39-1h0m-42-2h0m21-1h0m-6 0h0m25-1h0m-42-3h0m18 0h0m-13 0h0m18-2h0m8-3h0m-24 0h0m9-3h0m-6 0h0m-9-2h0m26-1h0m-15 0h0m6-2h0m21-3h0m-36 0h0m8-1h0m9-1h0m23-2h0m-6 0h0m-28-4h0m24-1h0m-4 0h0m-25-2h0m14 0h0m8-1h0m-7-2h0m-4-1h0m-8 0h0m17-2h0m-14-3h0m-5 0h0m14-4h0m-20-2h0m21-3h0m-18-2h0m10-1h0m16-4h0m-19-6h0m9 0h0m-3-5h0m-15-3h0m1-8h0m51 78h0m-5 16h0m10 10h0m-12 3h0m10 2h0m-8 11h0m10 1h0m-2 7h0m-8 0h0m2 4h0m7 2h0m-2 3h0m-9 0h0m20 1h0m-14 2h0m-2 5h0m8 8h0m-10 3h0m4 2h0m8 2h0m-3 2h0m1 11h0m12 3h0m-14 2h0m2 3h0m14 3h0m-7 4h0m-18 0h0m9 3h0m-3 1h0m7 5h0m6 5h0m-4 0h0m-9 3h0m-6 5h0m14 1h0m-12 12h0m-2 6h0m12 0h0m6 5h0m-6 1h0m-2 6h0m-8 1h0m-2 7h0m4 5h0m11 2h0m-10 6h0m21 2h0m-1 1h0m1 0h0m13 184h0m2 16h0m4 15h0m-34 3h0m13 3h0m-21 5h0m22 7h0m14 1h0m-6 0h0m-12 4h0m-12 9h0m28 4h0m-7 2h0m-2 6h0m18 0h0m-31 4h0m-11 0h0m27 5h0m-23 3h0m29 3h0m-24 3h0m15 3h0m-21 1h0m25 2h0m-19 0h0m32 1h0m-26 1h0m-15 1h0m19 2h0m-6 5h0m22 2h0m-17 0h0m25 1h0m-29 1h0m15 1h0m8 0h0m-32 2h0m36 1h0m-41 2h0m14 3h0m-12 1h0m39 2h0m-16 2h0m-17 5h0m10 2h0m6 1h0m-24 1h0m15 0h0m27 5h0m-15 3h0m5 4h0m-8 1h0m-28 1h0m16 3h0m3 8h0m-10 6h0m38 3h0m20-15h0m-6-6h0m6-4h0m28-3h0m-33-4h0m16-2h0m-9 0h0m24-2h0m-36-2h0m8-3h0m-15-1h0m22-3h0m7 0h0m3-5h0m-10-1h0m-20-2h0m6-1h0m-4-3h0m9-2h0m10-2h0m-16-10h0m1-11h0m13-12h0m-18 0h0m12-5h0m11-2h0m6-5h0m-30-8h0m24 0h0m18 0h0m-9-2h0m-33-10h0m24-11h0m-20-1h0m25-2h0m-4-6h0m-5-7h0m9-4h0m-26-3h0m16 0h0m18-1h0m-6-7h0m-33-6h0m2-8h0m21-1h0m7-2h0m-12-5h0m23 0h0m-23-6h0m-11-5h0m25-8h0m51-34h0m0 7h0m7 6h0m-22 5h0m-8 3h0m26 1h0m-18 4h0m14 3h0m-19 5h0m10 12h0m-18 3h0m6 5h0m6 0h0m-18 5h0m32 10h0m-11 0h0m22 7h0m-45 6h0m12 4h0m2 8h0m18 0h0m13 1h0m-39 3h0m39 14h0m-27 0h0m22 3h0m-21 8h0m-10 1h0m32 8h0m-13 2h0m-7 0h0m-16 2h0m38 4h0m-12 1h0m-22 13h0m6 11h0m21 10h0m-32 4h0m9 6h0m23 13h0m-3 7h0m-21 7h0m4 6h0m14 2h0m-23 9h0m42-15h0m9-15h0m-10-9h0m7-1h0m5-7h0m11-2h0m-21-4h0m31-3h0m-5-1h0m9-1h0m7-1h0m-28-2h0m18-1h0m-24-1h0m18-2h0m4-4h0m5 0h0m8-1h0m-45-1h0m21-1h0m9-4h0m6-1h0m-19-4h0m17-2h0m6-3h0m-27-1h0m20-2h0m-11-4h0m-20-1h0m23-4h0m-6-1h0m19 0h0m6-4h0m-41-4h0m20 0h0m11 0h0m-20-1h0m23-2h0m-16 0h0m22-1h0m-41-2h0m27 0h0m7 0h0m-27-4h0m34-1h0m-20-1h0m19-3h0m-15 0h0m5-1h0m-25 0h0m4-1h0m-8 0h0m18-1h0m-3-3h0m22-2h0m-37-2h0m36-2h0m-19 0h0m23 0h0m-8-2h0m-31-1h0m5-1h0m7 0h0m15-2h0m-19-1h0m29-3h0m-5-2h0m-4-3h0m7 0h0m-24-2h0m-4 0h0m34-1h0m-20 0h0m4-5h0m-5-3h0m-19-2h0m31 0h0m-28-6h0m24 0h0m8-1h0m-7-5h0m-4-5h0m14-1h0m-28 0h0m21-2h0m-4-3h0m13-1h0m-26-6h0m10-10h0m11-4h0m-2-11h0m-34 0h0m2-8h0m6-3h0m-13-2h0m46-4h0m-23-2h0m-18-2h0m31-3h0m-16-3h0m11-2h0m10-4h0m-13-3h0m11-15h0m-5-9h0m39-30h0m1 6h0m-7 1h0m-6 9h0m-12 0h0m28 3h0m13 5h0m-18 0h0m-6 2h0m24 5h0m-41 1h0m12 4h0m14 1h0m-23 1h0m31 1h0m6 2h0m-33 0h0m15 2h0m7 3h0m7 1h0m-21 10h0m-16 0h0m37 3h0m-16 2h0m-15 1h0m32 6h0m-21 1h0m14 2h0m-6 3h0m-15 2h0m37 1h0m-18 1h0m4 2h0m-15 0h0m19 2h0m-22 4h0m11 2h0m-19 4h0m22 8h0m13 6h0m-15 3h0m5 0h0m-9 3h0m20 3h0m-39 0h0m32 1h0m-24 1h0m23 2h0m-15 0h0m26 2h0m-28 2h0m15 2h0m-30 0h0m4 0h0m9 1h0m26 1h0m-21 3h0m13 1h0m-21 0h0m15 1h0m-12 2h0m22 5h0m-36 1h0m10 1h0m17 0h0m-10 5h0m-7 0h0m4 2h0m10 0h0m10 1h0m6 1h0m-41 1h0m4 1h0m19 0h0m17 8h0m-27 0h0m7 1h0m16 2h0m-22 1h0m-11 1h0m17 2h0m-10 3h0m31 6h0m-8 1h0m-7 0h0m-5 2h0m23 1h0m-45 0h0m4 2h0m7 1h0m4 0h0m14 4h0m17 3h0m-14 1h0m-15 1h0m-6 1h0m10 2h0m-15 0h0m20 3h0m-14 1h0m-6 2h0m31 1h0m-31 3h0m37 0h0m-14 0h0m-29 1h0m42 3h0m-29 0h0m25 2h0m-4 3h0m-17 0h0m-12 1h0m36 1h0m-40 2h0m32 2h0m-14 0h0m22 1h0m-26 0h0m-12 0h0m43 1h0m-18 2h0m9 1h0m-19 1h0m8 1h0m-20 1h0m39 2h0m-35 0h0m28 1h0m-38 0h0m30 1h0m5 2h0m-23 1h0m9 1h0m16 3h0m-20 3h0m9 1h0m-6 7h0m13 1h0m14 0h0m-7 1h0m-40 2h0m19 0h0m9 4h0m-19 2h0m-6 5h0m52-19h0m11-2h0m6-3h0m-23-1h0m4-1h0m23 0h0m-6-2h0m11-1h0m7-1h0m5-2h0m-21 0h0m-17-2h0m11-1h0m-4-3h0m17 0h0m-9-1h0m-12-4h0m-4-1h0m35-3h0m-18-2h0m-10-1h0m-9-2h0m5-4h0m-9 0h0m15-1h0m9-2h0m22-1h0m-28-2h0m12-1h0m-23-1h0m33-1h0m-6-1h0m-23 0h0m9-1h0m22-4h0m-35-2h0m7 0h0m12-1h0m-4-2h0m22-1h0m-8 0h0m6-4h0m-41-2h0m15 0h0m-11-1h0m32-2h0m-4-1h0m-17 0h0m30 0h0m-25-1h0m-12-2h0m5-1h0m18-2h0m-31 0h0m24-4h0m-18 0h0m36-1h0m-26-7h0m-7-1h0m15 0h0m14-2h0m5-1h0m-40-2h0m31-3h0m-20 0h0m-5-2h0m30-2h0m-36 0h0m13 0h0m8-1h0m11-3h0m8 0h0m-31-2h0m5-1h0m28-1h0m-13-1h0m-5 0h0m-27-1h0m21 0h0m10-3h0m-33 0h0m27-2h0m20-3h0m-37-2h0m10 0h0m-14-4h0m35 0h0m-4-2h0m-26-1h0m11-1h0m-4-1h0m7-2h0m-13-2h0m26-2h0m-12 0h0m-17-6h0m29 0h0m-34-1h0m18 0h0m11 0h0m-15-1h0m19-2h0m-26-2h0m11-2h0m-19-1h0m32-1h0m-28-1h0m17-1h0m18-3h0m-25 0h0m29-5h0m-43 0h0m21-1h0m22-3h0m-22-1h0m6-2h0m-18-2h0m12 0h0m-17 0h0m34-1h0m-22-1h0m14-2h0m10-1h0m-7-6h0m11-2h0m-42-5h0m34-1h0m-14-3h0m-17-8h0m7-6h0m17-2h0m-31-3h0m24-1h0m15-3h0m-31-8h0m18-1h0m17-8h0m-22-2h0m3-2h0m15-12h0m-30-4h0m26-6h0m34-15h0m-13 4h0m3 3h0m-9 2h0m23 0h0m-10 0h0m13 5h0m16 1h0m-38 0h0m14 0h0m16 0h0m-14 4h0m15 3h0m-37 0h0m5 5h0m33 3h0m-20 3h0m17 0h0m-32 6h0m36 0h0m-18 3h0m14 1h0m-22 2h0m33 0h0m-26 4h0m11 2h0m-24 1h0m-6 0h0m13 1h0m28 2h0m-37 0h0m23 1h0m3 3h0m16 1h0m-43 0h0m34 0h0m-29 1h0m36 4h0m-9 0h0m-4 2h0m-16 1h0m22 2h0m-25 5h0m10 1h0m-3 5h0m-13 1h0m8 1h0m31 6h0m-45 4h0m7 0h0m35 2h0m-8 1h0m-20 1h0m12 2h0m12 1h0m-34 2h0m-4 2h0m26 3h0m-8 1h0m22 1h0m-40 4h0m36 0h0m5 2h0m-26 0h0m11 0h0m-5 1h0m14 4h0m-14 0h0m23 0h0m-46 1h0m40 2h0m-26 2h0m6 0h0m-10 1h0m18 1h0m7 1h0m-15 1h0m28 3h0m-23 1h0m-21 0h0m4 1h0m22 1h0m8 2h0m-24 3h0m22 0h0m-24 4h0m-5 0h0m20 1h0m14 0h0m-4 2h0m-7 2h0m11 2h0m-28 1h0m16 1h0m16 1h0m-8 0h0m-16 1h0m-5 3h0m-7 2h0m26 3h0m-24 0h0m19 1h0m0 5h0m-8 1h0m-4 0h0m-8 0h0m26 3h0m-23 1h0m-13 0h0m47 1h0m-30 1h0m22 4h0m-38 0h0m10 1h0m11 0h0m12 0h0m7 3h0m-34 2h0m15 2h0m16 0h0m-14 3h0m-14 1h0m29 1h0m-35 1h0m17 1h0m-7 1h0m33 1h0m-17 0h0m9 1h0m4 1h0m-21 0h0m-11 1h0m4 3h0m29 0h0m-32 1h0m18 0h0m-5 1h0m-23 3h0m7 1h0m31 0h0m-16 1h0m10 2h0m6 3h0m-24 1h0m6 0h0m-17 1h0m6 2h0m17 0h0m7 0h0m12 1h0m-31 2h0m8 1h0m-20 0h0m40 3h0m-7 3h0m-19 1h0m16 2h0m-9 2h0m-12 0h0m-7 1h0m15 1h0m20 2h0m-24 0h0m6 1h0m-18 3h0m0 4h0m13 6h0m-3 6h0m33-33h0m8-2h0m-4-2h0m3-9h0m-7 0h0m9-3h0m6-1h0m4-9h0m-15-1h0m30 0h0m-25-1h0m7-1h0m8-2h0m-24-1h0m6-1h0m15-2h0m11-4h0m-17-2h0m8 0h0m4-3h0m-22-1h0m5-1h0m25-1h0m-20-4h0m-12 0h0m-1-6h0m27-2h0m-24-2h0m14 0h0m-3-4h0m15-1h0m-9-4h0m-4 0h0m15-1h0m-11-3h0m-15-2h0m1-8h0m3-5h0m6-1h0m-7-4h0m-5-5h0m-3-1h0m2-6h0m-3-5h0m3-4h0m7-4h0m-1-6h0m-4-2h0m5-5h0m-2-5h0m-6-16h0m29-9h0m-24-12h0m2-12h0m-5-6h0m-3-7h0"/>
<path transform="scale(.5)" fill="none" stroke="#B63679" stroke-width="12.8" stroke-linecap="round" d="M687 615h0m201 521h0m138 227h0m-8-5h0m169 74h0m18 12h0m8-671h0m55-24h0m-8 59h0m-4 9h0m40 8h0m-5 921h0m39-859h0m9-21h0m27-91h0m-21 48h0m11 2h0m21 20h0m-32 34h0m46 66h0m2-182h0m109 205h0m21-16h0m11-27h0m-4-3h0m1-6h0m-2-6h0m6-6h0m-7-322h0m-14-20h0m10-20h0m2-5h0m49-59h0m-3 10h0m-30 23h0m27 10h0m-23 3h0m10 4h0m5 9h0m-4 6h0m-6 5h0m11 10h0m-7 29h0m9 8h0m-1 22h0m3 271h0m-10 6h0m14 3h0m-11 13h0m-13 14h0m3 5h0m8 6h0m-2 11h0m7 3h0m-26 3h0m37 35h0m38 43h0m5-11h0m-25-15h0m33-3h0m-7-20h0m6-5h0m-23-20h0m11 0h0m-7-2h0m18-26h0m-19-12h0m19-8h0m10-7h0m-15-8h0m-25-1h0m28-23h0m-14-4h0m6-8h0m-14-6h0m12-121h0m0-24h0m-23-111h0m1-15h0m7-2h0m8-1h0m11-3h0m5-7h0m-27-8h0m0-4h0m24-14h0m11-14h0m-36-18h0m-1-18h0m7-20h0m47-16h0m0 9h0m8 5h0m1 6h0m16 1h0m-29 10h0m36 22h0m-25 14h0m25 0h0m-13 7h0m-25 1h0m-4 5h0m14 41h0m24 24h0m-22 1h0m22 13h0m-38 5h0m29 6h0m0 19h0m3 113h0m11 4h0m-16 140h0m-27 4h0m43 14h0m-37 10h0m-7 16h0m30 11h0m-23 1h0m8 2h0m-5 10h0m5 7h0m-15 5h0m15 1h0m26 9h0m-15 1h0m-7 5h0m-16 26h0m41 5h0m-24 9h0m12 0h0m-3 4h0m32-26h0m0-33h0m0-43h0m5-3h0m15-8h0m-20-25h0m2-139h0m7-4h0m21-23h0m-29-2h0m16-6h0m-12-1h0m-18-1h0m43-1h0m-35-3h0m39-14h0m-42-6h0m5 0h0m23-22h0m10-14h0m-27-26h0m27-15h0m0-19h0m-39-30h0m25-8h0m9-13h0m-20-1h0m-8-6h0m27-28h0m-24 0h0m24-16h0m-31 0h0m38-35h0m-9-5h0m8 0h0m-15-10h0m64-11h0m-32 12h0m15 2h0m-25 15h0m22 2h0m11 9h0m9 4h0m-19 2h0m-15 18h0m-3 3h0m-5 18h0m30 3h0m-31 12h0m31 3h0m13 2h0m-15 1h0m-29 10h0m35 12h0m-23 41h0m2 15h0m14 4h0m15 0h0m-35 8h0m15 1h0m-17 6h0m-2 20h0m22 7h0m-22 6h0m19 24h0m-9 51h0m-7 0h0m23 20h0m-12 14h0m9 15h0m14 23h0m-24 6h0m8 18h0m-24 118h0m11 27h0m30 21h0m-17 5h0m24-223h0m14 0h0m1-85h0m5-11h0m-14-30h0m6-4h0m-9-3h0m32-19h0m4-7h0m-21-10h0m17-39h0m-30-9h0m16-24h0m-11-19h0m33-13h0m-39-1h0m14-19h0m-15-10h0m24-47h0m9-4h0m-30-2h0m-3-7h0m54 48h0m6 8h0m16 42h0m-14 13h0m-19 13h0m45 17h0m-16 6h0m-8 48h0m-5 18h0m4 2h0m59 39h0m-12-28h0m15-15h0m-34-57h0m43-21h0m-4-19h0m-27-2h0m17-3h0m-22-11h0m32-19h0m-7-13h0m-9-2h0m-14-3h0m24-9h0m44 21h0m-2 10h0m3 28h0m-1 3h0m-27 2h0m-1 4h0m18 24h0m11 2h0m-5 18h0m15 1580h0m-4 8h0m-14 8h0m-16 0h0m38 2h0m-4 10h0m-35 7h0m15 1h0m25 11h0m-15 5h0m-6 3h0m10 1h0m12 5h0m-10 4h0m23 59h0m1-6h0m2-7h0m29-3h0m-11-28h0m-22-37h0m29-27h0m-37-3h0m28-1h0m-12-7h0m-13-5h0m-4-1h0m39-2h0m-9-1521h0m0-2h0m-30-21h0m23-73h0m1-72h0m-11-14h0m47 109h0m20 85h0m1 1h0m2 368h0m-7 86h0m-13 1097h0m16 0h0m2 58h0m-19 39h0m-16 6h0m78 42h0m2-10h0m-15-24h0m-9-26h0m10-16h0m26-1h0m3-22h0m-29-4h0m12-9h0m-2-15h0m-16-1h0m11-1h0m-7-1h0m22-8h0m10-4h0m-19-25h0m-11-11h0m24-1009h0m-39-68h0m34 0h0m-21-5h0m15-58h0m26-368h0m18 56h0m14 187h0m-20 40h0m5 23h0m1 48h0m-6 5h0m-14 42h0m23 43h0m-13 8h0m-12 34h0m24 1045h0m-16 15h0m-10 5h0m28 12h0m-10 61h0m-19 7h0m11 11h0m-12 11h0m25 20h0m-21 1h0m42 18h0m42 61h0m-4-6h0m-16-12h0m-10-6h0m6-18h0m16-22h0m-22-15h0m18-4h0m-4-3h0m6-30h0m-23-46h0m31 0h0m5-25h0m-32-8h0m2-33h0m1-7h0m19-904h0m-24-38h0m34-10h0m-22-26h0m-14-64h0m25-22h0m-30-10h0m34-11h0m-30-52h0m5-9h0m-9-198h0m12-11h0m-4-18h0m-3-57h0m-3-5h0m36-34h0m-25-26h0m8-26h0m38 17h0m16 27h0m4 43h0m0 39h0m-10 1h0m4 25h0m-12 11h0m13 5h0m-24 144h0m40 10h0m-13 3h0m15 12h0m-1 18h0m-45 24h0m23 17h0m0 6h0m24 65h0m-36 24h0m13 29h0m-17 10h0m28 16h0m10 19h0m-30 16h0m14 46h0m-7 904h0m12 2h0m1 35h0m-24 2h0m20 7h0m8 7h0m3 1h0m-2 30h0m5 13h0m-32 14h0m28 10h0m-20 3h0m19 6h0m-14 10h0m-5 8h0m21 3h0m-38 5h0m2 53h0m9 3h0m15 8h0m-27 1h0m22 3h0m22 2h0m-38 3h0m7 9h0m-3 8h0m39-59h0m9-3h0m6-8h0m16-3h0m-18 0h0m9-11h0m3-5h0m-12-3h0m9-7h0m15-1h0m-18-4h0m-17-22h0m-1-6h0m6-18h0m22-59h0m-30-9h0m26-596h0m16-7h0m0-15h0m-34-283h0m27-7h0m-22-13h0m-4-8h0m-6-14h0m1-13h0m19-31h0m-9-1h0m1-30h0m25-77h0m-12-117h0m-23-39h0m9-60h0m-8-53h0m-9-15h0m35-3h0m-6-95h0m9-20h0m-6-23h0m49-33h0m9 4h0m-30 50h0m3 4h0m24 6h0m-31 8h0m18 57h0m-18 82h0m16 85h0m4 20h0m-7 21h0m7 8h0m-24 109h0m7 36h0m20 1h0m9 49h0m-20 39h0m-16 5h0m8 25h0m12 9h0m-13 18h0m32 37h0m-13 184h0m-16 13h0m22 2h0m9 5h0m-32 7h0m28 20h0m-28 25h0m27 5h0m-12 20h0m-3 18h0m-10 569h0m-12 17h0m-3 126h0m73-705h0m-26-8h0m30-7h0m-11-1h0m27-7h0m-4-22h0m-27-1h0m1-43h0m-8-43h0m40-152h0m-10-3h0m-23-18h0m-5-2h0m21-21h0m-5-27h0m8-8h0m13-11h0m-22-2h0m-20-79h0m1-22h0m25-42h0m7-21h0m-28 0h0m-1-65h0m25-16h0m-3-30h0m-20-35h0m9-44h0m-2-95h0m15-4h0m8-66h0m-32-24h0m-4-14h0m8-3h0m-4-20h0m14-12h0m-4-13h0m72 54h0m-10 9h0m-18 14h0m22 73h0m-14 100h0m-2 34h0m9 10h0m-6 12h0m10 7h0m-19 9h0m-13 9h0m42 4h0m-34 26h0m22 17h0m-17 2h0m16 55h0m4 26h0m-21 77h0m-9 38h0m35 54h0m-3 42h0m-22 26h0m-10 142h0m4 3h0m-6 29h0m39 79h0m-23 3h0m27 3h0m-34 68h0m41-36h0m9-264h0m-14-17h0m1-49h0m3-3h0m10-58h0m29-74h0m-36-19h0m-1-36h0m30-15h0m9-31h0m-9-50h0m2-140h0m2-12h0m-20-27h0m7-41h0m6-63h0m-19-34h0m34-34h0m10 10h0m24 63h0m-11 36h0m-4 4h0m-16 84h0m2 13h0m28 59h0m-15 45h0m8 33h0m-9 5h0m2 41h0m18 15h0m-3 11h0m-5 31h0m-18 7h0m-6 2h0m2 34h0m23 71h0m-15 24h0m4 45h0m-4 43h0m-4 43h0m23 7h0m-8 11h0m12 33h0m4 44h0m6 20h0m-6 51h0m-15 5h0m19 18h0m-15 48h0m-2 5h0m-22 2h0m17 29h0m25-23h0m28-17h0m-8-9h0m25-6h0m-44-9h0m10-3h0m21-44h0m6-7h0m-34-1h0m5-8h0m26-1h0m-11-4h0m-11-2h0m23-21h0m-25 0h0m18-4h0m-9-5h0m25-15h0m-15-40h0m-2-18h0m-5-55h0m17-10h0m-9-149h0m11-27h0m-14-11h0m12-6h0m-22-50h0m3-20h0m3-15h0m-25-28h0m3-74h0m11-24h0m12-176h0m-23-18h0m43-7h0m-30-3h0m32-7h0m-31-35h0m18-17h0m7-4h0m1-17h0m17 94h0m-6 50h0m24 19h0m12 39h0m-28 68h0m2 98h0m8 18h0m-11 14h0m-12 93h0m27 9h0m3 66h0m17 10h0m-31 35h0m-11 17h0m26 38h0m-13 79h0m5 29h0m3 18h0m1 8h0m15 3h0m-39 2h0m15 0h0m-3 13h0m23 3h0m3 17h0m-5 24h0m-30 2h0m29 2h0m11 21h0m-24 13h0m11 6h0m-16 11h0m18 2h0m-10 2h0m3 39h0m44-52h0m-11-3h0m5 0h0m22-5h0m-21-1h0m15-5h0m10-6h0m-42-22h0m10-37h0m-10-8h0m43-3h0m-34-2h0m-10 0h0m15-57h0m10-1h0m-15-89h0m30-4h0m-15-26h0m-20-26h0m3-8h0m-6-7h0m10-58h0m-11-16h0m2-48h0m27-10h0m-22-62h0m-6-158h0m-2-53h0m13-82h0m79 86h0m-17 98h0m-24 17h0m33 10h0m-11 17h0m9 89h0m-24 56h0m4 40h0m19 58h0m-22 33h0m8 24h0m-7 1h0m13 5h0m-23 3h0m43 2h0m-20 17h0m17 7h0m-38 1h0m35 51h0m-13 20h0m-10 4h0m25 108h0m-24 18h0m17 6h0m-23 1h0m-10 12h0m84 120h0m-9-11h0m-15-11h0m-11-13h0m36-100h0m-22-9h0m19-19h0m-4-37h0m-26-67h0m34-16h0m-13-26h0m-7-4h0m27-25h0m-3-19h0m1-19h0m-45-3h0m14-10h0m13-5h0m0-5h0m-26-34h0m17-5h0m4-24h0m-21-8h0m20-35h0m7-23h0m-25-12h0m19-97h0m16-54h0m5-9h0m-30-27h0m34-61h0m-9-22h0m-23-21h0m8-6h0m62-96h0m-36 139h0m21 15h0m16 39h0m3 15h0m-13 28h0m-20 28h0m30 24h0m-8 61h0m-13 198h0m-2 28h0m4 19h0m4 41h0m-6 20h0m23 3h0m-30 10h0m12 5h0m-21 56h0m16 67h0m19 70h0m8 2h0m-4 15h0m7 8h0m33 116h0m-32-73h0m41-47h0m-35-4h0m14-18h0m6-27h0m16-7h0m-6-8h0m-14-11h0m-19-137h0m0-166h0m-3-239h0m41-31h0m-39-18h0m18-2h0m21-203h0m-42-4h0m33-7h0m-8-32h0m5-5h0m62 39h0m-24 7h0m-18 17h0m43 11h0m-11 36h0m6 16h0m1 69h0m-22 30h0m1 9h0m28 38h0m-41 30h0m17 4h0m12 3h0m5 33h0m2 59h0m-37 75h0m31 5h0m4 29h0m-23 14h0m21 314h0m-28 18h0m36 1h0m-7 18h0m-24 6h0m13 12h0m-21 16h0m27 6h0m-12 40h0m16 2h0m-11 8h0m-19 10h0m-8 13h0m28 43h0m-27 11h0m84 72h0m-27-59h0m-9-6h0m4-25h0m28-48h0m7-13h0m-28-32h0m24-14h0m-22-8h0m21-6h0m-18-8h0m-8-9h0m-8-11h0m0-5h0m44-1h0m-39-361h0m-2-30h0m29-60h0m-8-28h0m20-37h0m-39-3h0m2-5h0m36 0h0m-9-1h0m-29-55h0m18-11h0m-11-114h0m7-19h0m5-25h0m6-26h0m5-13h0m-32-30h0m87 60h0m-39 28h0m-4 11h0m44 5h0m-12 12h0m11 8h0m-25 4h0m15 19h0m-9 1h0m18 45h0m3 19h0m-8 16h0m7 2h0m1 35h0m-16 120h0m-18 9h0m20 0h0m-11 20h0m-5 25h0m27 153h0m-17 29h0m-20 26h0m-1 0h0m33 22h0m-21 18h0m-12 141h0m30 7h0m-28 14h0m30 7h0m-3 83h0m9 17h0m-8 2h0m-30 17h0m38 1h0m-31 6h0m31 1h0m-18 3h0m-24 18h0m36 44h0m34-58h0m7-5h0m-3-48h0m-8-66h0m8-176h0m11-58h0m-23-20h0m5-63h0m20-221h0m-5-39h0m-15-6h0m-8-7h0m3-4h0m27-10h0m-36-5h0m37-12h0m-20-1h0m14-8h0m-32-15h0m12-8h0m22-2h0m-2-13h0m1-22h0m0-8h0m-30-5h0m21-11h0m-4-18h0m10-36h0m16 62h0m14 50h0m-6 87h0m4 17h0m-14 25h0m3 246h0m18 6h0m4 48h0m11 5h0m-33 5h0m32 4h0m-19 8h0m20 26h0m40-21h0m11-29h0m-34-97h0m42-29h0m31-46h0m11 25h0m-35 27h0m21 95h0m13 2h0m-19 3h0m-13 26h0m20 5h0m41-50h0m4-6h0m14-5h0m-21-28h0m7-24h0m21-23h0m-5 0h0m-16-31h0m-10-6h0m70-93h0m-30 35h0m4 7h0m36 3h0m-33 18h0m23 2h0m-14 19h0m15 39h0m-37 21h0m18 34h0m20 8h0m-18 9h0m-11 9h0m19 35h0m48-3h0m-8-39h0m14-4h0m-25-13h0m9-17h0m-9-4h0m-10-15h0m8-21h0m30-2h0m-21-1h0m30-7h0m-35 0h0m20-12h0m14-12h0m-35-12h0m3-37h0m23-29h0m25-27h0m-9 2h0m4 4h0m35 2h0m-16 1h0m14 4h0m-19 35h0m-2 17h0m10 34h0m-29 31h0m-2 76h0m9 21h0m-6 3h0m58-36h0m-6-30h0m0-29h0m3-43h0m2-31h0"/>
<path transform="scale(.5)" fill="none" stroke="#FB9A69" stroke-width="12.8" stroke-linecap="round" d="M1218 1452h0m132-625h0m234 64h0m78-302h0m26 107h0m144-64h0m109 1548h0m60 76h0m-31-1728h0m71 48h0m-20 1672h0m-1 42h0m70 23h0m24-1236h0m4 44h0m12 1089h0m23 137h0m-27 10h0m82 5h0m-36-1681h0m47 416h0m-5 48h0m26 1131h0m-23 12h0m18 122h0m47-9h0m-3-37h0m22-113h0m-35-1068h0m14-68h0m-16-71h0m21-9h0m9-262h0m-31-83h0m71 232h0m-2 296h0m-11 21h0m24 415h0m29-586h0m-1-15h0m47-378h0m-9 168h0m9 827h0m-11 11h0m49-719h0m35-187h0m51 205h0m40 584h0m6-96h0m-16-536h0m-19-71h0m44 89h0m-6 229h0m21 320h0m16 49h0m0 12h0m35-82h0m19-154h0m-29-263h0m18-167h0m-27-109h0m87 201h0m-23 168h0m-18 78h0m43 103h0m-43 77h0m64-146h0m13-201h0m12-135h0m6 349h0m8 128h0m75 236h0m-19-41h0m16-194h0m-11-273h0m77 581h0m36-97h0m-4-481h0m44-179h0m-8 97h0m67 413h0m-29-541h0m86 541h0m145-277h0m108 213h0"/>
<path transform="scale(.5)" fill="none" stroke="#FCFDBF" stroke-width="12.8" stroke-linecap="round" d="M1606 487h0m479 1725h0m982-1090h0"/>
<path d="M222.40 142.90V1302.55H1829.00" fill="none" stroke="#000" stroke-width="4.45" stroke-linejoin="miter" stroke-linecap="butt"/>
<path d="M207.95 155.50H222.40" stroke="#000" stroke-width="4.45"/>
<path d="M207.95 365.90H222.40" stroke="#000" stroke-width="4.45"/>
<path d="M207.95 576.30H222.40" stroke="#000" stroke-width="4.45"/>
<path d="M207.95 786.70H222.40" stroke="#000" stroke-width="4.45"/>
<path d="M207.95 997.10H222.40" stroke="#000" stroke-width="4.45"/>
<path d="M207.95 1207.50H222.40" stroke="#000" stroke-width="4.45"/>
<path d="M631.40 1302.55V1317.00" stroke="#000" stroke-width="4.45"/>
<path d="M1192.70 1302.55V1317.00" stroke="#000" stroke-width="4.45"/>
<path d="M1754.00 1302.55V1317.00" stroke="#000" stroke-width="4.45"/>
<text transform="translate(195.4 174.5) scale(0.950 1)" font-size="52.6" text-anchor="end">15</text>
<text transform="translate(195.4 384.9) scale(0.950 1)" font-size="52.6" text-anchor="end">10</text>
<text transform="translate(195.4 595.3) scale(0.950 1)" font-size="52.6" text-anchor="end">5</text>
<text transform="translate(195.4 805.7) scale(0.950 1)" font-size="52.6" text-anchor="end">0</text>
<text transform="translate(195.4 1016.1) scale(0.950 1)" font-size="52.6" text-anchor="end">-5</text>
<text transform="translate(195.4 1226.5) scale(0.950 1)" font-size="52.6" text-anchor="end">-10</text>
<text transform="translate(632.2 1367.2) scale(0.950 1)" font-size="52.6" text-anchor="middle">0</text>
<text transform="translate(1193.5 1367.2) scale(0.950 1)" font-size="52.6" text-anchor="middle">10</text>
<text transform="translate(1754.8 1367.2) scale(0.950 1)" font-size="52.6" text-anchor="middle">20</text>
<text x="1021.3" y="1435" font-size="61.5" text-anchor="middle" textLength="223" lengthAdjust="spacingAndGlyphs">UMAP_1</text>
<text transform="translate(95.1 722.4) rotate(-90)" font-size="61.5" text-anchor="middle" textLength="232" lengthAdjust="spacingAndGlyphs">UMAP_2</text>
<text x="1025.2" y="101.2" font-size="70.8" font-weight="bold" text-anchor="middle" textLength="233" lengthAdjust="spacingAndGlyphs">INPP5F</text>
<defs><linearGradient id="mg" x1="0" y1="1" x2="0" y2="0"><stop offset="0%" stop-color="#000004"/><stop offset="10%" stop-color="#140E36"/><stop offset="20%" stop-color="#3B0F70"/><stop offset="30%" stop-color="#641A80"/><stop offset="40%" stop-color="#8C2981"/><stop offset="50%" stop-color="#B73779"/><stop offset="60%" stop-color="#DE4968"/><stop offset="70%" stop-color="#F7705C"/><stop offset="80%" stop-color="#FE9F6D"/><stop offset="90%" stop-color="#FECF92"/><stop offset="100%" stop-color="#FCFDBF"/></linearGradient></defs>
<rect x="1885.0" y="578.2" width="64.0" height="319.0" fill="url(#mg)"/>
<path d="M1885.0 667.8h12.8M1949.0 667.8h-12.8" stroke="#fff" stroke-width="1.6"/>
<text transform="translate(1979.3 686.8) scale(0.950 1)" font-size="52.6">1.0</text>
<path d="M1885.0 782.8h12.8M1949.0 782.8h-12.8" stroke="#fff" stroke-width="1.6"/>
<text transform="translate(1979.3 801.8) scale(0.950 1)" font-size="52.6">0.5</text>
<path d="M1885.0 897.2h12.8M1949.0 897.2h-12.8" stroke="#fff" stroke-width="1.6"/>
<text transform="translate(1979.3 916.2) scale(0.950 1)" font-size="52.6">0.0</text>
</svg></body></html>
